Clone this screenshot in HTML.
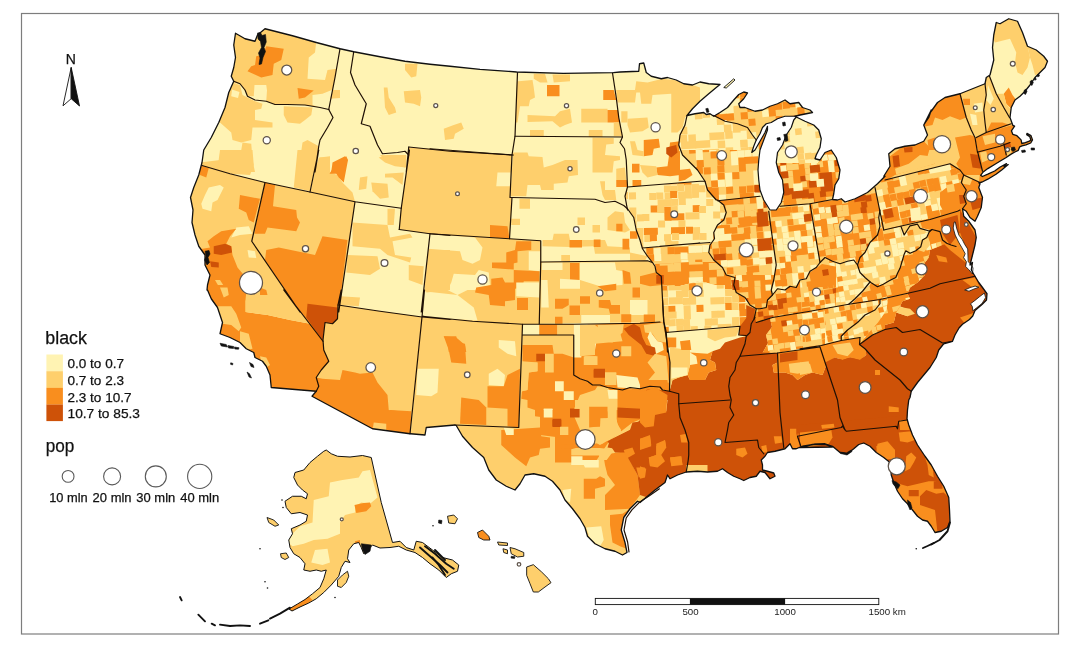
<!DOCTYPE html>
<html><head><meta charset="utf-8"><title>map</title>
<style>html,body{margin:0;padding:0;background:#fff;}svg{display:block;font-family:"Liberation Sans",Arial,sans-serif;filter:blur(0.6px);}</style></head>
<body>
<svg width="1080" height="648" viewBox="0 0 1080 648">
<rect x="0" y="0" width="1080" height="648" fill="#fff"/>
<rect x="21.5" y="13.5" width="1037" height="620.5" fill="#fff" stroke="#7d7d7d" stroke-width="1.2"/>
<defs><clipPath id="land"><polygon points="235.5,33.25 245,38.75 255,41.25 257.5,35 265,28.75 292.5,35.75 316.25,42.5 340,48.75 353.75,51.75 380,56.75 405,61.25 430,64.25 450,66.25 480,69.33 516.67,72 563.33,73.33 613.33,72.67 620,72 638.75,71.25 639.5,63.75 643.75,63 646.25,72.5 651.25,76.25 661.25,78.75 667.5,77.5 676.25,80 683.75,83.75 692.5,85 700,82 708.75,83.75 720,84.5 716.25,87.5 708.75,93.75 700,101.25 692.5,108.75 687,115.5 695,113.75 703.75,112.5 706.25,114.5 710,113.75 713.75,116.25 720,112.5 727.5,107.5 733.75,100 738.75,94.5 743.75,92 747.5,93 743.75,98.75 738.75,103.75 740,107.5 745,107.5 755,111.25 762.5,110 770,106.25 777.5,103.75 785,100 790,103.75 798.75,102.5 802.5,107.5 810,110 812.5,112.5 806.25,113.75 800,115 795,116.25 796.25,117 805,121.25 813.75,125 818.75,130 821.25,138.75 820,147.5 816.25,155 815,158.75 820,160 825,152.5 831.25,150 836.25,157.5 840,170 838.75,178.75 835,185 833.75,193.75 832.5,199.5 837.5,200 841.25,198.75 845,202 855,198.75 867.5,192.5 877.5,183.75 885,176.25 883.75,176.25 890,166.25 888.75,153.75 895,148.75 905,146.25 915,145 923.75,141.25 927.5,135 923.75,125 928.75,117.5 931.25,110 923.75,125 927.5,117.5 931.25,111.25 937.5,102.5 945,97.5 960,93.75 985,83.75 986.25,77.5 990,75 993.75,60 992.5,47.5 993.75,35 996.25,22.5 1000,23.75 1008.75,18.75 1017.5,21.25 1022.5,32.5 1027.5,46.25 1036.25,50 1043.75,56.25 1047.5,61.25 1045,67.5 1040,72.5 1035,77.5 1030,85 1025,91.25 1020,96.25 1015,100 1011.25,107.5 1010,117.5 1012.8,125.3 1014.6,126.2 1011.4,130.8 1012.8,134.3 1016.9,135.7 1021.1,139.9 1021.8,143.5 1025.3,142.6 1029.4,141.2 1030.8,139.9 1029.8,136.8 1026.7,134.6 1027,133.4 1031,135.6 1032.5,139.9 1030.7,143 1026,144.8 1022,145.8 1019.7,146.8 1018.3,150.3 1014.9,152 1010.7,154.4 1005.8,157.8 1000.3,161 995,164.3 987.8,168.6 982.9,172.3 980.6,175.3 982.4,176.5 987.8,174.2 994.7,171 999.8,167.2 1006.5,163.6 1004,166.6 1008.2,164.6 1001.7,170 996,174.3 987.8,179.2 982.2,182 978.75,182.8 980,183.75 978.75,187.5 982.5,197.5 981.25,207.5 977.5,216.25 975,221.25 970,217.5 966.25,211.25 962.5,208.75 963.75,216.25 968.75,221.25 975,230 976.25,237.5 975,245 972.5,255 970,265 972.5,262.5 971.25,270 975,276.25 978.75,282.5 982.5,287.5 987,293.75 986.5,300 982,304.5 975,310.5 972.75,316 969.5,319.5 962.5,324.25 959,328 955,335 952.5,341.25 943.75,343.75 938.75,350 936.25,357.5 930,367.5 923.75,375 917.5,382.5 911.25,391.25 910,397.5 908.75,400 907.5,410 907,418.75 908.75,425 912.5,435 917.5,445 925,456.25 931.25,465 937.5,476.25 943.75,486.25 948.75,497.5 949.5,510 950,521.25 947.5,527.5 941.25,531.25 935,532.5 931.25,526.25 927.5,521.25 922.5,520 917.5,516.25 912.5,510 907.5,503.75 902.5,498.75 897.5,491.25 893.75,482.5 891.25,475 890,462.5 883.75,457.5 876.25,452.5 870,446.25 863.75,443 858.75,444.5 853.75,448.75 847.5,453.75 840,452.5 832.5,446.25 825,443.75 812.5,444.5 800,447.5 832.5,447 825,444.5 815,444.25 802.5,446.25 796.25,448.75 792.5,448.75 790,443.75 785,448.75 775,451.25 767.5,452.5 765,456.25 761.25,460 762.5,465 762.5,470 767.5,471.25 773.75,473 775,476.25 770,478.75 765,472.5 760,471.25 756.25,476.25 750,477.5 743.75,480.5 740,478.75 733.75,476.25 727.5,472.5 722.5,468.75 717.5,471.25 707.5,472 697.5,471.25 686.25,472 677.5,475 670,478.75 667.5,475 665,482.5 655,490 647.5,496.25 640,502.5 637.5,501.25 630,508.75 623.75,517.5 621.25,530 625,542.5 627,552.5 622.5,555 615,551.25 605,548.75 595,543.75 587.5,536.25 585,527.5 580,518.75 572.5,508.75 565,500 560,490 552.5,481.25 545,476.25 533.75,473.75 525,475 520,483.75 515,490 506.25,486.25 496.25,480 488.75,470 483.75,457.5 472.5,447.5 462.5,436.25 456.25,425.5 455,425 426.25,427.5 425,435 410.5,433.75 410,433.75 372.5,428.75 312,396.25 316.25,391.25 271.25,387.5 270,375 266.25,366.25 262.5,361.25 255,357.5 253.75,352.5 246.25,348.75 240,342.5 230,337.5 220,333.75 222.5,322.5 220,315 217.5,307.5 211.25,298.75 207.5,290 207,290 207.5,285 210,275 205,265 205,255 198.75,246.25 195,235 192,222.5 193,210 190.5,197.5 193.75,187.5 198.75,175 202,162.5 203.75,150 202,162.5 203.75,150 211.25,137.5 218.75,122.5 225,107.5 228.75,92.5 233.75,81.25 231.25,76.25 233.75,67.5 235.5,57.5 233.75,45"/>
</clipPath></defs>
<polygon points="235.5,33.25 245,38.75 255,41.25 257.5,35 265,28.75 292.5,35.75 316.25,42.5 340,48.75 353.75,51.75 380,56.75 405,61.25 430,64.25 450,66.25 480,69.33 516.67,72 563.33,73.33 613.33,72.67 620,72 638.75,71.25 639.5,63.75 643.75,63 646.25,72.5 651.25,76.25 661.25,78.75 667.5,77.5 676.25,80 683.75,83.75 692.5,85 700,82 708.75,83.75 720,84.5 716.25,87.5 708.75,93.75 700,101.25 692.5,108.75 687,115.5 695,113.75 703.75,112.5 706.25,114.5 710,113.75 713.75,116.25 720,112.5 727.5,107.5 733.75,100 738.75,94.5 743.75,92 747.5,93 743.75,98.75 738.75,103.75 740,107.5 745,107.5 755,111.25 762.5,110 770,106.25 777.5,103.75 785,100 790,103.75 798.75,102.5 802.5,107.5 810,110 812.5,112.5 806.25,113.75 800,115 795,116.25 796.25,117 805,121.25 813.75,125 818.75,130 821.25,138.75 820,147.5 816.25,155 815,158.75 820,160 825,152.5 831.25,150 836.25,157.5 840,170 838.75,178.75 835,185 833.75,193.75 832.5,199.5 837.5,200 841.25,198.75 845,202 855,198.75 867.5,192.5 877.5,183.75 885,176.25 883.75,176.25 890,166.25 888.75,153.75 895,148.75 905,146.25 915,145 923.75,141.25 927.5,135 923.75,125 928.75,117.5 931.25,110 923.75,125 927.5,117.5 931.25,111.25 937.5,102.5 945,97.5 960,93.75 985,83.75 986.25,77.5 990,75 993.75,60 992.5,47.5 993.75,35 996.25,22.5 1000,23.75 1008.75,18.75 1017.5,21.25 1022.5,32.5 1027.5,46.25 1036.25,50 1043.75,56.25 1047.5,61.25 1045,67.5 1040,72.5 1035,77.5 1030,85 1025,91.25 1020,96.25 1015,100 1011.25,107.5 1010,117.5 1012.8,125.3 1014.6,126.2 1011.4,130.8 1012.8,134.3 1016.9,135.7 1021.1,139.9 1021.8,143.5 1025.3,142.6 1029.4,141.2 1030.8,139.9 1029.8,136.8 1026.7,134.6 1027,133.4 1031,135.6 1032.5,139.9 1030.7,143 1026,144.8 1022,145.8 1019.7,146.8 1018.3,150.3 1014.9,152 1010.7,154.4 1005.8,157.8 1000.3,161 995,164.3 987.8,168.6 982.9,172.3 980.6,175.3 982.4,176.5 987.8,174.2 994.7,171 999.8,167.2 1006.5,163.6 1004,166.6 1008.2,164.6 1001.7,170 996,174.3 987.8,179.2 982.2,182 978.75,182.8 980,183.75 978.75,187.5 982.5,197.5 981.25,207.5 977.5,216.25 975,221.25 970,217.5 966.25,211.25 962.5,208.75 963.75,216.25 968.75,221.25 975,230 976.25,237.5 975,245 972.5,255 970,265 972.5,262.5 971.25,270 975,276.25 978.75,282.5 982.5,287.5 987,293.75 986.5,300 982,304.5 975,310.5 972.75,316 969.5,319.5 962.5,324.25 959,328 955,335 952.5,341.25 943.75,343.75 938.75,350 936.25,357.5 930,367.5 923.75,375 917.5,382.5 911.25,391.25 910,397.5 908.75,400 907.5,410 907,418.75 908.75,425 912.5,435 917.5,445 925,456.25 931.25,465 937.5,476.25 943.75,486.25 948.75,497.5 949.5,510 950,521.25 947.5,527.5 941.25,531.25 935,532.5 931.25,526.25 927.5,521.25 922.5,520 917.5,516.25 912.5,510 907.5,503.75 902.5,498.75 897.5,491.25 893.75,482.5 891.25,475 890,462.5 883.75,457.5 876.25,452.5 870,446.25 863.75,443 858.75,444.5 853.75,448.75 847.5,453.75 840,452.5 832.5,446.25 825,443.75 812.5,444.5 800,447.5 832.5,447 825,444.5 815,444.25 802.5,446.25 796.25,448.75 792.5,448.75 790,443.75 785,448.75 775,451.25 767.5,452.5 765,456.25 761.25,460 762.5,465 762.5,470 767.5,471.25 773.75,473 775,476.25 770,478.75 765,472.5 760,471.25 756.25,476.25 750,477.5 743.75,480.5 740,478.75 733.75,476.25 727.5,472.5 722.5,468.75 717.5,471.25 707.5,472 697.5,471.25 686.25,472 677.5,475 670,478.75 667.5,475 665,482.5 655,490 647.5,496.25 640,502.5 637.5,501.25 630,508.75 623.75,517.5 621.25,530 625,542.5 627,552.5 622.5,555 615,551.25 605,548.75 595,543.75 587.5,536.25 585,527.5 580,518.75 572.5,508.75 565,500 560,490 552.5,481.25 545,476.25 533.75,473.75 525,475 520,483.75 515,490 506.25,486.25 496.25,480 488.75,470 483.75,457.5 472.5,447.5 462.5,436.25 456.25,425.5 455,425 426.25,427.5 425,435 410.5,433.75 410,433.75 372.5,428.75 312,396.25 316.25,391.25 271.25,387.5 270,375 266.25,366.25 262.5,361.25 255,357.5 253.75,352.5 246.25,348.75 240,342.5 230,337.5 220,333.75 222.5,322.5 220,315 217.5,307.5 211.25,298.75 207.5,290 207,290 207.5,285 210,275 205,265 205,255 198.75,246.25 195,235 192,222.5 193,210 190.5,197.5 193.75,187.5 198.75,175 202,162.5 203.75,150 202,162.5 203.75,150 211.25,137.5 218.75,122.5 225,107.5 228.75,92.5 233.75,81.25 231.25,76.25 233.75,67.5 235.5,57.5 233.75,45" fill="#FFF3B3"/>
<g clip-path="url(#land)">
<polygon points="225,25 265,25 340,47.5 335,77.5 329,109.5 320,107.5 305,105 287.5,104.5 275,104.5 266.25,101.25 255,100 247.5,96.25 245,90 240,83.75 225,82.5" fill="#FECF6C"/>
<polygon points="316.25,41.25 341.25,47.5 337,68.75 327.5,70 325,80 307.5,78.75 308.75,57.5 315,52.5" fill="#FFF3B3"/>
<polygon points="254.5,85 266.25,85 267,90.5 266.25,101.25 255,100 247.5,96.25 253.75,96.25" fill="#FFF3B3"/>
<polygon points="312.5,95 322.5,93.75 333,89.5 329,109.5 320,107.5 312.5,105" fill="#FFF3B3"/>
<polygon points="266.25,46.25 283.75,48.75 281.25,60 273.75,63.75 272.5,75 261.25,77.5 247.5,71.25 251.25,66.25 255,65 256.25,56.25 262.5,55" fill="#F98E1E"/>
<polygon points="297.5,88 313.75,90.5 305,97.5 298.75,98.75" fill="#F98E1E"/>
<polygon points="333,90 340,90 340,98 330,98.75" fill="#FECF6C"/>
<polygon points="240,85 242.5,95 255,101.25 262.5,103.75 261.25,108.75 255,110 255,120 272.5,122.5 272.5,127.5 252.5,127.5 251.25,140 241.25,142.5 232.5,140 231.25,132.5 220,122.5 210,120 222.5,85 231.25,82.5" fill="#FECF6C"/>
<polygon points="232,89.5 239.5,92 238,98 231.25,96.25" fill="#FFF3B3"/>
<polygon points="283.75,106.25 312.5,107.5 311.25,115 305,120 300,123.75 287.5,122.5 283.75,115" fill="#FECF6C"/>
<polygon points="220,160 230,155 241.25,150 242.5,142.5 251.25,143.75 252.5,160 255,172 195,172 200,162.5" fill="#FECF6C"/>
<polygon points="302.5,142.5 307.5,140 318.75,146.25 315,172 297.5,172 300,160" fill="#FECF6C"/>
<polygon points="220,150 252.5,150 253.75,165 250,175 230,173.75 217.5,168.75" fill="#FECF6C"/>
<polygon points="297.5,150 318.75,150 310,191.25 293.75,187.5 295,175" fill="#FECF6C"/>
<polygon points="318.75,157.5 330,157.5 330,172 316.25,172" fill="#FECF6C"/>
<polygon points="332.5,162.5 345,156.25 347.5,160 343.75,172 331.25,172" fill="#F98E1E"/>
<polygon points="378.75,157.5 387.5,155 406.25,155 406.25,167.5 395,166.25 385,162.5" fill="#FECF6C"/>
<polygon points="320,157.5 330,156.25 330,172.5 337.5,175 342.5,182.5 352.5,192.5 355,201.75 310.5,192 316.25,165" fill="#FECF6C"/>
<polygon points="336.25,162.5 346.25,156.25 348,160 343.75,182.5 338.75,177.5 336.25,173.75 329.5,173.75" fill="#F98E1E"/>
<polygon points="380,155 406.25,156.25 405,167.5 395,165 385,160" fill="#FECF6C"/>
<polygon points="385,173.75 403.75,172.5 402.5,185 392.5,177.5 385,177.5" fill="#FECF6C"/>
<polygon points="371.25,182.5 387.5,183.75 388.75,197.5 380,198.75 372.5,191.25" fill="#FECF6C"/>
<polygon points="360,177.5 367.5,176.25 366.25,188.75 358.75,190" fill="#FECF6C"/>
<polygon points="405,63.75 417.5,63.75 416.25,76.25 411.25,77.5 405,70" fill="#FECF6C"/>
<polygon points="383.75,87.5 387.5,87.5 388.75,97.5 395,107.5 396.25,112.5 388.75,115 385,107.5" fill="#FECF6C"/>
<polygon points="403.75,91.25 420,90 421.25,97.5 420,106.25 413.75,103.75 405,102.5" fill="#FECF6C"/>
<polygon points="443.75,128.75 453.75,125 461.25,122.5 463.75,128.75 455,133.75 453.75,138.75 445,140" fill="#FECF6C"/>
<polygon points="408.75,147.5 430,148.75 512,155 510,197.5 512,197.5 509.5,238.75 430,233.75 430,233.75 399.25,229.5 401.25,208.25 409.5,150 406.25,172 408.75,147" fill="#FECF6C"/>
<polygon points="497.5,172.5 510.5,172.5 510.5,186.25 496.25,186.25" fill="#FFF3B3"/>
<polygon points="490,225 507.5,226.25 509.5,238.75 490,237.5" fill="#F98E1E"/>
<polygon points="187.5,165.5 202,165.5 230,173.75 265,182.5 251.75,241.25 300,312 205,312 187.5,250" fill="#FECF6C"/>
<polygon points="200,165 208.75,168 206.25,177.5 200,175" fill="#F98E1E"/>
<polygon points="208.75,187.5 220,185 223.75,187.5 217.5,200 212.5,202.5 211.25,211.25 202.5,208.75 201.25,203.75 205,195" fill="#FFF3B3"/>
<polygon points="240,195 260,198.75 253.75,222.5 248.75,220 246.25,212.5 238.75,208.75" fill="#F98E1E"/>
<polygon points="236.25,227.5 248.75,226.25 252.5,233.75 240,235 231.25,237.5" fill="#FFF3B3"/>
<polygon points="221.25,231.25 236.25,228.75 230,236.25 226.25,243.75 231.25,246.25 232.5,255 237.5,267.5 243.75,275 241.25,288.75 246.25,293.75 242.5,312 230,312 205,312 195,285 195,250 210,247.5 207.5,241.25 213.75,236.25" fill="#F98E1E"/>
<polygon points="213.75,246.25 225,243.75 231.25,246.25 232,252.5 221.25,255 213.75,253.75" fill="#CE5208"/>
<polygon points="210,261.25 218.75,262.5 218.75,267.5 211.25,267" fill="#CE5208"/>
<polygon points="215,280 220,280 228.75,293.75 225,297.5" fill="#FECF6C"/>
<polygon points="247.5,250 255,251.25 256.25,258 248.75,257.5" fill="#FFF3B3"/>
<polygon points="260,287.5 266.25,290 267.5,295 260,295" fill="#F98E1E"/>
<polygon points="195,285 245.5,285 245.5,312 267.5,315 290,320 310,323.75 323,341.25 330,361.25 316.25,391.25 271.25,395 205,340" fill="#F98E1E"/>
<polygon points="245.5,300.5 255,297.5 265,296.25 280,288.75 284.5,288.75 310,323.75 290,320 267.5,315 245.5,312" fill="#FECF6C"/>
<polygon points="215,306.25 231.25,306.25 236.25,313.75 241.25,327.5 238.75,331.25 231.25,325 222.5,323.75 217.5,315" fill="#FECF6C"/>
<polygon points="240,331.25 248.75,333.75 252.5,348.75 246.25,350 240,343.75" fill="#FECF6C"/>
<polygon points="260,356.25 266.25,357.5 270,365 266.25,367.5 261.25,362.5" fill="#FECF6C"/>
<polygon points="220,287.5 227.5,287.5 228.75,295 223.75,297.5" fill="#FECF6C"/>
<polygon points="265,182.5 355,201.75 338.75,312 300,312 251.75,241.25" fill="#FECF6C"/>
<polygon points="265,182.5 275,185 273,206.25 296.25,210 297,217.5 300,222.5 296.25,231.25 267.5,227.5 265,233.75 254.5,233.75 256.25,222.5" fill="#F98E1E"/>
<polygon points="266.25,250 278.75,247.5 315,255 322.5,236.25 347.5,240 338.75,312 300,312 265,260" fill="#F98E1E"/>
<polygon points="283.75,290 341.25,290 338,305 337.5,318.75 332.5,323.75 325,322.5 323,341.25" fill="#F98E1E"/>
<polygon points="307.5,303.75 337.5,307.5 337.5,318.75 332.5,323.75 325,322.5 323,341.25 306.25,317.5" fill="#CE5208"/>
<polygon points="352.5,222.5 387.5,225 390,237.5 410,233.75 412.5,237.5 392.5,241.25 395,255 411.25,257.5 410,262.5 387.5,255 380,248.75 352.5,246.25" fill="#FECF6C"/>
<polygon points="347.5,255 377.5,256.25 380,268.75 370,275 346.25,272.5" fill="#FECF6C"/>
<polygon points="408.75,265 423.75,266.25 422.5,285 408.75,280" fill="#FECF6C"/>
<polygon points="387.5,208.75 395,208.75 393.75,225 387.5,225" fill="#FECF6C"/>
<polygon points="340,296.25 360,297.5 358.75,306.25 340,305" fill="#FECF6C"/>
<polygon points="338,305 380,311.25 422,317 410,433.75 372.5,428.75 312,396.25 316.25,391.25 318.75,386.25 316.25,377.5 321.25,370 328.75,361.25 323.75,350 323,340 325,322.5 332.5,323.75 337.5,318.75" fill="#FECF6C"/>
<polygon points="310,391.25 318.75,386.25 316.25,377.5 322.5,378.75 340,380 342.5,370 355,372.5 360,373.75 372.5,372.5 377.5,382.5 387.5,395 388.75,410 410,412.5 410,437.5 372.5,432.5 305,396.25" fill="#F98E1E"/>
<polygon points="373.75,422.5 386.25,423.75 386.25,432.5 372.5,430.5" fill="#FECF6C"/>
<polygon points="422,317 422.5,316.25 472.5,321.25 522.5,324.25 518.75,427.5 455,425 426.25,427.5 425,436.25 410.5,436.25" fill="#FECF6C"/>
<polygon points="443.75,336.25 456.25,337.5 465,345 466.25,363.75 451.25,362.5 448.75,350" fill="#F98E1E"/>
<polygon points="498.75,340 515,341.25 516.25,356.25 507.5,353.75 498.75,347.5" fill="#FFF3B3"/>
<polygon points="417.5,368.75 438.75,368.75 437.5,392.5 431.25,396.25 416.25,395" fill="#FFF3B3"/>
<polygon points="488.75,373.75 497.5,368.75 505,375 503.75,386.25 488.75,385" fill="#FFF3B3"/>
<polygon points="487.5,386.25 503.75,386.25 507.5,375 520,368.75 518.75,427.5 507.5,426.25 507.5,408.75 487.5,407.5" fill="#F98E1E"/>
<polygon points="461.25,397.5 478.75,400 486.25,407.5 486.25,425 460,423.75" fill="#F98E1E"/>
<polygon points="390,410 411.25,411.25 410.5,433.75 390,431.25" fill="#F98E1E"/>
<polygon points="443.75,336.25 456.25,336.25 457.5,342.5 465,343.75 466.25,352 448.75,352 447.5,342.5" fill="#F98E1E"/>
<polygon points="430,233.75 509.5,238.75 540.75,240.75 540.75,262 539.25,324.25 522.5,325 430,317.5 421.75,317" fill="#FECF6C"/>
<polygon points="430,234 475,237.5 482.5,247.5 480,260 472.5,263.75 462.5,260 460,251.25 428.25,248.75" fill="#FFF3B3"/>
<polygon points="453.75,273.75 475,275 478.75,270 488.75,272.5 490,285 475,290 467.5,290 457.5,295 447.5,290 451.25,282.5" fill="#FFF3B3"/>
<polygon points="423.5,291.25 457.5,295 473.75,307.5 477.5,320.5 430,317.75 421.75,317" fill="#FFF3B3"/>
<polygon points="516.25,241.25 531.25,241.25 531.25,250 517.5,251.25 517.5,262.5 506.25,265 506.25,252.5 515,250" fill="#F98E1E"/>
<polygon points="492,262.5 513.75,262.5 513.75,269.5 492,268" fill="#F98E1E"/>
<polygon points="528.75,251.25 540.5,251.25 540,271.25 528.75,270" fill="#FFF3B3"/>
<polygon points="513.75,270 539.5,271.25 539.25,281.25 523.75,281.25 522.5,287.5 515,288.75 515,300 505,301.25 505,306.25 490,305 488.75,295 475,292.5 476.25,287.5 491.25,285 491.25,278.75 502.5,277.5 505,282.5 513.75,282.5" fill="#F98E1E"/>
<polygon points="516.25,282.5 539.25,282.5 539.25,297.5 516.25,296.25" fill="#FFF3B3"/>
<polygon points="517,298 528,298 528,310 517,310" fill="#F98E1E"/>
<polygon points="430,250 450,250 450,290 426.25,292.5" fill="#FECF6C"/>
<polygon points="518.75,81.25 532.5,80 533.75,87.5 535,97.5 530,100 528.75,106.25 520,106.25 517.5,122.5 515.5,122.5 517,81.25" fill="#FECF6C"/>
<polygon points="533.75,73.75 545,73.75 547.5,82.5 540,82.5 533.75,78.75" fill="#FECF6C"/>
<polygon points="552.5,74.5 570,74.5 570,81.25 553.75,82.5" fill="#FECF6C"/>
<polygon points="547,85 559.5,85 559.5,96.25 547,96.25" fill="#F98E1E"/>
<polygon points="603.25,90 613.75,90 616.25,100 603.25,100" fill="#F98E1E"/>
<polygon points="527.5,115 555,116.25 560,111.25 570,108.75 572,122.5 565,125 560,127.5 552.5,121.25 527.5,122" fill="#FECF6C"/>
<polygon points="581.25,108.75 607.5,108.75 607.5,122.5 581.25,122.5" fill="#FECF6C"/>
<polygon points="607.5,110 618,110 619.5,122.5 607.5,122.5" fill="#F98E1E"/>
<polygon points="530,130 543.75,130 543.75,136.25 530,136.25" fill="#FECF6C"/>
<polygon points="588.75,130 602.5,130 602.5,137 588.75,137" fill="#FECF6C"/>
<polygon points="613.75,122.5 620,122.5 622.5,136.25 613.75,136.25" fill="#FECF6C"/>
<polygon points="513,152.5 527.5,152.5 528.75,156.25 542.5,157 543.75,167.5 552.5,165 565,160 577.5,160 578,175 568.75,176.25 567.5,182.5 553.75,183.75 553.75,190 541.25,190 540,185 527.5,185 526.25,196.25 510.5,196.25" fill="#FECF6C"/>
<polygon points="592.5,137.5 613.75,138 613.75,143.75 606.25,144.5 605,155 620,156.25 620,160 613.75,161.25 612.5,172.5 592.5,172.5" fill="#FECF6C"/>
<polygon points="616.25,168.75 625,167.5 626.25,180 616.25,180" fill="#FECF6C"/>
<polygon points="616.25,180 626.75,180 627.5,187 616.25,187" fill="#F98E1E"/>
<polygon points="600,181.25 605,181.25 605,190 615,190 616.25,200 605,200 602.5,195" fill="#FECF6C"/>
<polygon points="519.5,198.75 530,198.75 530,208.75 519.5,208.75" fill="#FECF6C"/>
<polygon points="511.25,218.75 520,218.75 520,225 511.25,225" fill="#FECF6C"/>
<polygon points="577.5,217.5 585,217.5 585,225 577.5,225" fill="#FECF6C"/>
<polygon points="592.5,225 600,225 600,232.5 592.5,232.5" fill="#FECF6C"/>
<polygon points="607.5,217.5 615,211.25 623.75,212.5 625,222.5 630,230 625,232.5 616.25,231.25 607.5,230" fill="#FECF6C"/>
<polygon points="616.25,223.75 622.5,223.75 622.5,231.25 616.25,231.25" fill="#F98E1E"/>
<polygon points="542.5,240 552.5,240 553.75,233.75 568.75,233.75 570,240 605,240 607.5,246.25 630,247.5 630,253.75 595,253.75 593.75,246.25 570,247 542.5,246.25" fill="#FECF6C"/>
<polygon points="569.5,240 582,240 582,247.5 569.5,247.5" fill="#F98E1E"/>
<polygon points="593.75,239.5 600.5,239.5 600.5,247 593.75,247" fill="#F98E1E"/>
<polygon points="622.5,238.75 629.25,238.75 629.25,249.5 622.5,249.5" fill="#F98E1E"/>
<polygon points="630,231.25 637.5,231.25 637.5,238.75 630,238.75" fill="#F98E1E"/>
<polygon points="561.25,255 570,255 570,261.25 561.25,261.25" fill="#FECF6C"/>
<polygon points="630,252.5 647.5,256.25 645,260.75 630,260.75" fill="#FECF6C"/>
<polygon points="540.75,262 647.5,260.75 652.5,262.5 655,266.25 656.25,272.5 661.25,276.25 663.75,321.75 539.25,323.75" fill="#FECF6C"/>
<polygon points="541.75,262.5 562.5,262.5 562.5,270 541.75,270" fill="#FFF3B3"/>
<polygon points="580,262.5 615,262.5 616.25,270 622.5,271.25 622.5,285 600,286.25 580,280" fill="#FFF3B3"/>
<polygon points="570,263 579.25,263 579.25,280 570,280" fill="#F98E1E"/>
<polygon points="541.25,280 547.5,280 548.75,307.5 541.25,307.5" fill="#FFF3B3"/>
<polygon points="560,278.75 580,280 580,288.75 560,288.75" fill="#FFF3B3"/>
<polygon points="555,298.75 568.75,298.75 568.75,305 562.5,308.75 555,308.75" fill="#F98E1E"/>
<polygon points="569.5,305.5 580,305.5 580,315 569.5,315" fill="#F98E1E"/>
<polygon points="580,296.25 590,296.25 590,303.75 580,303.75" fill="#F98E1E"/>
<polygon points="598.75,300 610,300 611.25,305 620,305 620,313.75 610,313.75 608.75,308.75 598.75,307.5" fill="#F98E1E"/>
<polygon points="622.5,270 630,272.5 631.25,283.75 623.75,283.75" fill="#F98E1E"/>
<polygon points="597.5,286.25 616.25,283.75 616.25,290 605,291.25" fill="#F98E1E"/>
<polygon points="632.5,287.5 640,287.5 640,297.5 632.5,297.5" fill="#F98E1E"/>
<polygon points="630,300 647.5,300 647.5,315 630,315" fill="#FFF3B3"/>
<polygon points="621.25,314.25 631.25,314.25 631.25,322.5 621.25,322.5" fill="#F98E1E"/>
<polygon points="555,316.75 562.5,316.75 562.5,323.75 555,323.75" fill="#F98E1E"/>
<polygon points="640,276.25 655,272.5 661.25,276.25 662,285 650,286.25 640,283.75" fill="#F98E1E"/>
<polygon points="643.75,314.5 655,314.5 655,322 643.75,322" fill="#F98E1E"/>
<polygon points="581.25,315 610,315 610,323.75 581.25,323.75" fill="#FFF3B3"/>
<polygon points="616.25,90 635,90 636.25,81.25 647.5,82.5 662.5,78.75 673.75,80 685,82.5 700,87.5 700,107.5 685,117.5 682.5,127.5 677.5,132.5 671.25,132.5 671.25,93.75 652.5,95 651.25,103.75 641.25,103.75 640,92.5 636.25,92.5 635,102.5 617.5,102.5" fill="#FECF6C"/>
<polygon points="627.5,118.75 647.5,117.5 648.75,127.5 642.5,131.25 630,132.5 627.5,125" fill="#FECF6C"/>
<polygon points="621.25,111.25 627.5,111.25 627.5,122.5 621.25,122.5" fill="#FECF6C"/>
<polygon points="643.75,140 658.75,138.75 660,147.5 653.75,148.75 652.5,155 643.75,156.25" fill="#F98E1E"/>
<polygon points="630,141.25 635,141.25 637.5,150 643.75,151.25 643.75,156.25 632.5,155" fill="#FECF6C"/>
<polygon points="670,142.5 680,141.25 680,175 670,176.25 657.5,175 656.25,167.5 667.5,166.25 668.75,157.5" fill="#F98E1E"/>
<polygon points="666.25,147.5 676.25,145 677.5,152.5 671.25,157.5 666.25,153.75" fill="#CE5208"/>
<polygon points="632,163.75 639.5,163.75 639.5,172.5 632,172.5" fill="#F98E1E"/>
<polygon points="632.5,180 641.25,180 641.25,186.25 632.5,186.25" fill="#F98E1E"/>
<polygon points="640,165 656.25,166.25 657.5,175 647.5,177.5 642.5,172.5" fill="#FECF6C"/>
<polygon points="678.75,170 690,168.75 692.5,175 685,180 678.75,181.25" fill="#F98E1E"/>
<polygon points="627.5,187 705,181.25 707.5,190 716.25,200 723.75,205 726.25,212.5 723.75,220 717.5,225 713.75,232.5 714.5,238.75 710,243 642.5,248 640,240 636.25,230 633.75,217.5 627.5,208.75 625,196.25" fill="#FFF3B3"/>
<polygon points="662.9,184.5 676.9,184.3 676.8,183.3 662.9,184.4" fill="#F98E1E"/>
<polygon points="677.5,185.4 691.5,185.2 691.5,182.3 677.5,183.3" fill="#F98E1E"/>
<polygon points="663.9,185.5 664,192.5 671,192.4 670.9,185.4" fill="#FECF6C"/>
<polygon points="670.4,185.7 670.5,192.7 677.5,192.6 677.4,185.6" fill="#FECF6C"/>
<polygon points="677.2,184.1 677.3,191.1 684.3,191 684.2,184" fill="#FECF6C"/>
<polygon points="684.7,184.6 685,198.6 692,198.5 691.7,184.5" fill="#FECF6C"/>
<polygon points="691.9,183.9 692.1,197.9 699.1,197.8 698.9,183.8" fill="#FECF6C"/>
<polygon points="698.3,185.3 698.4,192.3 705.4,192.2 705.2,185.2" fill="#FECF6C"/>
<polygon points="706.4,190.8 708.2,190.8 707.5,190 706.3,185.9" fill="#FECF6C"/>
<polygon points="628.1,199 628,192 626.2,192 625,196.2 625.6,199" fill="#FECF6C"/>
<polygon points="628.9,192.4 629.1,199.4 636.1,199.3 635.9,192.3" fill="#FECF6C"/>
<polygon points="649.2,193 649.3,200 656.3,199.9 656.2,192.9" fill="#FECF6C"/>
<polygon points="656.2,192.6 656.4,199.6 663.4,199.5 663.2,192.5" fill="#FECF6C"/>
<polygon points="664.6,192.7 664.7,199.7 671.7,199.6 671.6,192.6" fill="#FECF6C"/>
<polygon points="670.1,191.1 670.2,198.1 677.2,198 677.1,191" fill="#F98E1E"/>
<polygon points="678.1,191.4 678.2,198.4 685.2,198.3 685.1,191.3" fill="#FECF6C"/>
<polygon points="706.1,190.6 706.3,197.6 713.3,197.4 713.2,196.6 708,190.5" fill="#FECF6C"/>
<polygon points="657.6,199.5 657.7,206.5 671.7,206.3 671.6,199.3" fill="#FECF6C"/>
<polygon points="671.1,198.9 671.2,205.9 678.2,205.8 678.1,198.8" fill="#FECF6C"/>
<polygon points="678.7,198 678.9,205 685.9,204.9 685.7,197.9" fill="#FECF6C"/>
<polygon points="706.2,199 706.3,206 713.3,205.9 713.2,198.9" fill="#FECF6C"/>
<polygon points="720.5,205.7 724,205.6 723.8,205 720.5,202.8" fill="#FECF6C"/>
<polygon points="636.4,214.4 636.3,207.4 629.3,207.5 629.3,211.3 631.6,214.5" fill="#FECF6C"/>
<polygon points="650.6,205.6 650.7,212.6 657.7,212.4 657.6,205.4" fill="#F98E1E"/>
<polygon points="657.2,206.1 657.3,213.1 664.3,213 664.2,206" fill="#FECF6C"/>
<polygon points="664.2,206.8 664.5,220.8 671.5,220.7 671.2,206.7" fill="#F98E1E"/>
<polygon points="670.7,206.2 670.8,213.2 677.8,213.1 677.7,206.1" fill="#FECF6C"/>
<polygon points="692.7,205.2 692.8,212.2 699.8,212.1 699.7,205.1" fill="#F98E1E"/>
<polygon points="698.9,206 699,213 706,212.9 705.9,205.9" fill="#FECF6C"/>
<polygon points="720,205.7 720.1,212.7 726.2,212.6 726.2,212.5 723.9,205.6" fill="#FECF6C"/>
<polygon points="636.1,220.8 636,213.8 631.1,213.8 633.8,217.5 634.4,220.8" fill="#FECF6C"/>
<polygon points="636.7,214.4 636.9,221.4 643.9,221.2 643.7,214.2" fill="#FECF6C"/>
<polygon points="642.3,214.1 642.4,221.1 649.4,221 649.3,214" fill="#FECF6C"/>
<polygon points="670.3,213.5 670.4,220.5 684.4,220.3 684.3,213.3" fill="#F98E1E"/>
<polygon points="685.4,212.6 685.5,219.6 699.5,219.3 699.4,212.3" fill="#FECF6C"/>
<polygon points="713.1,211.6 713.2,218.6 720.2,218.5 720.1,211.5" fill="#FECF6C"/>
<polygon points="636.7,227.6 636.6,220.6 634.4,220.6 635.8,227.6" fill="#FECF6C"/>
<polygon points="658,220.5 658.1,227.5 665.1,227.4 665,220.4" fill="#FECF6C"/>
<polygon points="678.4,220.5 678.5,227.5 685.5,227.3 685.4,220.3" fill="#FECF6C"/>
<polygon points="720.7,218.7 720.8,222.4 723.8,220 724.2,218.7" fill="#F98E1E"/>
<polygon points="643.3,241.9 643.1,227.9 636.1,228 636.1,229.4 636.2,230 640,240 640.6,242" fill="#FECF6C"/>
<polygon points="643.8,228 643.9,235 657.9,234.8 657.8,227.8" fill="#F98E1E"/>
<polygon points="671,227.3 671.1,234.3 685.1,234.1 685,227.1" fill="#F98E1E"/>
<polygon points="686,226.8 686.1,233.8 693.1,233.7 693,226.7" fill="#F98E1E"/>
<polygon points="693,227.2 693.1,234.2 700.1,234.1 700,227.1" fill="#FECF6C"/>
<polygon points="644.3,235.1 644.4,242.1 651.4,242 651.3,235" fill="#FECF6C"/>
<polygon points="649.8,234.2 650,241.2 657,241.1 656.8,234.1" fill="#F98E1E"/>
<polygon points="664,234.3 664.1,241.3 671.1,241.1 671,234.1" fill="#FECF6C"/>
<polygon points="672,233.1 672.1,240.1 679.1,240 679,233" fill="#FECF6C"/>
<polygon points="692.7,232.9 692.8,239.9 699.8,239.7 699.7,232.7" fill="#FECF6C"/>
<polygon points="699.5,233 699.6,240 706.6,239.9 706.5,232.9" fill="#FECF6C"/>
<polygon points="713.3,233 713.4,239.8 714.5,238.8 713.8,233" fill="#F98E1E"/>
<polygon points="643.3,242.2 640.7,242.2 642.5,248 643.4,247.9" fill="#FECF6C"/>
<polygon points="672.2,240.8 665.2,240.9 665.3,246.3 672.3,245.8" fill="#FECF6C"/>
<polygon points="678.5,241.1 671.5,241.3 671.5,245.8 678.5,245.3" fill="#FECF6C"/>
<polygon points="642.5,248 710,243 708.75,252.5 713.75,260 716,262 690,262 655,264 652.5,262.5 647.5,256.25" fill="#FECF6C"/>
<polygon points="681.8,245.6 681.8,245.1 668.5,246.1" fill="#FFF3B3"/>
<polygon points="681.5,246.1 688.5,245.9 688.4,244.6 681.4,245.1" fill="#FFF3B3"/>
<polygon points="645.6,248.2 642.7,248.3 645.8,253.4" fill="#FFF3B3"/>
<polygon points="646.6,254.6 653.6,254.3 653.3,247.3 649.8,247.5 646.3,247.7" fill="#F98E1E"/>
<polygon points="653.6,248.2 653.8,255.2 660.8,254.9 660.6,247.9" fill="#FFF3B3"/>
<polygon points="667.5,247.2 667.7,254.2 674.7,253.9 674.5,246.9" fill="#F98E1E"/>
<polygon points="674.2,247.2 674.4,254.2 688.4,253.7 688.2,246.7" fill="#F98E1E"/>
<polygon points="688.7,246 688.9,253 695.9,252.8 695.7,245.8" fill="#FFF3B3"/>
<polygon points="695,245.7 695.2,252.7 702.2,252.5 702,245.5" fill="#FFF3B3"/>
<polygon points="709.2,244.9 702.2,245.1 702.4,252.1 708.8,251.9 709.3,248.2" fill="#FFF3B3"/>
<polygon points="708.7,245.2 708.9,251.1 709.7,245.1" fill="#FFF3B3"/>
<polygon points="654.5,261.3 654.2,254.3 647.2,254.6 647.3,255.9 647.5,256.2 651.6,261.4" fill="#F98E1E"/>
<polygon points="654.1,254.1 654.4,261.1 661.4,260.9 661.1,253.9" fill="#FFF3B3"/>
<polygon points="680.5,252.6 680.7,259.6 687.7,259.4 687.5,252.4" fill="#FFF3B3"/>
<polygon points="688.2,259.7 681.2,260 681.3,262.5 688.3,262.1" fill="#FFF3B3"/>
<polygon points="702.2,259.6 695.2,259.8 695.2,262 702.3,262" fill="#F98E1E"/>
<polygon points="655,264 690,262 716,262 722.5,267.5 726.25,275 735,277.5 733.75,285 715,285 700,281 680,286 661.7,286 661.25,276 656.25,272.5" fill="#F98E1E"/>
<polygon points="659.8,265.7 673.8,265.2 673.7,262.9 659.7,263.7" fill="#FECF6C"/>
<polygon points="674.1,271.6 681.1,271.4 680.8,262.5 673.8,262.9" fill="#FECF6C"/>
<polygon points="688.9,264.8 702.9,264.3 702.8,262 690,262 688.8,262.1" fill="#FECF6C"/>
<polygon points="667.5,264.9 667.8,271.9 674.8,271.6 674.5,264.6" fill="#FECF6C"/>
<polygon points="708.7,263 709,270 723,269.5 722.9,268.3 722.5,267.5 716.9,262.7" fill="#FECF6C"/>
<polygon points="689.3,271.4 689.5,278.4 696.5,278.2 696.3,271.2" fill="#FECF6C"/>
<polygon points="695.7,271.2 695.9,278.1 702.9,277.9 702.7,270.9" fill="#FECF6C"/>
<polygon points="716.7,269.6 717,276.6 724,276.3 723.8,270 723.4,269.4" fill="#FECF6C"/>
<polygon points="702.8,277 688.8,277.5 689.1,283.7 700,281 703,281.8" fill="#FFF3B3"/>
<polygon points="716.6,284.3 716.4,277.3 709.4,277.5 709.6,283.6 712.8,284.4" fill="#FECF6C"/>
<polygon points="730.7,277.5 731,284.5 733.8,284.4 735,277.5 734.6,277.4" fill="#FECF6C"/>
<polygon points="667.6,285.5 661.7,285.7 661.7,286 667.6,286" fill="#FFF3B3"/>
<polygon points="674.8,285 667.8,285.3 667.8,286 674.8,286" fill="#FECF6C"/>
<polygon points="731,283.1 731,285 733.8,285 734.1,283" fill="#FECF6C"/>
<polygon points="661.7,286 680,286 700,281 715,285 733.75,285 736.25,292.5 745,297.5 750,305 756.25,308.75 755,315 752,322 740,326.25 665.5,332.5 663.75,321.75" fill="#FFF3B3"/>
<polygon points="703.4,283.2 707.7,283 703.4,281.9" fill="#FECF6C"/>
<polygon points="716.8,288.8 723.8,288.5 723.7,285 716.7,285" fill="#FECF6C"/>
<polygon points="725,289.1 732,288.9 731.8,285 724.8,285" fill="#F98E1E"/>
<polygon points="667.5,291.8 667.3,286 661.7,286 662,292" fill="#F98E1E"/>
<polygon points="668.5,290.5 682.5,290 682.4,285.4 680,286 668.4,286" fill="#FECF6C"/>
<polygon points="682.1,291 689.1,290.8 688.9,283.8 688.8,283.8 681.9,285.5" fill="#FECF6C"/>
<polygon points="689.1,290.4 696.1,290.1 695.8,283.1 690.8,283.3 688.9,283.8" fill="#F98E1E"/>
<polygon points="695.8,282.8 696.1,289.8 703.1,289.5 702.8,282.5" fill="#FECF6C"/>
<polygon points="668.2,297.4 667.9,290.4 662,290.6 662.4,297.6" fill="#FECF6C"/>
<polygon points="675.9,290.7 676.1,297.7 683.1,297.4 682.9,290.4" fill="#FECF6C"/>
<polygon points="681.5,290.2 681.7,297.2 688.7,297 688.5,290" fill="#FECF6C"/>
<polygon points="688.7,290.7 689.2,304.7 696.2,304.4 695.7,290.4" fill="#FECF6C"/>
<polygon points="696.6,290 696.8,297 703.8,296.7 703.6,289.7" fill="#FECF6C"/>
<polygon points="724.9,289.3 725.2,296.3 732.2,296 731.9,289.1" fill="#FECF6C"/>
<polygon points="731.8,289.2 732.1,296.2 739.1,295.9 739,294.1 736.2,292.5 735.1,289.1" fill="#FECF6C"/>
<polygon points="738.3,302.3 745.3,302.1 745.1,297.7 745,297.5 738,293.5" fill="#F98E1E"/>
<polygon points="668.4,305.1 668.1,298.1 662.4,298.3 662.8,305.3" fill="#FECF6C"/>
<polygon points="668.8,297.6 669,304.6 683,304.1 682.7,297.1" fill="#FECF6C"/>
<polygon points="682.6,298 682.9,305 689.9,304.7 689.6,297.7" fill="#FECF6C"/>
<polygon points="710.3,297.5 710.6,304.5 724.6,304 724.3,297" fill="#FECF6C"/>
<polygon points="724.7,297 724.9,304 731.9,303.7 731.7,296.7" fill="#FECF6C"/>
<polygon points="732,295.8 732.2,302.8 739.2,302.6 739,295.6" fill="#FECF6C"/>
<polygon points="668.8,312.7 668.6,305.7 662.8,305.9 663.2,312.9" fill="#FECF6C"/>
<polygon points="668.3,306 668.5,313 675.5,312.8 675.3,305.8" fill="#F98E1E"/>
<polygon points="683.5,305.4 684,319.4 691,319.2 690.5,305.2" fill="#FECF6C"/>
<polygon points="696.4,305 696.6,312 703.6,311.7 703.4,304.7" fill="#F98E1E"/>
<polygon points="725.2,303.1 725.4,310.1 732.4,309.9 732.2,302.9" fill="#F98E1E"/>
<polygon points="731.5,303.1 731.7,310.1 738.7,309.9 738.5,302.9" fill="#FECF6C"/>
<polygon points="738.9,303.6 739.2,310.6 746.2,310.3 745.9,303.3" fill="#F98E1E"/>
<polygon points="744.8,303.2 745,310.2 752,309.9 751.9,306.1 750,305 748.7,303" fill="#FECF6C"/>
<polygon points="752.8,308.6 755.8,308.5 752.8,306.7" fill="#FECF6C"/>
<polygon points="676.7,318.5 676.5,311.5 663.2,311.9 663.6,318.9" fill="#FECF6C"/>
<polygon points="711.3,310.9 711.5,317.9 718.5,317.7 718.3,310.7" fill="#FECF6C"/>
<polygon points="717.6,310.8 717.9,317.8 724.9,317.6 724.6,310.6" fill="#FECF6C"/>
<polygon points="739.4,309.4 739.6,316.4 746.6,316.1 746.4,309.1" fill="#F98E1E"/>
<polygon points="753.4,308.8 746.4,309.1 746.9,323.1 749.2,323 752,322 753.7,317.9" fill="#FECF6C"/>
<polygon points="752.2,309.3 752.5,316.3 754.5,316.2 755,315 756.2,309.2" fill="#F98E1E"/>
<polygon points="669.9,325.3 669.6,318.3 663.6,318.5 663.8,321.8 664.4,325.5" fill="#FECF6C"/>
<polygon points="668.5,319.4 668.7,326.4 675.7,326.1 675.5,319.1" fill="#FECF6C"/>
<polygon points="675.9,318.9 676.2,325.9 683.2,325.7 682.9,318.7" fill="#FECF6C"/>
<polygon points="682.9,319.3 683.1,326.3 690.1,326.1 689.9,319.1" fill="#FECF6C"/>
<polygon points="704.7,318.8 704.9,325.8 711.9,325.6 711.7,318.6" fill="#FECF6C"/>
<polygon points="710.8,318.4 711,325.4 718,325.2 717.8,318.2" fill="#FECF6C"/>
<polygon points="738.9,316.9 731.9,317.2 732.2,326.9 739.2,326.3" fill="#FECF6C"/>
<polygon points="746.6,316.9 739.6,317.2 739.9,326.3 740,326.2 746.8,323.8" fill="#F98E1E"/>
<polygon points="668.7,326.8 664.6,327 665.5,332.5 668.9,332.2" fill="#F98E1E"/>
<polygon points="683.4,325.2 676.4,325.5 676.7,331.6 683.6,331" fill="#FECF6C"/>
<polygon points="690.3,325.4 683.3,325.6 683.5,331 690.5,330.4" fill="#FECF6C"/>
<polygon points="697.7,326 690.7,326.3 690.8,330.4 697.8,329.8" fill="#FECF6C"/>
<polygon points="711.3,325.5 704.3,325.8 704.4,329.2 711.4,328.7" fill="#FECF6C"/>
<polygon points="731.5,323.8 717.6,324.3 717.7,328.1 731.7,326.9" fill="#FECF6C"/>
<polygon points="717.5,200 760,196 764,200 768.75,211 770.5,225 721,225 723.75,220 726.25,212.5 723.75,205" fill="#F98E1E"/>
<polygon points="743.2,197.7 743.6,204.2 750.1,203.7 749.7,197.2" fill="#FECF6C"/>
<polygon points="757,209.1 763.5,208.6 762.8,198.8 760,196 756.1,196.4" fill="#FFF3B3"/>
<polygon points="763.6,202 764.8,201.9 764,200 763.4,199.4" fill="#FECF6C"/>
<polygon points="738.7,210.8 738.3,204.3 725.3,205.2 725.7,210.9 726,211.6" fill="#FECF6C"/>
<polygon points="737.6,204.6 738,211.1 744.5,210.7 744.1,204.2" fill="#FECF6C"/>
<polygon points="744,204.1 744.5,210.6 757.4,209.7 757,203.2" fill="#FECF6C"/>
<polygon points="763.5,201.7 763.9,208.2 767.4,207.9 764.7,201.6" fill="#CE5208"/>
<polygon points="726.2,218.3 725.9,213.7 724.3,218.5" fill="#FECF6C"/>
<polygon points="725.5,217.7 732,217.2 731.5,210.7 725.8,211.1 726.2,212.5 725.3,215.3" fill="#FECF6C"/>
<polygon points="737.3,211.2 737.8,217.7 744.2,217.2 743.8,210.7" fill="#FECF6C"/>
<polygon points="744.5,210 744.9,216.5 751.4,216 751,209.6" fill="#FECF6C"/>
<polygon points="750.3,210.2 750.8,216.7 757.2,216.2 756.8,209.7" fill="#FECF6C"/>
<polygon points="757.9,209.3 758.4,215.7 764.9,215.3 764.4,208.8" fill="#CE5208"/>
<polygon points="763.2,207.9 763.7,214.4 769.1,214 768.8,211 767.3,207.6" fill="#FECF6C"/>
<polygon points="726.5,224.8 726,218.3 724.3,218.5 723.8,220 721,225 723.9,225" fill="#FECF6C"/>
<polygon points="738.3,217 731.8,217.5 732.3,225 738.8,225" fill="#FECF6C"/>
<polygon points="757.6,215.8 758.1,222.3 764.6,221.8 764.1,215.4" fill="#FECF6C"/>
<polygon points="763.6,214.7 764.1,221.2 770,220.8 769.2,214.3" fill="#FECF6C"/>
<polygon points="739.3,223.5 726.3,224.4 726.4,225 739.4,225" fill="#FECF6C"/>
<polygon points="758.7,222.6 752.2,223.1 752.3,225 758.8,225" fill="#FECF6C"/>
<polygon points="721,225 770.5,225 771.25,230 776.25,265 775,275 726.25,275 722.5,267.5 713.75,260 708.75,252.5 710,245 714.5,238.75 713.75,232.5 717.5,226" fill="#FECF6C"/>
<polygon points="717.2,229 730.2,228.1 730,225 721,225 717.5,226 717,226.8" fill="#F98E1E"/>
<polygon points="737.9,227.7 744.4,227.3 744.2,225 737.7,225" fill="#F98E1E"/>
<polygon points="743.6,227 750.1,226.6 750,225 743.5,225" fill="#F98E1E"/>
<polygon points="749.8,226 756.3,225.5 756.3,225 749.8,225" fill="#F98E1E"/>
<polygon points="756.6,226.1 763,225.7 763,225 756.5,225" fill="#F98E1E"/>
<polygon points="762.5,226.3 768.9,225.8 768.9,225 762.4,225" fill="#F98E1E"/>
<polygon points="712.9,241.9 719.3,241.5 718.4,228.5 715.9,228.7 713.8,232.5 714.5,238.8 712.8,241.1" fill="#FFF3B3"/>
<polygon points="717.9,228.6 718.4,235.1 724.9,234.6 724.4,228.1" fill="#FFF3B3"/>
<polygon points="724.1,228 724.5,234.4 737.5,233.5 737,227.1" fill="#F98E1E"/>
<polygon points="743.8,227.5 744.2,234 750.7,233.6 750.2,227.1" fill="#F98E1E"/>
<polygon points="756,225.3 756.4,231.8 762.9,231.3 762.5,225 759.9,225" fill="#F98E1E"/>
<polygon points="718.8,234.4 719.3,240.9 732.3,240 731.8,233.5" fill="#FFF3B3"/>
<polygon points="731.1,234.6 731.6,241.1 744.6,240.1 744.1,233.7" fill="#F98E1E"/>
<polygon points="743.4,232.8 743.8,239.3 750.3,238.9 749.8,232.4" fill="#F98E1E"/>
<polygon points="756.6,232.3 757.1,238.8 763.6,238.3 763.1,231.8" fill="#F98E1E"/>
<polygon points="764.1,231.5 764.6,237.9 772.3,237.4 771.4,231" fill="#FFF3B3"/>
<polygon points="712.1,248.8 711.7,242.6 710,245 709.3,249" fill="#F98E1E"/>
<polygon points="718.3,241.3 718.8,247.8 731.7,246.8 731.3,240.4" fill="#F98E1E"/>
<polygon points="744.7,239.7 745.1,246.2 751.6,245.7 751.1,239.3" fill="#FFF3B3"/>
<polygon points="751,238.6 751.5,245.1 758,244.7 757.5,238.2" fill="#FFF3B3"/>
<polygon points="764,238.9 764.5,245.4 771,244.9 770.5,238.5" fill="#F98E1E"/>
<polygon points="770.2,237.4 770.7,243.9 773.2,243.7 772.3,237.3" fill="#F98E1E"/>
<polygon points="712.5,248.7 712.9,255.2 719.4,254.8 719,248.3" fill="#F98E1E"/>
<polygon points="719.3,247.5 720.2,260.4 726.7,260 725.8,247" fill="#F98E1E"/>
<polygon points="751.8,246.3 752.2,252.8 758.7,252.3 758.2,245.8" fill="#FFF3B3"/>
<polygon points="758.1,245.1 758.6,251.6 765.1,251.1 764.6,244.6" fill="#F98E1E"/>
<polygon points="770.3,245.2 770.7,251.7 774.3,251.4 773.4,245" fill="#F98E1E"/>
<polygon points="726.9,259.9 726.4,253.4 713.5,254.4 713.9,260.1 714.7,260.8" fill="#CE5208"/>
<polygon points="725.6,254 726,260.5 732.5,260.1 732,253.6" fill="#F98E1E"/>
<polygon points="738.2,252.7 738.7,259.2 751.6,258.3 751.2,251.8" fill="#F98E1E"/>
<polygon points="758.8,251.2 759.3,257.7 765.8,257.2 765.3,250.7" fill="#FFF3B3"/>
<polygon points="764.3,251.2 764.8,257.7 771.3,257.3 770.8,250.8" fill="#FFF3B3"/>
<polygon points="770.6,250.5 771.5,263.4 776,263.1 774.1,250.2" fill="#FFF3B3"/>
<polygon points="720.8,260.7 715.1,261.1 721.2,266.4" fill="#F98E1E"/>
<polygon points="727.7,266.5 727.2,260 720.7,260.4 721.1,266.3 721.8,266.9" fill="#FFF3B3"/>
<polygon points="727.1,260.5 727.5,266.9 740.5,266 740,259.5" fill="#FFF3B3"/>
<polygon points="740.2,259.1 740.6,265.6 747.1,265.1 746.7,258.6" fill="#F98E1E"/>
<polygon points="746.1,259.4 746.6,265.9 753,265.4 752.6,258.9" fill="#F98E1E"/>
<polygon points="752.9,258 753.4,264.5 759.9,264 759.4,257.5" fill="#FFF3B3"/>
<polygon points="759,259.1 759.5,265.6 766,265.1 765.5,258.6" fill="#FFF3B3"/>
<polygon points="765.5,257.5 766,264 772.5,263.6 772,257.1" fill="#CE5208"/>
<polygon points="726.7,267.8 727.1,274.3 733.6,273.9 733.2,267.4" fill="#F98E1E"/>
<polygon points="746.7,266.4 747.2,272.9 753.6,272.5 753.2,266" fill="#F98E1E"/>
<polygon points="752.3,265.9 752.8,272.4 759.3,272 758.8,265.5" fill="#F98E1E"/>
<polygon points="771.5,263.5 772.3,275 775,275 776.2,265 776,263.1" fill="#FFF3B3"/>
<polygon points="752.8,271.6 746.3,272.1 746.5,275 753,275" fill="#F98E1E"/>
<polygon points="726.25,275 775,275 773.75,280 771.25,290 772.5,295 767.5,300 766.25,307.5 760,308.75 756.25,308.75 750,305 745,297.5 736.25,292.5 733.75,285 735,277.5" fill="#F98E1E"/>
<polygon points="729.5,275 726.2,275 729.6,276" fill="#FECF6C"/>
<polygon points="734.5,275.4 734.4,275 728.4,275 728.5,275.6 729,275.8" fill="#FECF6C"/>
<polygon points="735.4,280.9 734.9,275 733.2,275 729,275.3 729,275.8 735,277.5 734.4,280.9" fill="#FECF6C"/>
<polygon points="735.9,275.3 736.3,281.3 742.3,280.9 741.8,275 740.2,275" fill="#FFF3B3"/>
<polygon points="765.2,279.9 771.2,279.5 770.9,275 764.9,275" fill="#FFF3B3"/>
<polygon points="736.6,287.6 736.2,281.6 734.3,281.7 733.8,285 734.7,287.7" fill="#FECF6C"/>
<polygon points="736,281.3 736.4,287.3 742.4,286.8 741.9,280.9" fill="#FECF6C"/>
<polygon points="741.8,281.4 742.2,287.4 748.2,287 747.8,281" fill="#FECF6C"/>
<polygon points="754.3,280.8 754.7,286.8 760.7,286.4 760.3,280.4" fill="#FECF6C"/>
<polygon points="754.4,286.7 755.2,298.7 761.2,298.3 760.4,286.3" fill="#FECF6C"/>
<polygon points="771.2,284.4 765.3,284.8 765.7,290.8 771.4,290.4 771.2,290 771.6,288.8" fill="#FFF3B3"/>
<polygon points="748.6,298 748.2,292 736.7,292.8 745,297.5 745.4,298.2" fill="#FECF6C"/>
<polygon points="748.1,298.3 745.7,298.5 748.4,302.5" fill="#CE5208"/>
<polygon points="755,304.3 749.8,304.7 750,305 755.3,308.2" fill="#FECF6C"/>
<polygon points="761.6,303.5 761.9,308.4 766.2,307.5 767,303.1" fill="#FECF6C"/>
<polygon points="768.75,211 776,210 780,206.25 810,203.75 820,262.5 816.25,267.5 810,271.25 806.25,278.75 800,280 796.25,287.5 790,286.25 785,290 777.5,288.75 772.5,295 771.25,290 773.75,280 776.25,265 771.25,230" fill="#FECF6C"/>
<polygon points="780,208.7 779.7,206.5 777,209" fill="#FFF3B3"/>
<polygon points="797.9,207 803.9,206.3 803.6,204.3 797.7,204.8" fill="#FFF3B3"/>
<polygon points="803.2,205.1 809.1,204.5 809.1,203.8 803.1,204.3" fill="#FFF3B3"/>
<polygon points="785.5,207.1 786.2,213.1 792.1,212.4 791.5,206.5" fill="#F98E1E"/>
<polygon points="791.6,206.8 792.3,212.8 798.2,212.2 797.6,206.2" fill="#F98E1E"/>
<polygon points="803,205.4 803.6,211.3 809.6,210.7 808.9,204.7" fill="#FFF3B3"/>
<polygon points="809.1,205.8 810.4,217.8 812.4,217.6 810.3,205.7" fill="#F98E1E"/>
<polygon points="792.1,213.4 792.7,219.3 804.7,218.1 804,212.1" fill="#FFF3B3"/>
<polygon points="775.6,226.9 775,221 770.1,221.5 770.9,227.4" fill="#F98E1E"/>
<polygon points="775.4,221.2 776,227.2 782,226.6 781.4,220.6" fill="#FFF3B3"/>
<polygon points="787.1,219.6 787.7,225.5 793.6,224.9 793,218.9" fill="#F98E1E"/>
<polygon points="798.4,218.9 799,224.8 805,224.2 804.3,218.2" fill="#FFF3B3"/>
<polygon points="811.3,217.7 811.9,223.7 813.4,223.5 812.4,217.6" fill="#FFF3B3"/>
<polygon points="776.8,232.4 776.2,226.4 770.9,227 771.2,230 771.7,232.9" fill="#F98E1E"/>
<polygon points="781.3,226.4 781.9,232.4 787.9,231.7 787.2,225.8" fill="#FFF3B3"/>
<polygon points="788.2,225.9 788.8,231.8 800.8,230.6 800.1,224.6" fill="#F98E1E"/>
<polygon points="799.5,224.7 800.1,230.7 806.1,230 805.5,224.1" fill="#F98E1E"/>
<polygon points="806.1,224.1 806.7,230.1 812.7,229.4 812.1,223.5" fill="#FFF3B3"/>
<polygon points="810.9,222.6 811.5,228.6 814.2,228.3 813.2,222.4" fill="#FFF3B3"/>
<polygon points="777.4,239.1 776.7,233.2 771.8,233.7 772.6,239.6" fill="#FFF3B3"/>
<polygon points="782.6,232.7 783.2,238.7 789.1,238.1 788.5,232.1" fill="#FFF3B3"/>
<polygon points="793.9,231 795.2,243 801.1,242.3 799.9,230.4" fill="#FFF3B3"/>
<polygon points="800.7,230.7 801.4,236.6 807.3,236 806.7,230" fill="#F98E1E"/>
<polygon points="812.3,229.7 812.9,235.7 815.4,235.4 814.4,229.5" fill="#FFF3B3"/>
<polygon points="777.1,244.4 776.5,238.4 772.5,238.9 773.4,244.8" fill="#F98E1E"/>
<polygon points="776.3,239.2 777.6,251.1 783.5,250.5 782.3,238.5" fill="#FFF3B3"/>
<polygon points="782.8,238.8 783.4,244.8 789.4,244.1 788.7,238.2" fill="#FFF3B3"/>
<polygon points="788.2,237.6 788.9,243.6 794.8,242.9 794.2,237" fill="#FFF3B3"/>
<polygon points="800.9,236.7 801.5,242.7 813.5,241.4 812.8,235.4" fill="#FFF3B3"/>
<polygon points="812.4,235.8 813,241.8 816.4,241.4 815.4,235.5" fill="#F98E1E"/>
<polygon points="783,244.9 783.6,250.9 789.6,250.3 789,244.3" fill="#FFF3B3"/>
<polygon points="789.3,244 789.9,250 795.9,249.3 795.3,243.4" fill="#FFF3B3"/>
<polygon points="795.4,242.5 796,248.5 802,247.8 801.4,241.9" fill="#FFF3B3"/>
<polygon points="800.9,242.7 802.2,254.6 808.2,254 806.9,242.1" fill="#F98E1E"/>
<polygon points="807,241.2 807.6,247.2 813.5,246.5 812.9,240.6" fill="#FFF3B3"/>
<polygon points="813.9,241.2 814.6,247.2 817.3,246.9 816.3,241" fill="#FFF3B3"/>
<polygon points="784.7,249.7 785.3,255.6 791.3,255 790.7,249" fill="#FFF3B3"/>
<polygon points="790.7,250 791.3,255.9 797.3,255.3 796.6,249.3" fill="#F98E1E"/>
<polygon points="795.6,249.5 796.2,255.5 808.2,254.2 807.5,248.3" fill="#F98E1E"/>
<polygon points="807.5,248.1 808.1,254.1 818.4,253 817.4,247.1" fill="#FFF3B3"/>
<polygon points="779.3,257.1 779.9,263.1 785.9,262.5 785.3,256.5" fill="#F98E1E"/>
<polygon points="785.3,255.6 785.9,261.6 791.9,260.9 791.3,255" fill="#FFF3B3"/>
<polygon points="790.5,255.5 791.1,261.5 797.1,260.8 796.4,254.9" fill="#F98E1E"/>
<polygon points="808.1,253.3 808.7,259.2 814.7,258.6 814.1,252.6" fill="#F98E1E"/>
<polygon points="814.4,253.6 815,259.6 819.4,259.1 818.4,253.2" fill="#FFF3B3"/>
<polygon points="780.1,268.9 779.5,262.9 776,263.3 776.2,265 775.5,269.4" fill="#FFF3B3"/>
<polygon points="779.8,263.3 780.4,269.3 786.4,268.6 785.8,262.7" fill="#FFF3B3"/>
<polygon points="784.8,262.3 785.4,268.3 791.4,267.7 790.7,261.7" fill="#F98E1E"/>
<polygon points="780.2,275 779.6,269 775.5,269.5 774.5,275.6" fill="#F98E1E"/>
<polygon points="780.4,268.5 781,274.4 787,273.8 786.4,267.8" fill="#F98E1E"/>
<polygon points="785.7,267.8 786.3,273.8 792.3,273.1 791.7,267.2" fill="#F98E1E"/>
<polygon points="797.4,266.5 798,272.5 804,271.9 803.3,265.9" fill="#FFF3B3"/>
<polygon points="816.2,264.6 810.2,265.2 810.8,270.8 816.2,267.5 816.4,267.3" fill="#FFF3B3"/>
<polygon points="816.4,265.3 816.5,267.1 818,265.1" fill="#FFF3B3"/>
<polygon points="779.9,274.5 781.2,286.5 787.2,285.8 785.9,273.9" fill="#F98E1E"/>
<polygon points="797.9,273 791.9,273.6 793.2,285.5 797.5,285.1 798.9,282.2" fill="#FFF3B3"/>
<polygon points="798.1,273.4 798.7,279.3 804.7,278.7 804,272.8" fill="#F98E1E"/>
<polygon points="809.9,271.4 803.9,272 804.5,277.9 806.8,277.7 809.9,271.5" fill="#FFF3B3"/>
<polygon points="775.2,281.4 773.4,281.6 771.2,290 772.2,293.8 773.6,293.6 776.2,290.4" fill="#FFF3B3"/>
<polygon points="774.8,280.6 775.5,286.5 787.4,285.3 786.8,279.3" fill="#F98E1E"/>
<polygon points="805.6,278.7 799.7,279.4 799.8,280.4 800,280 805.7,278.9" fill="#FFF3B3"/>
<polygon points="804.5,277.9 804.6,279.1 806.2,278.8 806.8,277.6" fill="#FFF3B3"/>
<polygon points="782.1,286.2 776.1,286.9 776.5,290.1 777.5,288.8 782.4,289.6" fill="#FFF3B3"/>
<polygon points="788.5,286.3 782.5,286.9 782.8,289.6 785,290 788.6,287.3" fill="#FFF3B3"/>
<polygon points="810,203.75 832.5,199.5 837.5,200 841.25,198.75 845,202 855,198.75 867.5,192.5 875,186.5 880,210 878.75,217.5 880,226.25 877.5,235 870,242.5 865,252.5 860,257.5 857.5,265 853.75,260 847.5,261.25 840,263.75 832.5,261.25 825,257.5 820,262.5" fill="#F98E1E"/>
<polygon points="875.3,188.1 875,186.5 872.5,188.5" fill="#FECF6C"/>
<polygon points="823.2,201.5 835.1,199.8 835,199.8 832.5,199.5 823.1,201.3" fill="#FFF3B3"/>
<polygon points="864.6,195.3 864.5,194 860.8,195.9" fill="#FECF6C"/>
<polygon points="865.1,194.9 871.1,194.1 870.5,190.1 867.5,192.5 865,193.8" fill="#FECF6C"/>
<polygon points="871.1,193.8 876.4,193.1 875.1,187.2 873.9,187.4 870.6,190" fill="#FECF6C"/>
<polygon points="812.9,208.9 818.8,208 818,202.2 812.1,203.3" fill="#FECF6C"/>
<polygon points="842.3,203.9 848.2,203 847.9,201 845,202 841.6,199.1" fill="#FECF6C"/>
<polygon points="854.5,202.2 866.4,200.6 865.6,194.6 862.3,195.1 855,198.8 854.1,199" fill="#CE5208"/>
<polygon points="865,195.8 865.8,201.8 871.8,201 871,195" fill="#CE5208"/>
<polygon points="814.3,221.2 812.7,209.3 811,209.6 813,221.4" fill="#FECF6C"/>
<polygon points="818.4,207.6 819.2,213.6 825.2,212.7 824.3,206.8" fill="#FFF3B3"/>
<polygon points="825.1,207.6 826,213.6 831.9,212.7 831.1,206.8" fill="#FFF3B3"/>
<polygon points="830.2,205.5 831.9,217.4 837.9,216.6 836.2,204.7" fill="#CE5208"/>
<polygon points="836.2,205.5 837.1,211.5 843,210.6 842.2,204.7" fill="#FECF6C"/>
<polygon points="842.1,205.3 843,211.2 848.9,210.4 848.1,204.4" fill="#FECF6C"/>
<polygon points="860.8,202.1 861.6,208 867.5,207.2 866.7,201.2" fill="#CE5208"/>
<polygon points="877.7,199.7 878.5,205.6 879.1,205.5 877.8,199.7" fill="#FECF6C"/>
<polygon points="813.9,214.8 814.8,220.8 820.7,219.9 819.9,214" fill="#FFF3B3"/>
<polygon points="820,213.3 820.8,219.2 826.8,218.4 825.9,212.5" fill="#FECF6C"/>
<polygon points="825.6,213.4 826.4,219.3 832.3,218.5 831.5,212.5" fill="#FECF6C"/>
<polygon points="836.7,211.4 837.5,217.3 849.4,215.7 848.6,209.7" fill="#FECF6C"/>
<polygon points="860.3,207.6 861.1,213.6 867,212.7 866.2,206.8" fill="#CE5208"/>
<polygon points="815.4,232.8 813.7,220.9 812.9,221 815,232.9" fill="#FFF3B3"/>
<polygon points="826.5,218.7 827.4,224.6 833.3,223.8 832.5,217.9" fill="#FFF3B3"/>
<polygon points="831.3,217.6 832.2,223.5 838.1,222.7 837.3,216.7" fill="#FFF3B3"/>
<polygon points="838.4,217.9 839.2,223.9 845.1,223 844.3,217.1" fill="#FECF6C"/>
<polygon points="850.5,214.8 851.3,220.7 863.2,219 862.4,213.1" fill="#FECF6C"/>
<polygon points="867.2,213.6 868,219.6 873.9,218.7 873.1,212.8" fill="#FECF6C"/>
<polygon points="874.4,211.8 875.2,217.7 878.8,217.2 879.8,211" fill="#FECF6C"/>
<polygon points="814.8,226.8 815.6,232.7 821.6,231.9 820.8,225.9" fill="#FFF3B3"/>
<polygon points="827.1,224.5 828.8,236.4 834.7,235.6 833.1,223.7" fill="#FECF6C"/>
<polygon points="833.8,224.3 834.6,230.3 846.5,228.6 845.7,222.7" fill="#FECF6C"/>
<polygon points="844.3,222.2 846,234.1 852,233.3 850.3,221.4" fill="#FECF6C"/>
<polygon points="851.4,221 852.2,227 858.2,226.1 857.3,220.2" fill="#FECF6C"/>
<polygon points="869.4,218.9 870.2,224.9 876.1,224 875.3,218.1" fill="#CE5208"/>
<polygon points="874.6,218.3 875.5,224.3 879.6,223.7 878.8,217.8" fill="#FECF6C"/>
<polygon points="815.6,233.2 816.5,239.1 822.4,238.3 821.6,232.4" fill="#FFF3B3"/>
<polygon points="834,229.9 834.8,235.9 840.8,235 839.9,229.1" fill="#FECF6C"/>
<polygon points="852.2,227.6 853.1,233.6 859,232.7 858.2,226.8" fill="#FECF6C"/>
<polygon points="863.5,225.2 864.4,231.1 870.3,230.3 869.5,224.3" fill="#FFF3B3"/>
<polygon points="875.7,223.9 876.5,229.8 879.1,229.5 880,226.2 879.6,223.3" fill="#FECF6C"/>
<polygon points="816.8,237.7 817.6,243.6 823.6,242.8 822.7,236.8" fill="#FECF6C"/>
<polygon points="822.7,237.5 823.6,243.4 829.5,242.6 828.7,236.6" fill="#FECF6C"/>
<polygon points="828.3,236.5 829.2,242.5 835.1,241.6 834.3,235.7" fill="#FECF6C"/>
<polygon points="835.5,236.4 836.3,242.4 842.2,241.5 841.4,235.6" fill="#FFF3B3"/>
<polygon points="858.8,232.7 859.7,238.7 871.6,237 870.7,231.1" fill="#FECF6C"/>
<polygon points="876.2,229.8 877,235.5 877.5,235 879.1,229.4" fill="#FECF6C"/>
<polygon points="818.9,250.3 818.1,244.4 816.9,244.6 818,250.5" fill="#FECF6C"/>
<polygon points="817.4,245 818.3,250.9 824.2,250.1 823.4,244.1" fill="#FECF6C"/>
<polygon points="823.4,243.3 824.2,249.2 830.2,248.4 829.3,242.4" fill="#FECF6C"/>
<polygon points="836.1,241.9 836.9,247.9 842.9,247.1 842.1,241.1" fill="#FFF3B3"/>
<polygon points="847.4,240.2 848.2,246.1 854.1,245.3 853.3,239.4" fill="#FECF6C"/>
<polygon points="859.8,239.1 860.7,245 866.6,244.2 865.8,238.3" fill="#CE5208"/>
<polygon points="871.7,237 865.7,237.8 866.5,243.8 869.6,243.4 870,242.5 872.1,240.4" fill="#FECF6C"/>
<polygon points="825.2,249.5 826,255.5 831.9,254.6 831.1,248.7" fill="#FECF6C"/>
<polygon points="831,249.2 831.8,255.2 843.7,253.5 842.8,247.6" fill="#FECF6C"/>
<polygon points="848,246.3 848.8,252.2 860.7,250.5 859.9,244.6" fill="#FECF6C"/>
<polygon points="866.3,243.6 860.3,244.5 861.2,250.4 866.4,249.7 867,248.6" fill="#FECF6C"/>
<polygon points="866.5,244 867.1,248.2 869.5,243.5" fill="#CE5208"/>
<polygon points="825.8,256 819.8,256.8 820.6,261.9 825,257.5 826.1,258" fill="#FECF6C"/>
<polygon points="836.6,254.3 837.5,260.2 843.4,259.4 842.6,253.4" fill="#FECF6C"/>
<polygon points="849.4,251.5 850.2,257.4 856.2,256.6 855.3,250.6" fill="#FECF6C"/>
<polygon points="861.4,250.9 862,255.5 865,252.5 866.2,250.2" fill="#FECF6C"/>
<polygon points="838.1,260 831.7,260.9 832.5,261.2 838.5,263.3" fill="#FECF6C"/>
<polygon points="843.4,258.8 837.5,259.6 838,263.1 840,263.8 843.9,262.4" fill="#FECF6C"/>
<polygon points="849.4,258.1 843.5,258.9 844,262.4 847.5,261.2 849.8,260.8" fill="#FECF6C"/>
<polygon points="855.2,257.2 849.2,258 849.6,260.8 853.8,260 856,263" fill="#FFF3B3"/>
<polygon points="856.6,262.5 856.8,264.1 857.5,265 858.4,262.2" fill="#FFF3B3"/>
<polygon points="756.25,308.75 760,308.75 766.25,307.5 767.5,300 772.5,295 777.5,288.75 785,290 790,286.25 796.25,287.5 800,280 802,312.5 772.5,317.5 756.25,322.5 753.75,320 755,315" fill="#F98E1E"/>
<polygon points="781.2,289.4 781.2,289.4 777.5,288.8 776.5,290" fill="#FECF6C"/>
<polygon points="790.1,288 789.9,286.3 787.2,288.3" fill="#CE5208"/>
<polygon points="771.4,300.4 776.3,299.8 775.3,291.5 772.5,295 770.9,296.6" fill="#FECF6C"/>
<polygon points="776,294.1 781,293.5 780.4,289.2 778.1,288.8 777.4,288.9 775.6,291.1" fill="#FECF6C"/>
<polygon points="780.9,293.6 785.8,293 785.4,289.7 785,290 780.3,289.2" fill="#FFF3B3"/>
<polygon points="771.7,300.6 771.2,296.3 767.5,300 767.3,301.2" fill="#FECF6C"/>
<polygon points="786.3,293 786.9,297.9 791.8,297.3 791.2,292.4" fill="#FECF6C"/>
<polygon points="772.4,300.6 773,305.6 777.9,305 777.3,300" fill="#FECF6C"/>
<polygon points="777.2,299.2 778.4,309.2 783.4,308.5 782.2,298.6" fill="#CE5208"/>
<polygon points="781.4,298.4 782,303.4 787,302.8 786.4,297.8" fill="#CE5208"/>
<polygon points="796.3,297.5 797,302.5 801.3,301.9 801,296.9" fill="#FECF6C"/>
<polygon points="758.1,311.8 757.7,308.8 756.2,308.8 755.6,312.1" fill="#FECF6C"/>
<polygon points="767.8,305.2 768.5,310.1 773.4,309.5 772.8,304.5" fill="#CE5208"/>
<polygon points="772.1,305.4 772.7,310.3 777.7,309.7 777.1,304.7" fill="#CE5208"/>
<polygon points="757.9,311.9 758.5,316.9 763.5,316.3 762.9,311.3" fill="#CE5208"/>
<polygon points="773.6,310.1 768.7,310.7 769.6,318.4 772.5,317.5 774.5,317.2" fill="#FECF6C"/>
<polygon points="787.7,307.8 788.3,312.7 793.3,312.1 792.7,307.2" fill="#FECF6C"/>
<polygon points="792.4,307.1 793,312.1 797.9,311.5 797.3,306.5" fill="#FECF6C"/>
<polygon points="773.4,315 763.4,316.2 763.9,320.1 772.5,317.5 773.7,317.3" fill="#CE5208"/>
<polygon points="783.4,314.3 778.4,315 778.6,316.5 783.6,315.6" fill="#FECF6C"/>
<polygon points="793.3,312.5 788.4,313.2 788.6,314.8 793.5,313.9" fill="#FECF6C"/>
<polygon points="798.3,312.4 793.3,313 793.5,313.9 798.4,313.1" fill="#CE5208"/>
<polygon points="800,280 806.25,278.75 810,271.25 816.25,267.5 820,262.5 825,257.5 832.5,261.25 836,263 836,306.5 810,311.25 802,312.5" fill="#FECF6C"/>
<polygon points="824.6,259.4 824.4,258.1 822.8,259.7" fill="#F98E1E"/>
<polygon points="827.1,258.6 825,257.5 823.4,259.1" fill="#FFF3B3"/>
<polygon points="829.5,263.3 834.5,262.6 834.4,262.2 832.5,261.2 829,259.5" fill="#F98E1E"/>
<polygon points="811.3,275.7 816.3,275 815.3,268.1 810.6,270.9" fill="#FFF3B3"/>
<polygon points="829.3,263 830,268 835,267.3 834.3,262.3" fill="#FFF3B3"/>
<polygon points="815.2,271 815.9,276 820.9,275.3 820.2,270.3" fill="#F98E1E"/>
<polygon points="835.6,267.1 830.7,267.8 831.4,272.8 836,272.1 836,269.9" fill="#FFF3B3"/>
<polygon points="811.8,276.1 812.5,281.1 817.4,280.4 816.7,275.4" fill="#F98E1E"/>
<polygon points="815.9,275.9 816.6,280.9 821.5,280.2 820.8,275.2" fill="#F98E1E"/>
<polygon points="826.2,274.5 826.9,279.4 831.9,278.7 831.2,273.8" fill="#FFF3B3"/>
<polygon points="835.7,273 830.8,273.7 831.5,278.7 836,278.1 836,274.9" fill="#FFF3B3"/>
<polygon points="802.4,287.4 801.7,282.4 800.2,282.6 800.5,287.6" fill="#FFF3B3"/>
<polygon points="806.4,281.8 807,286.8 817,285.4 816.3,280.4" fill="#F98E1E"/>
<polygon points="821.7,279.4 823.1,289.3 828.1,288.6 826.7,278.7" fill="#F98E1E"/>
<polygon points="827,279 827.7,284 836,282.8 836,277.8" fill="#F98E1E"/>
<polygon points="807.9,286.3 808.6,291.3 818.5,289.9 817.8,284.9" fill="#F98E1E"/>
<polygon points="827.7,283.7 828.4,288.7 833.3,288 832.6,283" fill="#F98E1E"/>
<polygon points="832.9,282.9 833.6,287.9 836,287.6 836,282.5" fill="#F98E1E"/>
<polygon points="803.8,292.9 804.5,297.9 809.4,297.2 808.7,292.2" fill="#FFF3B3"/>
<polygon points="812.8,291.5 813.5,296.4 818.5,295.7 817.8,290.8" fill="#FFF3B3"/>
<polygon points="818.1,291 818.8,295.9 823.8,295.2 823.1,290.3" fill="#F98E1E"/>
<polygon points="823.6,289.9 824.3,294.8 834.2,293.4 833.5,288.5" fill="#F98E1E"/>
<polygon points="832.5,288.5 833.2,293.4 836,293 836,288" fill="#CE5208"/>
<polygon points="803.9,297.4 804.6,302.3 809.6,301.6 808.9,296.7" fill="#F98E1E"/>
<polygon points="814.3,296.4 815,301.4 824.9,300 824.2,295" fill="#FFF3B3"/>
<polygon points="824.2,294.7 824.9,299.7 829.9,299 829.2,294" fill="#CE5208"/>
<polygon points="834.3,293 835,297.9 836,297.8 836,292.7" fill="#F98E1E"/>
<polygon points="810.2,306.1 809.5,301.2 801.4,302.3 801.7,307.3" fill="#F98E1E"/>
<polygon points="809.6,302.2 810.3,307.1 815.2,306.4 814.5,301.5" fill="#F98E1E"/>
<polygon points="814.3,301.5 815,306.5 819.9,305.8 819.2,300.8" fill="#FFF3B3"/>
<polygon points="819.5,300.4 820.2,305.4 825.1,304.7 824.4,299.7" fill="#F98E1E"/>
<polygon points="825.1,299.2 825.8,304.2 830.8,303.5 830.1,298.5" fill="#F98E1E"/>
<polygon points="834.6,297.8 835.8,306.5 836,306.5 836,297.6" fill="#F98E1E"/>
<polygon points="810.1,307.2 801.7,308.4 802,312.5 810,311.2 810.7,311.1" fill="#F98E1E"/>
<polygon points="820.3,304.6 815.3,305.3 816,310.2 820.9,309.3" fill="#F98E1E"/>
<polygon points="834.7,302.9 824.7,304.3 825.3,308.4 835.2,306.7" fill="#FFF3B3"/>
<polygon points="809,273 822,264 838,267 842,282 826,287 812,287" fill="#F98E1E"/>
<polygon points="822,270 828,269 829,275 823,276" fill="#CE5208"/>
<polygon points="836,263 840,263.75 847.5,261.25 853.75,260 857.5,265 860,272.5 870,281.25 862.5,291.25 855,298.75 848.75,304.25 836,306.5" fill="#FECF6C"/>
<polygon points="836.1,272.8 841,272 839.7,263.7 836,263 836,272.4" fill="#FFF3B3"/>
<polygon points="845.4,265.8 850.4,265 849.7,260.8 847.5,261.2 844.9,262.1" fill="#FFF3B3"/>
<polygon points="850.3,265 855.3,264.2 854.8,261.4 853.8,260 849.7,260.8" fill="#FFF3B3"/>
<polygon points="836.4,272 837.2,276.9 842.2,276.1 841.4,271.2" fill="#FFF3B3"/>
<polygon points="841.4,271.9 842.2,276.9 847.1,276.1 846.3,271.2" fill="#FFF3B3"/>
<polygon points="850.2,270.5 851,275.4 856,274.6 855.2,269.7" fill="#FFF3B3"/>
<polygon points="855.4,269 856.9,278.9 861.9,278.1 861.1,273.5 860,272.5 858.7,268.5" fill="#FFF3B3"/>
<polygon points="838.1,287.5 836.6,277.6 836,277.7 836,287.8" fill="#FFF3B3"/>
<polygon points="837.1,277.1 837.8,282.1 842.8,281.3 842,276.3" fill="#F98E1E"/>
<polygon points="862.5,278.6 866.2,278 861.8,274.1" fill="#FFF3B3"/>
<polygon points="838,281.9 838.7,286.8 843.7,286 842.9,281.1" fill="#FFF3B3"/>
<polygon points="842.7,280.9 843.5,285.8 853.4,284.3 852.6,279.3" fill="#FFF3B3"/>
<polygon points="852.1,279.4 852.9,284.4 857.9,283.6 857.1,278.6" fill="#FFF3B3"/>
<polygon points="838.9,292.3 838.1,287.4 836,287.7 836,292.8" fill="#F98E1E"/>
<polygon points="837.8,286.8 838.6,291.7 843.6,290.9 842.8,286" fill="#F98E1E"/>
<polygon points="843.3,285.8 844.1,290.8 849,290 848.2,285" fill="#FFF3B3"/>
<polygon points="863.1,282.5 863.9,287.4 865.6,287.2 869.9,281.4" fill="#FFF3B3"/>
<polygon points="838.9,292.2 839.6,297.1 844.6,296.4 843.8,291.4" fill="#FFF3B3"/>
<polygon points="849.3,290.4 850.1,295.3 855,294.5 854.2,289.6" fill="#FFF3B3"/>
<polygon points="864.1,288 854.2,289.6 855,294.5 860,293.7 862.5,291.2 864.2,288.9" fill="#FFF3B3"/>
<polygon points="840.2,302 839.4,297 836,297.6 836,302.6" fill="#FFF3B3"/>
<polygon points="839.9,297.4 840.7,302.3 845.6,301.5 844.8,296.6" fill="#FFF3B3"/>
<polygon points="855.2,294.7 855.7,298.1 859.7,294" fill="#FFF3B3"/>
<polygon points="850.1,300 845.2,300.8 845.8,304.8 848.8,304.2 850.5,302.7" fill="#FFF3B3"/>
<polygon points="849.8,300.2 850.2,302.9 854.2,299.5" fill="#FFF3B3"/>
<polygon points="857.5,265 860,257.5 865,252.5 870,242.5 877.5,235 880,226.25 878.75,217.5 880,210 883.75,210 883.75,230 901,226.5 904.2,235 910,225.8 917.5,224.2 920,228.3 929.2,231 932,229.5 929.2,232 926.7,237.5 922.5,240 920.8,246.7 915.8,250.8 910,253.3 905.8,250.8 904.2,254.2 902.5,260 900,268.3 897.5,273.3 895.8,277.5 889.2,280.8 883.3,284.2 877.5,286.7 870.8,282.5 865,277.5 860,272.5" fill="#FECF6C"/>
<polygon points="880.7,221.7 883.8,221.1 883.8,210 880,210 879.3,214.1" fill="#FFF3B3"/>
<polygon points="881.3,222.4 880.3,216.4 878.9,216.7 878.8,217.5 879.5,222.7" fill="#FFF3B3"/>
<polygon points="881.8,228.2 880.7,222.3 879.5,222.5 880,226.2 879.3,228.6" fill="#FFF3B3"/>
<polygon points="880.9,222 882,227.9 883.8,227.6 883.8,221.5" fill="#F98E1E"/>
<polygon points="878.4,241.2 884.4,240.1 882.3,228.3 879.3,228.8 877.5,235 877.4,235.1" fill="#F98E1E"/>
<polygon points="894.3,232.7 900.2,231.7 899.3,226.8 893.5,228" fill="#FFF3B3"/>
<polygon points="912.7,229 912.1,225.4 910,225.8 907.4,229.9" fill="#FFF3B3"/>
<polygon points="900.9,231 902.6,230.7 901,226.5 900.1,226.7" fill="#FFF3B3"/>
<polygon points="912.4,229.2 918.3,228.2 917.6,224.4 917.5,224.2 911.7,225.4" fill="#F98E1E"/>
<polygon points="872.1,242.5 871.8,240.7 870,242.5 869.8,242.9" fill="#FFF3B3"/>
<polygon points="871.8,242.1 877.7,241 876.7,235.8 871.6,240.9" fill="#F98E1E"/>
<polygon points="883.5,234.2 884.5,240.1 896.3,238 895.3,232.1" fill="#F98E1E"/>
<polygon points="894.6,232.4 895.6,238.3 901.5,237.2 900.5,231.3" fill="#FFF3B3"/>
<polygon points="901.2,231.1 902.2,237 908.2,235.9 907.2,230.3 904.2,235 902.6,230.8" fill="#FFF3B3"/>
<polygon points="907.8,235.8 913.7,234.7 912.7,228.8 907.5,229.7 906.9,230.7" fill="#F98E1E"/>
<polygon points="931.5,229.8 929.2,231 925.4,229.9 925.9,232.5 929.3,231.9 931.5,229.9" fill="#FFF3B3"/>
<polygon points="867.5,248.8 879.3,246.7 878.3,240.8 870.3,242.2 870,242.5 867.3,247.8" fill="#FFF3B3"/>
<polygon points="883.5,239.9 884.6,245.8 890.5,244.8 889.4,238.9" fill="#F98E1E"/>
<polygon points="889.6,239.1 890.7,245 896.6,243.9 895.5,238" fill="#FFF3B3"/>
<polygon points="914,235.5 915,241.4 920.9,240.3 919.9,234.4" fill="#FFF3B3"/>
<polygon points="926.1,233.4 920.2,234.4 921.3,240.3 922.5,240.1 922.5,240 926.7,237.5 926.8,237.2" fill="#FFF3B3"/>
<polygon points="924.8,233.3 925.7,238.1 926.7,237.5 928.9,232.6" fill="#FFF3B3"/>
<polygon points="862.9,256.3 862.6,254.9 860.8,256.7" fill="#FFF3B3"/>
<polygon points="863,261.4 868.9,260.3 866.9,248.8 865,252.5 862,255.5" fill="#FFF3B3"/>
<polygon points="867.9,248.2 869,254.1 874.9,253.1 873.8,247.2" fill="#FFF3B3"/>
<polygon points="891.1,244.9 893.2,256.7 899.1,255.7 897,243.9" fill="#FFF3B3"/>
<polygon points="897.3,243.2 898.3,249.1 904.2,248 903.2,242.1" fill="#FFF3B3"/>
<polygon points="864,261.9 862.9,256 861.2,256.3 860,257.5 858.2,262.9" fill="#F98E1E"/>
<polygon points="880.4,253.4 881.5,259.3 887.4,258.2 886.3,252.3" fill="#FFF3B3"/>
<polygon points="903.8,248.5 897.9,249.6 898.9,255.5 904.1,254.6 904.2,254.2 904.6,253.3" fill="#FFF3B3"/>
<polygon points="915.2,246.5 909.3,247.6 910.3,253.2 915.8,250.8 916,250.7" fill="#FFF3B3"/>
<polygon points="915.2,246.8 915.9,250.8 920.8,246.7 921,245.8" fill="#F98E1E"/>
<polygon points="857.9,263.9 857.5,265 858.7,268.5" fill="#FFF3B3"/>
<polygon points="864,268.6 863,262.7 858,263.6 857.5,265 859,269.5" fill="#F98E1E"/>
<polygon points="875.2,259.9 876.3,265.8 882.2,264.7 881.1,258.8" fill="#FFF3B3"/>
<polygon points="881.5,258.6 882.5,264.5 888.4,263.5 887.4,257.6" fill="#FFF3B3"/>
<polygon points="887.8,258.4 888.9,264.3 894.8,263.2 893.7,257.3" fill="#FFF3B3"/>
<polygon points="899.4,256 900.4,262 902,261.7 902.5,260 903.9,255.3" fill="#FFF3B3"/>
<polygon points="865.3,273.3 864.2,267.4 858.6,268.4 860,272.5 861.5,274" fill="#FFF3B3"/>
<polygon points="863.9,268 865,273.9 876.8,271.8 875.8,265.9" fill="#FFF3B3"/>
<polygon points="887.7,264 888.7,269.9 894.6,268.8 893.6,262.9" fill="#FFF3B3"/>
<polygon points="900.5,261.1 901.1,264.6 902.2,260.8" fill="#F98E1E"/>
<polygon points="871.7,272.4 872.8,278.4 878.7,277.3 877.6,271.4" fill="#FFF3B3"/>
<polygon points="879.2,277.6 880.2,283.5 886.2,282.5 885.1,276.6" fill="#FFF3B3"/>
<polygon points="895.7,274.7 889.8,275.8 890.6,280.1 895.8,277.5 896.1,276.8" fill="#F98E1E"/>
<polygon points="879.5,283.5 874,284.5 877.5,286.7 879.9,285.7" fill="#F98E1E"/>
<polygon points="884.8,282.8 878.9,283.9 879.2,286 883.3,284.2 884.9,283.3" fill="#FFF3B3"/>
<polygon points="755,317.5 756.25,322.5 770,318 772,327 766,335 768,343 762,354 740,356.25 742.5,350 745,343.75 746.25,336.25 750,332.5 751.25,323.75" fill="#CE5208"/>
<polygon points="770,318 810,311.25 825,308.5 825,344.5 800,348.75 777.5,353 762,354 768,343 766,335 772,327" fill="#F98E1E"/>
<polygon points="775.7,321.4 775.1,317.1 770,318 770.9,322.1" fill="#FECF6C"/>
<polygon points="796.9,314 797.6,319.5 803.1,318.7 802.3,313.3" fill="#FECF6C"/>
<polygon points="807.9,312 809.4,322.9 814.9,322.1 813.3,311.2" fill="#FECF6C"/>
<polygon points="823.6,309.7 824.3,315.1 825,315 825,309.5" fill="#FECF6C"/>
<polygon points="781,320.7 781.8,326.2 787.2,325.4 786.4,320" fill="#CE5208"/>
<polygon points="786.5,320.9 787.3,326.4 792.7,325.6 791.9,320.2" fill="#FFF3B3"/>
<polygon points="814.1,317 814.9,322.5 820.3,321.7 819.6,316.3" fill="#CE5208"/>
<polygon points="819.6,315.4 820.4,320.9 825,320.2 825,314.7" fill="#CE5208"/>
<polygon points="824.1,315 824.9,320.5 825,320.4 825,314.9" fill="#CE5208"/>
<polygon points="771.3,334.1 770.6,328.9 766.2,334.8" fill="#FECF6C"/>
<polygon points="782.6,326.9 783.3,332.3 788.8,331.6 788,326.1" fill="#FECF6C"/>
<polygon points="787.3,325.2 788.1,330.7 799,329.1 798.2,323.7" fill="#FECF6C"/>
<polygon points="803.9,323.4 804.7,328.8 810.2,328.1 809.4,322.6" fill="#FECF6C"/>
<polygon points="809.9,323.1 810.7,328.5 816.1,327.8 815.4,322.3" fill="#CE5208"/>
<polygon points="814.1,321.5 814.9,327 820.4,326.2 819.6,320.8" fill="#FFF3B3"/>
<polygon points="820.5,320.8 822.1,331.6 825,331.2 825,320.1" fill="#FFF3B3"/>
<polygon points="772.3,339.7 771.5,334.2 766,335 767.3,340.4" fill="#FECF6C"/>
<polygon points="787.5,330.9 788.3,336.3 793.7,335.6 792.9,330.1" fill="#FECF6C"/>
<polygon points="799.4,330 800.1,335.4 811,333.9 810.2,328.5" fill="#FFF3B3"/>
<polygon points="810.6,328.2 811.3,333.6 822.2,332.1 821.5,326.6" fill="#FECF6C"/>
<polygon points="767.9,345.8 767.6,343.7 766.4,346" fill="#FECF6C"/>
<polygon points="772.1,339.1 772.8,344.5 778.3,343.8 777.5,338.3" fill="#FECF6C"/>
<polygon points="794.7,336.1 795.5,341.6 800.9,340.8 800.1,335.4" fill="#FECF6C"/>
<polygon points="800.3,335.6 801.1,341.1 812,339.5 811.2,334.1" fill="#FECF6C"/>
<polygon points="816.2,332.8 816.9,338.2 822.4,337.5 821.6,332" fill="#FECF6C"/>
<polygon points="822,331.5 822.8,337 825,336.7 825,331.1" fill="#FECF6C"/>
<polygon points="767.4,345.4 768.2,350.9 773.6,350.1 772.8,344.7" fill="#FFF3B3"/>
<polygon points="779,344 773.6,344.8 774.7,353.2 777.5,353 780.2,352.5" fill="#FECF6C"/>
<polygon points="778.3,343.6 779.1,349.1 784.6,348.3 783.8,342.8" fill="#FECF6C"/>
<polygon points="784.2,342.7 785,348.2 790.4,347.4 789.6,342" fill="#FECF6C"/>
<polygon points="795.2,341.7 789.7,342.5 790.8,350.5 796.2,349.5" fill="#FFF3B3"/>
<polygon points="795.4,341.4 796.1,346.8 801.6,346.1 800.8,340.6" fill="#FECF6C"/>
<polygon points="800.3,340.9 801.1,346.3 806.5,345.5 805.8,340.1" fill="#FECF6C"/>
<polygon points="774.7,349.4 769.3,350.2 769.7,353.5 775.2,353.1" fill="#FECF6C"/>
<polygon points="802,312.5 810,311.25 825,308.5 825,344.5 803,348.2" fill="#FECF6C"/>
<polygon points="812.5,313.5 812.2,310.9 810,311.2 802,312.5 802.1,314.9" fill="#F98E1E"/>
<polygon points="812.3,313.1 817.8,312.3 817.4,309.9 812,310.9" fill="#FFF3B3"/>
<polygon points="818.4,312.1 823.8,311.4 823.4,308.8 818,309.8" fill="#F98E1E"/>
<polygon points="823.9,310.7 825,310.5 825,308.5 823.6,308.8" fill="#F98E1E"/>
<polygon points="802.8,319.3 813.7,317.8 812.9,312.3 802,313.8 802,313.9" fill="#FFF3B3"/>
<polygon points="811.8,313.1 812.6,318.6 818.1,317.8 817.3,312.4" fill="#F98E1E"/>
<polygon points="817.3,312.4 818,317.9 823.5,317.1 822.7,311.7" fill="#FFF3B3"/>
<polygon points="802.3,320.2 803.1,325.6 808.5,324.9 807.7,319.4" fill="#F98E1E"/>
<polygon points="808.2,319.4 809,324.9 814.5,324.1 813.7,318.7" fill="#F98E1E"/>
<polygon points="812.6,318.7 813.3,324.1 824.2,322.6 823.5,317.2" fill="#F98E1E"/>
<polygon points="809.4,329.4 808.6,323.9 802.3,324.8 802.5,330.3" fill="#F98E1E"/>
<polygon points="814.1,323.4 814.9,328.8 820.3,328 819.6,322.6" fill="#F98E1E"/>
<polygon points="803.9,331.2 804.7,336.6 810.1,335.9 809.4,330.4" fill="#F98E1E"/>
<polygon points="814.7,328.9 815.4,334.3 820.9,333.5 820.1,328.1" fill="#FFF3B3"/>
<polygon points="820.3,329 821.1,334.4 825,333.9 825,328.3" fill="#FFF3B3"/>
<polygon points="805.3,341.8 804.5,336.3 802.7,336.6 802.8,342.1" fill="#F98E1E"/>
<polygon points="805.2,336.4 806,341.9 811.4,341.1 810.6,335.7" fill="#F98E1E"/>
<polygon points="810.4,335 811.2,340.4 816.6,339.6 815.9,334.2" fill="#FFF3B3"/>
<polygon points="814.9,334.4 815.6,339.8 821.1,339 820.3,333.6" fill="#FFF3B3"/>
<polygon points="821.5,333.4 822.2,338.9 825,338.5 825,332.9" fill="#F98E1E"/>
<polygon points="822,339.6 822.7,344.9 825,344.5 825,339.1" fill="#F98E1E"/>
<polygon points="816.9,345.5 806,347 806.1,347.7 816.9,345.9" fill="#F98E1E"/>
<polygon points="825,308.5 848.75,304.25 880,299.5 880,303.75 875,310 865,315 857.5,322.5 847.5,330 841.25,336.25 841.25,340.5 825,344.5" fill="#FECF6C"/>
<polygon points="828.8,313.3 828,308 825,308.5 825,313.9" fill="#F98E1E"/>
<polygon points="828.6,308.3 834,307.5 833.9,306.9 828.5,307.9" fill="#F98E1E"/>
<polygon points="844.1,306.1 855,304.3 854.8,303.3 848.8,304.2 844,305.1" fill="#FFF3B3"/>
<polygon points="855.5,303.5 860.9,302.6 860.9,302.4 855.5,303.2" fill="#F98E1E"/>
<polygon points="860.3,302.9 871.1,301.2 871.1,300.9 860.2,302.5" fill="#FFF3B3"/>
<polygon points="877.9,305.7 878.5,305.6 880,303.8 880,299.5 877,300" fill="#F98E1E"/>
<polygon points="833.3,307.3 834.2,312.7 839.6,311.8 838.8,306.4" fill="#FFF3B3"/>
<polygon points="839.4,311.1 844.8,310.3 844,305.1 838.6,306.1" fill="#F98E1E"/>
<polygon points="849.6,305.2 850.4,310.6 855.9,309.7 855,304.3" fill="#F98E1E"/>
<polygon points="855.5,303.7 856.4,309.2 861.8,308.3 861,302.9" fill="#F98E1E"/>
<polygon points="860.6,302.8 861.4,308.2 866.9,307.4 866,301.9" fill="#FFF3B3"/>
<polygon points="873.1,305.8 878.6,305 877.8,299.8 872.3,300.7" fill="#FFF3B3"/>
<polygon points="840.4,311.7 841.3,317.1 846.7,316.2 845.8,310.8" fill="#F98E1E"/>
<polygon points="845.8,310.4 847.6,321.2 853,320.4 851.3,309.5" fill="#F98E1E"/>
<polygon points="872.3,306.2 866.9,307 867.8,312.5 871.1,311.9 873.1,311" fill="#F98E1E"/>
<polygon points="825.7,324.7 825,320 825,324.8" fill="#F98E1E"/>
<polygon points="829.7,319.2 830.6,324.7 836,323.8 835.2,318.4" fill="#FFF3B3"/>
<polygon points="835.8,317.5 836.7,323 842.1,322.1 841.3,316.7" fill="#FFF3B3"/>
<polygon points="840.1,316.9 841,322.3 846.4,321.4 845.5,316" fill="#FFF3B3"/>
<polygon points="862,313.7 856.5,314.5 857.4,320 860.5,319.5 862.5,317.5" fill="#FFF3B3"/>
<polygon points="867.7,312.5 862.2,313.4 862.8,317.2 865,315 867.8,313.6" fill="#FFF3B3"/>
<polygon points="826.7,336.5 825,325.8 825,336.8" fill="#FFF3B3"/>
<polygon points="831.5,324.8 832.3,330.2 837.8,329.3 836.9,323.9" fill="#FFF3B3"/>
<polygon points="836.8,323.9 837.7,329.4 843.1,328.5 842.3,323.1" fill="#F98E1E"/>
<polygon points="858.5,319.2 853.1,320.1 853.9,325.2 857.5,322.5 858.8,321.2" fill="#F98E1E"/>
<polygon points="857.5,319.8 857.9,322.1 860.7,319.3" fill="#FFF3B3"/>
<polygon points="825.9,331 826.7,336.4 832.2,335.5 831.3,330.1" fill="#F98E1E"/>
<polygon points="831.7,330.3 832.6,335.8 843.4,334 842.6,328.6" fill="#FFF3B3"/>
<polygon points="827.4,335.4 825,335.8 825,344.5 828.7,343.6" fill="#FFF3B3"/>
<polygon points="827,336.6 827.9,342 833.3,341.1 832.4,335.7" fill="#F98E1E"/>
<polygon points="832,335.7 832.8,341.1 838.3,340.2 837.4,334.8" fill="#FFF3B3"/>
<polygon points="843.4,333 838,333.9 838.9,339.3 841.2,338.9 841.2,336.2 843.6,333.9" fill="#F98E1E"/>
<polygon points="842.8,333.1 843,334.5 844.8,332.7" fill="#FFF3B3"/>
<polygon points="839.4,338.9 834,339.7 834.4,342.2 839.7,340.9" fill="#FFF3B3"/>
<polygon points="687,115.5 695,113.75 703.75,112.5 706.25,114.5 710,113.75 713.75,116.25 725,121.25 737.5,123.75 747.5,127.5 752.5,135 756.25,140 753.75,146.25 752,150 679,150 678.75,145 680,135 685,125" fill="#FFF3B3"/>
<polygon points="695,119.5 702.5,119.1 702.1,112.7 695,113.8 694.7,113.8" fill="#FECF6C"/>
<polygon points="702.6,118 710.1,117.6 709.9,113.8 706.2,114.5 703.8,112.5 702.3,112.7" fill="#FECF6C"/>
<polygon points="716.6,117.6 717,125.1 724.5,124.7 724.3,120.9 716.7,117.6" fill="#FECF6C"/>
<polygon points="733.1,132.8 740.6,132.4 740.2,124.8 737.5,123.8 732.6,122.8" fill="#FECF6C"/>
<polygon points="687.5,134.2 687.1,126.7 684.1,126.8 680.2,134.5" fill="#FECF6C"/>
<polygon points="723.7,124.8 724.1,132.3 731.6,131.9 731.2,124.4" fill="#FECF6C"/>
<polygon points="739.2,131 746.7,130.6 746.5,127.1 738.8,124.2" fill="#FECF6C"/>
<polygon points="747,139.1 754.5,138.7 754.5,137.6 752.5,135 747.5,127.5 746.4,127.1" fill="#FECF6C"/>
<polygon points="679.8,143.1 679.6,138.6 679,143.2" fill="#FECF6C"/>
<polygon points="679.8,142.5 687.3,142.1 686.9,134.6 680,134.9 680,135 679.6,138.1" fill="#FECF6C"/>
<polygon points="688.2,134.7 688.6,142.2 696.1,141.8 695.7,134.3" fill="#FECF6C"/>
<polygon points="709.2,132.8 709.6,140.3 724.6,139.5 724.2,132" fill="#FECF6C"/>
<polygon points="725,131.5 725.4,139 732.9,138.6 732.5,131.1" fill="#FECF6C"/>
<polygon points="680.9,141.7 681.3,149.2 696.3,148.4 695.9,140.9" fill="#FECF6C"/>
<polygon points="695,140.9 695.4,148.4 710.4,147.6 710,140.1" fill="#FECF6C"/>
<polygon points="717.5,140.8 717.9,148.3 725.4,147.9 725,140.4" fill="#FECF6C"/>
<polygon points="740,140 740.4,147.5 747.9,147.1 747.5,139.6" fill="#FECF6C"/>
<polygon points="702.5,149.5 695,149.9 695,150 702.5,150" fill="#FECF6C"/>
<polygon points="719.1,148.7 704.2,149.4 704.2,150 719.2,150" fill="#FECF6C"/>
<polygon points="733.1,147.3 725.6,147.6 725.7,150 733.2,150" fill="#FECF6C"/>
<polygon points="748.1,147 740.7,147.4 740.8,150 748.3,150" fill="#FECF6C"/>
<polygon points="748.2,147.1 748.3,150 752,150 753.5,146.8" fill="#FECF6C"/>
<polygon points="679,150 752,150 755,150 760,141.25 765,132.5 767.5,126.25 767.5,130 763.75,140 760,150 758.75,160 758,170 758.75,180 760,190 760,196 717.5,200.75 716.25,200 707.5,190 705,181.25 697.5,170 690,162.5 682.5,155" fill="#FECF6C"/>
<polygon points="764.6,133.2 760,141.2 759.6,141.9 763.1,141.7 763.8,140 764.8,137.1" fill="#F98E1E"/>
<polygon points="681.5,150 679,150 681.8,153.9" fill="#FFF3B3"/>
<polygon points="689.3,153.7 696.3,153.3 696.1,150 689.1,150" fill="#F98E1E"/>
<polygon points="696.1,160.2 703.1,159.8 702.6,150 695.6,150" fill="#FFF3B3"/>
<polygon points="702.8,152.2 709.8,151.9 709.7,150 702.7,150" fill="#F98E1E"/>
<polygon points="709.4,152.5 716.4,152.1 716.2,150 709.2,150" fill="#FFF3B3"/>
<polygon points="729.9,151.5 736.8,151.1 736.8,150 729.8,150" fill="#F98E1E"/>
<polygon points="758.8,143.7 758.6,143.7 755,150 752.1,150 752.6,158 759,157.7 759.4,154.8" fill="#FFF3B3"/>
<polygon points="758.8,149.2 760.3,149.1 763,142 759.5,142.1 758.5,143.8" fill="#F98E1E"/>
<polygon points="710.4,151.6 710.8,158.6 717.8,158.2 717.4,151.2" fill="#F98E1E"/>
<polygon points="730.7,151.5 731.4,165.5 738.4,165.1 737.6,151.1" fill="#FFF3B3"/>
<polygon points="737.3,150.6 737.7,157.6 744.7,157.2 744.3,150.3" fill="#FFF3B3"/>
<polygon points="744.4,150.2 744.8,157.2 751.7,156.8 751.4,150 747.7,150" fill="#FFF3B3"/>
<polygon points="689.5,160.6 688.2,160.7 689.6,162.1" fill="#F98E1E"/>
<polygon points="696.6,160.3 697,167.3 704,167 703.6,160" fill="#F98E1E"/>
<polygon points="717.2,158.3 717.6,165.3 724.5,165 724.2,158" fill="#F98E1E"/>
<polygon points="738.4,157.8 739.1,171.8 746.1,171.4 745.3,157.4" fill="#F98E1E"/>
<polygon points="758.2,156.3 744.2,157 744.6,164 758.5,163.3 758.5,162.9" fill="#F98E1E"/>
<polygon points="696.1,166.6 694.2,166.7 696.2,168.7" fill="#FFF3B3"/>
<polygon points="703.1,173.7 702.7,166.7 695.7,167 695.8,168.3 697.5,170 700,173.8" fill="#F98E1E"/>
<polygon points="703.7,167.6 704,174.6 711,174.2 710.6,167.2" fill="#F98E1E"/>
<polygon points="717.2,165.4 717.6,172.4 724.6,172.1 724.2,165.1" fill="#F98E1E"/>
<polygon points="710.7,173.7 711.1,180.7 718.1,180.3 717.7,173.4" fill="#FFF3B3"/>
<polygon points="717.4,172.7 717.8,179.7 724.8,179.3 724.4,172.4" fill="#F98E1E"/>
<polygon points="724.9,172.9 725.6,186.9 732.6,186.5 731.9,172.6" fill="#FFF3B3"/>
<polygon points="732.2,172.3 732.6,179.2 739.5,178.9 739.2,171.9" fill="#F98E1E"/>
<polygon points="753.2,170.5 753.9,184.5 759.3,184.2 758.8,180 758,170.2" fill="#FFF3B3"/>
<polygon points="711,180.7 711.4,187.6 718.4,187.3 718,180.3" fill="#F98E1E"/>
<polygon points="717.7,180.1 718.1,187.1 725.1,186.7 724.7,179.7" fill="#FFF3B3"/>
<polygon points="712.3,193.9 711.9,186.9 706.7,187.2 707.5,190 711,194" fill="#F98E1E"/>
<polygon points="718.6,187.5 711.6,187.9 711.9,195.1 716.2,200 717.5,200.8 719.2,200.6" fill="#F98E1E"/>
<polygon points="726,186.9 726.3,193.9 733.3,193.5 733,186.5" fill="#F98E1E"/>
<polygon points="739,186.5 739.4,193.5 746.4,193.2 746,186.2" fill="#F98E1E"/>
<polygon points="746.6,185.7 747,192.7 753.9,192.3 753.6,185.3" fill="#F98E1E"/>
<polygon points="753.8,185.7 754.1,192.6 760,192.3 760,190 759.4,185.4" fill="#F98E1E"/>
<polygon points="725.8,194.4 718.8,194.8 719.1,200.6 726,199.8" fill="#FFF3B3"/>
<polygon points="753.7,192.4 739.7,193.2 740,198.2 753.9,196.7" fill="#F98E1E"/>
<polygon points="754.1,191.9 754.4,196.6 760,196 760,191.6" fill="#FFF3B3"/>
<polygon points="713.75,116.25 720,112.5 727.5,107.5 733.75,100 738.75,94.5 743.75,92 747.5,93 743.75,98.75 738.75,103.75 740,107.5 745,107.5 755,111.25 762.5,110 770,106.25 777.5,103.75 785,100 790,103.75 798.75,102.5 802.5,107.5 810,110 812.5,112.5 806.25,113.75 800,115 795,116.25 785,116.25 777.5,118.75 771.25,122.5 766.25,123.75 762.5,127.5 760,133.75 756.25,140 752.5,135 747.5,127.5 737.5,123.75 725,121.25" fill="#FECF6C"/>
<polygon points="739,97.8 738.7,94.5 735.5,98.1" fill="#F98E1E"/>
<polygon points="746.9,92.8 743.8,92 740,93.9 740.3,97.8 744.6,97.4 747,93.8" fill="#F98E1E"/>
<polygon points="733.8,106.4 733.3,100.5 728,106.9" fill="#FFF3B3"/>
<polygon points="739.4,98.4 734.9,98.8 733.8,100 732.6,101.3 733,105.9 739.3,105.4 738.8,103.8 739.8,102.7" fill="#FFF3B3"/>
<polygon points="740.1,98.1 740.5,102 743.8,98.8 744.4,97.7" fill="#F98E1E"/>
<polygon points="747.5,111.9 754.5,111.3 754.5,111.1 747.2,108.3" fill="#F98E1E"/>
<polygon points="720.1,113.9 727.1,113.3 726.6,108.1 720,112.5" fill="#FFF3B3"/>
<polygon points="726.9,113.7 733.9,113.1 733.3,106.1 728.3,106.5 727.5,107.5 726.4,108.2" fill="#FFF3B3"/>
<polygon points="768.3,110.6 782.3,109.4 781.7,102.4 779.9,102.5 777.5,103.8 770,106.2 768,107.2" fill="#F98E1E"/>
<polygon points="782.4,102 783,108.9 790,108.3 789.6,103.4 787.1,101.5" fill="#F98E1E"/>
<polygon points="788.6,107.5 795.6,106.9 795.3,103 790,103.8 788.2,102.4" fill="#F98E1E"/>
<polygon points="795.8,108.2 802.7,107.6 802.5,107.5 798.8,102.5 795.3,103" fill="#FFF3B3"/>
<polygon points="719.5,113.5 718.1,113.6 713.8,116.2 720,119" fill="#F98E1E"/>
<polygon points="734.3,120.3 733.7,113.3 719.7,114.5 720.1,119.1 724.7,121.1" fill="#F98E1E"/>
<polygon points="740.5,112.6 741.1,119.6 748.1,119 747.5,112" fill="#F98E1E"/>
<polygon points="761.9,110.2 762.5,117.2 769.5,116.5 768.8,109.6" fill="#FFF3B3"/>
<polygon points="768.5,109.7 769.1,116.7 776.1,116 775.4,109.1" fill="#F98E1E"/>
<polygon points="804.3,108.1 802.5,107.5 802.2,107 797.2,107.5 797.9,115.5 800,115 804.8,114" fill="#F98E1E"/>
<polygon points="726.7,119.9 722.8,120.3 725,121.2 726.8,121.6" fill="#FFF3B3"/>
<polygon points="748.3,119 748.9,126 755.8,125.4 755.2,118.4" fill="#F98E1E"/>
<polygon points="782.5,115.7 775.5,116.3 775.8,119.8 777.5,118.8 782.6,117" fill="#F98E1E"/>
<polygon points="796.7,115.4 789.7,116 789.8,116.2 795,116.2 796.8,115.8" fill="#CE5208"/>
<polygon points="804.1,113.4 804.1,114.2 806.2,113.8 810.7,112.9" fill="#CE5208"/>
<polygon points="756.7,138.9 756.1,131.9 750.7,132.4 752.5,135 755.5,139" fill="#FFF3B3"/>
<polygon points="755.4,138.8 756.2,140 757.1,138.7" fill="#FFF3B3"/>
<polygon points="796.25,117 805,121.25 813.75,125 818.75,130 821.25,138.75 820,147.5 816.25,155 815,158.75 818,163 776.25,163 777.5,152.5 782.5,145 786.25,135 791.25,127.5 793.75,120" fill="#FFF3B3"/>
<polygon points="794.3,122.3 794,119.7 793.8,120 792.9,122.4" fill="#FECF6C"/>
<polygon points="807.3,126.5 814.5,125.7 813.8,125 806.9,122.1" fill="#FECF6C"/>
<polygon points="790,135.3 789.4,130.2 786.2,135 786,135.8" fill="#FECF6C"/>
<polygon points="794.8,128.7 795.5,135.2 802,134.5 801.3,128.1" fill="#FECF6C"/>
<polygon points="783.8,142.8 790.3,142.1 789.6,135.7 785.9,136.1 783.7,141.8" fill="#FECF6C"/>
<polygon points="815.1,131.8 815.8,138.2 820.9,137.7 819.1,131.3" fill="#FECF6C"/>
<polygon points="784.8,149.2 784.1,142.8 783.3,142.8 782.5,145 779.3,149.8" fill="#FECF6C"/>
<polygon points="778.7,155.7 778.3,151.4 777.5,152.5 777.1,155.9" fill="#FECF6C"/>
<polygon points="796.9,147.3 797.6,153.8 804.1,153.1 803.4,146.6" fill="#FECF6C"/>
<polygon points="797.2,153.5 797.9,160 804.3,159.3 803.6,152.9" fill="#FECF6C"/>
<polygon points="804.7,153.2 805.3,159.7 811.8,159 811.1,152.6" fill="#FECF6C"/>
<polygon points="816.9,152.5 810.4,153.2 811.1,159.6 815.3,159.2 815,158.8 816.2,155 817,153.5" fill="#FECF6C"/>
<polygon points="804.8,159.3 798.3,159.9 798.6,163 805.2,163" fill="#FECF6C"/>
<polygon points="776.25,163 818,163 820,160 825,152.5 831.25,150 836.25,157.5 840,170 838.75,178.75 835,185 833.75,193.75 832.5,199.5 810,203.75 780,206.25 776.25,210 781.25,202.5 783.75,192.5 782.5,180 778.75,172.5" fill="#F98E1E"/>
<polygon points="780,165.4 779.7,163 776.2,163 777,165.7" fill="#FECF6C"/>
<polygon points="780.7,165.3 786.7,164.7 786.5,163 780.5,163" fill="#CE5208"/>
<polygon points="786.6,165 792.6,164.4 792.4,163 786.4,163" fill="#FECF6C"/>
<polygon points="799,164.4 805,163.8 804.9,163 798.9,163" fill="#FECF6C"/>
<polygon points="822,160.9 828,160.3 827.4,154.3 823.5,154.7 821.7,157.5" fill="#FFF3B3"/>
<polygon points="827.9,154.8 828.5,160.8 837,159.9 836.2,157.5 834,154.2" fill="#FFF3B3"/>
<polygon points="781.1,172 780.5,166 777.1,166.3 778.7,172.2" fill="#CE5208"/>
<polygon points="780.2,166 780.8,171.9 786.8,171.3 786.1,165.3" fill="#FFF3B3"/>
<polygon points="786.4,164.7 787,170.6 799,169.4 798.3,163.4" fill="#FECF6C"/>
<polygon points="804.7,168.4 810.7,167.8 810.2,163 804.2,163" fill="#FECF6C"/>
<polygon points="811.4,168.1 817.3,167.5 816.9,163 810.8,163" fill="#FFF3B3"/>
<polygon points="817.4,167.6 823.3,167 822.7,161.1 819,161.4 818,163 816.9,163" fill="#FECF6C"/>
<polygon points="827.6,160.6 828.9,172.5 834.8,171.9 833.6,160" fill="#FFF3B3"/>
<polygon points="834.5,160.4 835.2,166.3 838.8,166 837,160.1" fill="#CE5208"/>
<polygon points="786.6,171 787.2,177 793.2,176.4 792.6,170.4" fill="#FECF6C"/>
<polygon points="804.9,168.4 805.5,174.4 817.4,173.1 816.8,167.2" fill="#FECF6C"/>
<polygon points="788.2,183.1 787.6,177.1 781.6,177.8 781.6,178.3 782.5,180 782.9,183.7" fill="#FECF6C"/>
<polygon points="787.1,176.9 788.4,188.8 794.3,188.2 793.1,176.3" fill="#FECF6C"/>
<polygon points="800.1,176.2 800.7,182.1 806.7,181.5 806.1,175.5" fill="#CE5208"/>
<polygon points="805.1,174.5 805.8,180.5 811.7,179.9 811.1,173.9" fill="#FECF6C"/>
<polygon points="811,175.2 811.6,181.1 817.5,180.5 816.9,174.6" fill="#FFF3B3"/>
<polygon points="835.4,172.3 836,178.3 838.9,178 839.7,171.9" fill="#FECF6C"/>
<polygon points="783.7,195.8 789.7,195.1 788.4,183.2 782.9,183.8 783.8,192.5 783.5,193.6" fill="#CE5208"/>
<polygon points="800.7,181.7 801.3,187.6 807.3,187 806.7,181" fill="#FECF6C"/>
<polygon points="812.3,180.3 812.9,186.3 818.9,185.6 818.3,179.7" fill="#FECF6C"/>
<polygon points="817.5,179.2 818.2,185.2 824.1,184.6 823.5,178.6" fill="#FECF6C"/>
<polygon points="823.5,179.3 824.1,185.3 830.1,184.7 829.5,178.7" fill="#CE5208"/>
<polygon points="783.9,196 783.6,193.2 782.8,196.1" fill="#FECF6C"/>
<polygon points="788.4,188.6 789.1,194.5 795,193.9 794.4,188" fill="#CE5208"/>
<polygon points="794.9,188.8 796.2,200.8 802.1,200.1 800.9,188.2" fill="#FECF6C"/>
<polygon points="783.5,201.1 783,195.7 781.5,201.3" fill="#FFF3B3"/>
<polygon points="813.7,192.8 807.8,193.4 808.9,203.8 810,203.8 814.8,202.8" fill="#CE5208"/>
<polygon points="819.6,191.3 820.3,197.2 826.2,196.6 825.6,190.6" fill="#CE5208"/>
<polygon points="783.5,201.9 781.4,202.1 781.2,202.5 778.1,207.3 778.1,208.1 780,206.2 783.9,205.9" fill="#FECF6C"/>
<polygon points="802.3,199.4 796.3,200.1 796.8,204.9 802.8,204.4" fill="#FECF6C"/>
<polygon points="813.7,198.2 801.7,199.5 802.3,204.4 810,203.8 814.2,203" fill="#FECF6C"/>
<polygon points="825.9,197 826.3,200.7 832.5,199.5 833.2,196.2" fill="#FECF6C"/>
<polygon points="874.5,185 883.75,176.5 885,180 950,163.75 960,170 963.75,175 961.25,182.5 966.25,190 963.75,196.25 966.25,203.75 962.5,208.75 957.5,211.25 930,219.5 883.75,230" fill="#FECF6C"/>
<polygon points="880.6,182.5 893.4,179.8 893,178 885,180 883.8,176.5 880.1,179.9" fill="#F98E1E"/>
<polygon points="900.8,186.2 907.2,184.9 905.1,175 898.7,176.6" fill="#FFF3B3"/>
<polygon points="918.2,174.9 924.5,173.5 923.9,170.3 917.5,171.9" fill="#F98E1E"/>
<polygon points="924.4,173.9 930.8,172.5 930,168.8 923.7,170.3" fill="#F98E1E"/>
<polygon points="937.2,171.6 943.6,170.2 942.6,165.6 936.3,167.2" fill="#F98E1E"/>
<polygon points="944.4,170.1 950.8,168.8 949.7,163.8 943.4,165.4" fill="#F98E1E"/>
<polygon points="950.8,168.5 955.9,167.4 950,163.8 949.8,163.8" fill="#F98E1E"/>
<polygon points="957.2,173.2 961.7,172.2 960,170 956,167.5" fill="#F98E1E"/>
<polygon points="886.9,181.8 888.3,188.2 894.6,186.8 893.3,180.4" fill="#F98E1E"/>
<polygon points="892.7,181.2 894.1,187.5 900.4,186.2 899.1,179.8" fill="#F98E1E"/>
<polygon points="949.8,169.2 951.2,175.5 957.5,174.2 956.2,167.8" fill="#F98E1E"/>
<polygon points="875.7,190.4 877.1,196.7 883.4,195.4 882.1,189" fill="#FFF3B3"/>
<polygon points="887.3,187.7 888.7,194 895,192.7 893.7,186.3" fill="#F98E1E"/>
<polygon points="912.7,182.7 914,189 920.4,187.7 919,181.3" fill="#F98E1E"/>
<polygon points="919,180.9 920.4,187.3 926.7,185.9 925.4,179.6" fill="#F98E1E"/>
<polygon points="926.3,179.5 927.6,185.9 934,184.5 932.6,178.2" fill="#F98E1E"/>
<polygon points="932,178.7 934.7,191.4 941.1,190.1 938.4,177.4" fill="#F98E1E"/>
<polygon points="939.5,177 940.8,183.4 947.2,182 945.8,175.7" fill="#FFF3B3"/>
<polygon points="957.5,173.8 958.8,180.2 962.3,179.5 963.8,175 962.1,172.9" fill="#F98E1E"/>
<polygon points="882.8,195.3 885.5,208 891.9,206.7 889.2,193.9" fill="#F98E1E"/>
<polygon points="889.4,194.8 890.7,201.2 897.1,199.9 895.7,193.5" fill="#F98E1E"/>
<polygon points="896.3,193.4 897.6,199.8 904,198.4 902.6,192.1" fill="#F98E1E"/>
<polygon points="902.4,192.4 903.8,198.7 910.2,197.4 908.8,191" fill="#F98E1E"/>
<polygon points="908.9,190.1 910.3,196.5 916.6,195.1 915.3,188.8" fill="#F98E1E"/>
<polygon points="920.7,187.6 922,193.9 928.4,192.6 927.1,186.2" fill="#F98E1E"/>
<polygon points="927.8,185.6 929.2,192 935.6,190.6 934.2,184.2" fill="#F98E1E"/>
<polygon points="940.4,184.4 943.1,197.1 949.5,195.7 946.8,183" fill="#FFF3B3"/>
<polygon points="945.9,182.5 947.2,188.8 953.6,187.5 952.2,181.1" fill="#F98E1E"/>
<polygon points="952,180.3 953.4,186.7 959.7,185.4 958.4,179" fill="#FFF3B3"/>
<polygon points="878.4,203 879.7,209.4 886.1,208 884.8,201.7" fill="#FFF3B3"/>
<polygon points="896.5,199.7 897.9,206.1 904.2,204.8 902.9,198.4" fill="#F98E1E"/>
<polygon points="904.2,198.3 905.6,204.6 918.3,201.9 917,195.6" fill="#CE5208"/>
<polygon points="922.9,194.1 924.2,200.5 930.6,199.1 929.2,192.8" fill="#FFF3B3"/>
<polygon points="948.8,188.8 951.5,201.5 957.8,200.2 955.1,187.5" fill="#F98E1E"/>
<polygon points="960.3,186 961.6,192.4 965.6,191.6 966.2,190 963.2,185.4" fill="#F98E1E"/>
<polygon points="893.2,213 891.9,206.7 879.5,209.3 880.8,215.7" fill="#FFF3B3"/>
<polygon points="892.1,207.2 894.8,219.9 901.1,218.5 898.4,205.8" fill="#FFF3B3"/>
<polygon points="910.7,203.9 912,210.2 918.4,208.9 917,202.5" fill="#F98E1E"/>
<polygon points="923.9,201.2 925.3,207.5 931.6,206.2 930.3,199.8" fill="#FFF3B3"/>
<polygon points="936.6,198.3 939.3,211 945.6,209.6 942.9,196.9" fill="#FFF3B3"/>
<polygon points="962.5,192.2 963.8,198.5 964.5,198.4 963.8,196.2 965.7,191.5" fill="#CE5208"/>
<polygon points="888.2,220.9 886.8,214.5 880.8,215.8 882.1,222.2" fill="#F98E1E"/>
<polygon points="899.4,212.2 900.8,218.5 907.1,217.2 905.8,210.8" fill="#F98E1E"/>
<polygon points="905.6,210.5 906.9,216.9 913.3,215.5 911.9,209.2" fill="#F98E1E"/>
<polygon points="925.6,206.3 928.3,219 934.7,217.7 932,205" fill="#F98E1E"/>
<polygon points="930.8,204.9 932.2,211.3 938.5,210 937.2,203.6" fill="#FFF3B3"/>
<polygon points="944.3,202.5 945.6,208.9 952,207.5 950.6,201.2" fill="#CE5208"/>
<polygon points="950,201.7 951.4,208.1 957.7,206.7 956.4,200.4" fill="#FFF3B3"/>
<polygon points="901.3,219 902.7,225.4 909.1,224 907.7,217.7" fill="#F98E1E"/>
<polygon points="914.6,216.5 908.3,217.8 909.6,224.1 915.9,222.7" fill="#CE5208"/>
<polygon points="914,215.3 915.3,221.6 921.7,220.3 920.3,213.9" fill="#F98E1E"/>
<polygon points="926.8,213.7 920.4,215 921.8,221.4 922.3,221.2 928.1,219.9" fill="#FFF3B3"/>
<polygon points="932.8,211.3 934.1,217.7 940.5,216.3 939.1,210" fill="#F98E1E"/>
<polygon points="946.2,208.7 939.9,210.1 941.2,216.2 947.4,214.3" fill="#F98E1E"/>
<polygon points="958.5,206.7 952.1,208 953.1,212.6 957.5,211.2 959.2,210.4" fill="#F98E1E"/>
<polygon points="896.8,226.6 890.5,228 890.6,228.4 896.9,227" fill="#F98E1E"/>
<polygon points="908.3,224.2 902,225.6 902.1,225.8 908.4,224.4" fill="#F98E1E"/>
<polygon points="914.6,221.7 908.2,223 908.5,224.4 914.9,222.9" fill="#F98E1E"/>
<polygon points="920.8,220.7 914.5,222.1 914.7,223 921,221.5" fill="#F98E1E"/>
<polygon points="927.8,219.6 921.5,220.9 921.6,221.4 927.9,220" fill="#F98E1E"/>
<polygon points="940,192.5 950,185 960,182.5 966.25,190 963.75,196.25 966.25,203.75 962.5,208.75 957.5,211.25 945,214.5 940,205" fill="#F98E1E"/>
<polygon points="959,195 964,195 965.5,203 960,204" fill="#CE5208"/>
<polygon points="946.25,185 953.75,183.75 955,191.25 947.5,192.5" fill="#FECF6C"/>
<polygon points="882.5,210 897.5,206.25 900,220 885,223.75" fill="#F98E1E"/>
<polygon points="927.5,166.25 950,163.75 951.25,170 930,173.75" fill="#FFF3B3"/>
<polygon points="910,208.75 920,207 921.25,220 911.25,221.25" fill="#FFF3B3"/>
<polygon points="522.5,335 573.75,335 573.75,375 660,387 660,475 540,475 455,425 518.75,427.5" fill="#FECF6C"/>
<polygon points="456.25,425.5 518.75,427.5 615,420 690,420 690,560 455,560" fill="#FECF6C"/>
<polygon points="555,378.75 580,378.75 587.5,382.5 595,383.75 602.5,385 612.5,388.75 620,387.5 630,389.5 640,387.5 647.5,386.25 655,387 662.5,390 669.5,391.25 655,413.75 632.5,422.5 610,440 595,462.5 555,462.5" fill="#F98E1E"/>
<polygon points="522.5,345 552.5,345 553.75,353.75 562.5,353.75 573.75,357.5 573.75,375 590,385 591.25,400 575,400 575,410 565,410 565,420 560,427.5 545,427.5 545,417.5 535,416.25 535,410 527.5,407.5 527.5,400 521.25,398.75 522,391.25 527.5,390 528.75,372.5 537.5,371.25 537.5,362.5 522.5,361.25" fill="#F98E1E"/>
<polygon points="536.25,353.75 545,353.75 545,361.25 536.25,361.25" fill="#CE5208"/>
<polygon points="570,408.75 580,408.75 580,417.5 570,417.5" fill="#CE5208"/>
<polygon points="552.5,418.75 561.25,418.75 561.25,426.25 552.5,426.25" fill="#CE5208"/>
<polygon points="555,381.25 563.75,381.25 563.75,391.25 555,391.25" fill="#FFF3B3"/>
<polygon points="563.75,391.25 573.75,391.25 573.75,400 563.75,400" fill="#FFF3B3"/>
<polygon points="543.75,408.75 552.5,408.75 552.5,417.5 543.75,417.5" fill="#FFF3B3"/>
<polygon points="522.5,324.25 539.25,324.25 539.25,335 522.5,335" fill="#FFF3B3"/>
<polygon points="539.25,324.25 557.5,324.25 557.5,335 539.25,335" fill="#F98E1E"/>
<polygon points="557.5,324.25 573.75,324.25 573.75,335 557.5,335" fill="#FECF6C"/>
<polygon points="501.25,430 540,427.5 541.25,436.25 550,437.5 550,447.5 540,448.75 538.75,455 530,457.5 526.25,466.25 515,457.5 501.25,445" fill="#F98E1E"/>
<polygon points="503.75,427.5 513.75,428.75 513.75,435 506.25,435" fill="#FFF3B3"/>
<polygon points="540,410 577.5,410 575,431.25 580,445 560,447.5 560,437.5 550,436.25 540,435" fill="#F98E1E"/>
<polygon points="552.5,420 561.25,420 561.25,427 552.5,427" fill="#CE5208"/>
<polygon points="603.75,457.5 610,453.75 625,451.25 637.5,475 640,495 630,508.75 605,510 605,495 615,485 607.5,475 605,465" fill="#F98E1E"/>
<polygon points="560,445 580,443.75 590,447.5 600,445 602.5,451.25 592.5,451.25 580,448.75 560,448" fill="#F98E1E"/>
<polygon points="592.5,430 605,422.5 616.25,420 620,430 610,437.5 602.5,443.75 595,437.5" fill="#FECF6C"/>
<polygon points="571.25,456.25 582.5,456.25 582.5,460 598.75,460 598.75,467.5 585,467.5 583.75,465 571.25,465" fill="#FFF3B3"/>
<polygon points="583.75,478.75 596.25,478.75 600,476.25 605,478.75 605,486.25 595,488.75 595,498.75 583.75,498.75" fill="#F98E1E"/>
<polygon points="610,515 622.5,513.75 630,508.75 630,550 620,546.25 612.5,542.5 610,525" fill="#F98E1E"/>
<polygon points="586.25,527.5 601.25,526.25 603.75,540 600,546.25 590,538.75" fill="#FFF3B3"/>
<polygon points="562.5,490 571.25,488.75 570,502.5 565,500" fill="#FFF3B3"/>
<polygon points="550,325 580,325 662.5,321.75 665.5,332.5 670,362.5 669.5,391.25 662.5,390 655,387 647.5,386.25 640,387.5 630,389.5 620,387.5 612.5,388.75 602.5,385 595,383.75 587.5,382.5 580,378.75 640,388.75 630,387.5 622.5,390 615,388.75 607.5,387.5 600,385 592.5,385 587.5,381.25 580,378.75 573.75,375 573.75,324.25" fill="#F98E1E"/>
<polygon points="573.75,324.25 587.5,324.25 590,332.5 583.75,341.25 596.25,342.5 595,350 582.5,350 581.25,357.5 573.75,357.5" fill="#FFF3B3"/>
<polygon points="585,356.25 596.25,356.25 596.25,365 585,365" fill="#FECF6C"/>
<polygon points="605,372.5 616.25,372.5 616.25,385 605,385" fill="#FECF6C"/>
<polygon points="593.75,370 605,370 605,377.5 593.75,377.5" fill="#CE5208"/>
<polygon points="597.5,325 623.75,324.25 622.5,332.5 612.5,342.5 602.5,341.25 598.75,335" fill="#FECF6C"/>
<polygon points="580,325 595,325 605,332.5 620,332.5 622.5,341.25 595,343.75 595,355 580,356.25" fill="#FECF6C"/>
<polygon points="583.75,356.25 597.5,356.25 597.5,365 583.75,365" fill="#FECF6C"/>
<polygon points="621.25,346.25 631.25,346.25 631.25,356.25 621.25,356.25" fill="#FECF6C"/>
<polygon points="643.75,325 662.5,322.5 665,332.5 666.25,342.5 657.5,341.25 652.5,333.75 645,332.5" fill="#FECF6C"/>
<polygon points="650,331.25 657.5,341.25 662.5,342.5 663.75,350 656.25,353.75 651.25,346.25 647.5,337.5" fill="#FFF3B3"/>
<polygon points="623.75,328.75 633.75,323.75 640,327.5 642.5,337.5 646.25,345 655,347.5 656.25,356.25 646.25,353.75 641.25,345 635,340 628.75,335" fill="#CE5208"/>
<polygon points="593.75,368.75 605,368.75 605,377.5 593.75,377.5" fill="#CE5208"/>
<polygon points="605,372.5 616.25,372.5 616.25,385 605,383.75" fill="#FECF6C"/>
<polygon points="647.5,362.5 655,353.75 666.25,356.25 668.75,382.5 655,386.25 646.25,382.5 655,372.5" fill="#FECF6C"/>
<polygon points="616.25,375 637.5,377.5 641.25,388.75 617.5,387.5" fill="#FFF3B3"/>
<polygon points="645,382.5 657.5,382.5 657.5,387 645,387.5" fill="#CE5208"/>
<polygon points="580,395 595,390 597.5,386.25 607.5,387.5 617.5,398.75 617.5,410 607.5,411.25 605,420 616.25,422.5 621.25,430 610,440 595,443.75 593.75,432.5 580,430 572.5,412.5" fill="#FECF6C"/>
<polygon points="607.5,390 617.5,390 617.5,398.75 608.75,398.75" fill="#FFF3B3"/>
<polygon points="646.25,388.75 669.5,391.25 672.5,380 678.75,377.5 687.5,375 690,380 705,380 708.75,372.5 716.25,370 715,362.5 710,360 712.5,351.25 720,348.75 725,342.5 740,337.5 746.25,336.25 742.5,355.5 760,352.5 777.5,353 777.5,362.5 772.5,365 773.75,372.5 780,372.5 785,372.5 792.5,375 797.5,380 805,375 812.5,372.5 822.5,375 826.25,365 832.5,360 850,357.5 880,357.5 880,550 690,550 690,460 607.5,447.5 610,440 630,430 632.5,422.5 652.5,420 655,413.75 666.25,411.25 667.5,400 652.5,398.75 646.25,395" fill="#CE5208"/>
<polygon points="617.5,407.5 641.25,408.75 642.5,418.75 617.5,417.5" fill="#CE5208"/>
<polygon points="640,438.75 648.75,435 651.25,443.75 642.5,448.75" fill="#F98E1E"/>
<polygon points="656.25,442.5 663.75,440 666.25,447.5 660,452.5 655,450" fill="#F98E1E"/>
<polygon points="607.5,441.25 620,435 630,430 640,420 680,410 715,410 715,502.5 657.5,502.5 647.5,497.5 640,495 637.5,475 625,452.5 615,452.5" fill="#CE5208"/>
<polygon points="640,438.75 650,435 651.25,445 642.5,448.75" fill="#F98E1E"/>
<polygon points="656.25,443.75 665,440 666.25,447.5 660,452.5 662.5,460 655,461.25 650,466.25 648.75,457.5 656.25,455" fill="#F98E1E"/>
<polygon points="670,457.5 681.25,456.25 682.5,465 671.25,465" fill="#F98E1E"/>
<polygon points="623.75,450 632.5,447.5 635,453.75 626.25,458.75" fill="#F98E1E"/>
<polygon points="636.25,467.5 645,467.5 645,476.25 638.75,477.5" fill="#F98E1E"/>
<polygon points="640,392.5 655,387.5 667.5,395 666.25,412.5 655,415 653.75,426.25 645,427.5 640,422.5" fill="#F98E1E"/>
<polygon points="640,438.75 650,436.25 651.25,446.25 640,450" fill="#F98E1E"/>
<polygon points="656.25,446.25 665,440 666.25,447.5 661.25,455 665,461.25 657.5,467.5 650,466.25 648.75,457.5 656.25,455" fill="#F98E1E"/>
<polygon points="670,457.5 681.25,456.25 682.5,465 671.25,466.25" fill="#F98E1E"/>
<polygon points="640,466.25 646.25,468.75 645,477.5 640,478.75" fill="#F98E1E"/>
<polygon points="640,380 667.5,380 668.75,390 657.5,387.5 640,391.25" fill="#F98E1E"/>
<polygon points="686.25,465 707.5,465 707.5,473 686.25,473" fill="#FECF6C"/>
<polygon points="736.25,448.75 745,447.5 747.5,453.75 742.5,457.5 736.25,455" fill="#F98E1E"/>
<polygon points="680,435 686.25,433.75 687.5,442.5 681.25,442.5" fill="#F98E1E"/>
<polygon points="773.75,436.25 781.25,436.25 782.5,442.5 775,443.75" fill="#F98E1E"/>
<polygon points="761.25,446.25 766.25,445 767.5,452.5 762.5,452.5" fill="#F98E1E"/>
<polygon points="790,428.75 796.25,428.75 796.25,433.75 800,446.25 792.5,450 790,442.5" fill="#F98E1E"/>
<polygon points="797.5,433.75 821.25,428.75 833.75,430 832.5,436.25 826.25,445.5 815,445.5 802.5,447.5 800,447.5" fill="#F98E1E"/>
<polygon points="821.25,425 833.75,423.75 834.5,427.5 822,428.75" fill="#F98E1E"/>
<polygon points="887.5,407.5 898.75,406.25 900,412.5 892.5,416.25" fill="#F98E1E"/>
<polygon points="876.25,423.75 886.25,422.5 887.5,427 877,427.5" fill="#F98E1E"/>
<polygon points="666.25,333 740,327 736.25,336.25 725,337.5 715,341.25 711.25,351.25 690,347.5 676.25,346.25 676.25,337.5 666.25,337.5" fill="#FFF3B3"/>
<polygon points="707.5,330 740,327 736.25,336.25 725,337.5 715,341.25 707.5,337.5" fill="#FECF6C"/>
<polygon points="690,352.5 707.5,353.75 712.5,351.25 710,360 715,362.5 716.25,370 708.75,372.5 705,380 690,380 687.5,375 690,365 697.5,363.75 696.25,356.25" fill="#F98E1E"/>
<polygon points="666.25,337.5 676.25,337.5 676.25,347.5 667.5,347.5" fill="#F98E1E"/>
<polygon points="670,347.5 690,350 690,365 687.5,375 678.75,377.5 672.5,380 669.5,391.25 670,368.75" fill="#FECF6C"/>
<polygon points="671.25,367.5 687.5,367.5 687.5,375 671.25,378.75" fill="#FFF3B3"/>
<polygon points="680,341.25 690,340 691.25,350 681.25,350" fill="#F98E1E"/>
<polygon points="777.5,353 820,347 826.25,365 822.5,375 812.5,372.5 805,375 797.5,380 792.5,375 785,372.5 780,372.5 773.75,372.5 772.5,365 777.5,362.5" fill="#F98E1E"/>
<polygon points="788.75,363.75 808.75,361.25 810,371.25 797.5,373.75 790,372.5" fill="#FECF6C"/>
<polygon points="780,353.75 797.5,351.25 797.5,360 780,362.5" fill="#CE5208"/>
<polygon points="819.5,345.5 841.25,340.5 860,337.5 859.5,344.5 865.5,348.75 866.25,355 860,360 850,357.5 842.5,360 835,357.5 827.5,363.75 824.5,363.75 821.5,355" fill="#F98E1E"/>
<polygon points="832.5,345 850,342.5 853.75,350 847.5,356.25 837.5,353.75" fill="#FECF6C"/>
<polygon points="800,362.5 810,363.75 812.5,372.5 800,375" fill="#FECF6C"/>
<polygon points="740,326.25 752.5,310 755,317.5 751.25,323.75 750,332.5 746.25,336.25 738.75,335" fill="#CE5208"/>
<polygon points="930,250 952.5,240 1000,240 1000,440 840,440 837.5,397.5 831.25,380 825,362.5 835,357.5 842.5,360 850,357.5 860,360 866.25,355 865.5,348.75 859.5,344.5 872.5,335 885,329.5 885,325 893.75,322.5 896.25,312.5 907.5,316.25 911.25,311.25 900,306.25 902.5,301.25 910,298.75 907.5,293.75 910,287.5 917.5,282.5 925,275 925,262.5 928.75,257.5" fill="#CE5208"/>
<polygon points="896.25,306.25 910,308.75 915,313.75 907.5,316.25 896.25,312.5" fill="#FECF6C"/>
<polygon points="936.25,255 946.25,257.5 947.5,262.5 938.75,261.25" fill="#F98E1E"/>
<polygon points="962.5,280 975,277.5 980,287.5 972.5,287.5" fill="#F98E1E"/>
<polygon points="960,317.5 975,312.5 975,321.25 965,323.75" fill="#F98E1E"/>
<polygon points="875,370 880,370 880,375 875,375" fill="#F98E1E"/>
<polygon points="888.75,406.25 898.75,407.5 898.75,412 888.75,412" fill="#F98E1E"/>
<polygon points="870.8,282.5 877.5,286.7 883.3,284.2 889.2,280.8 895.8,277.5 897.5,273.3 900,268.3 902.5,260 904.2,254.2 905.8,250.8 910,253.3 915.8,250.8 920.8,246.7 922.5,240 926.7,237.5 929.2,232 932,229.5 940,231.7 942.5,240 945,244 930,250 928.75,257.5 925,262.5 925,275 917.5,282.5 910,287.5 907.5,293.75 880,299.5 850,305.5 855,300 862.5,292.5 870,285" fill="#F98E1E"/>
<polygon points="933.2,232.7 938,231.5 937.9,231.1 932.4,229.6" fill="#FECF6C"/>
<polygon points="924.1,240.9 926.5,250.6 931.4,249.4 928.9,239.7" fill="#FFF3B3"/>
<polygon points="908,254.7 907.3,251.7 905.8,250.8 904.2,254.2 903.8,255.7" fill="#FFF3B3"/>
<polygon points="908.2,255.5 913.1,254.3 912.6,252.2 910,253.3 907.3,251.7" fill="#FECF6C"/>
<polygon points="936,243.1 931.1,244.3 932.3,249.1 937,247.2" fill="#FFF3B3"/>
<polygon points="940.8,241.5 936,242.7 937.1,247.2 941.8,245.3" fill="#FECF6C"/>
<polygon points="905,265.4 903.8,260.6 902.2,261 900.5,266.5" fill="#FECF6C"/>
<polygon points="928.1,255.6 923.2,256.8 924.5,261.7 925.9,261.3 928.6,257.7" fill="#FECF6C"/>
<polygon points="928.2,255.1 928.8,257.5 929.2,254.8" fill="#FECF6C"/>
<polygon points="924.1,261.1 919.2,262.3 920.4,267.2 925,266 925,264.9" fill="#FECF6C"/>
<polygon points="925,260.4 925.4,262 927,259.9" fill="#FECF6C"/>
<polygon points="898.2,278.4 897.1,274.2 895.8,277.5 890,280.4" fill="#FECF6C"/>
<polygon points="911,269.3 912.2,274.1 917,272.9 915.8,268.1" fill="#FECF6C"/>
<polygon points="916,268.3 918.4,278 923.2,276.7 920.8,267" fill="#FECF6C"/>
<polygon points="861.9,296.7 861.2,293.8 857.1,297.9" fill="#FECF6C"/>
<polygon points="870.7,290.5 869.4,285.7 869.3,285.7 862.5,292.5 862.4,292.6" fill="#FECF6C"/>
<polygon points="884,286.6 893.7,284.2 892.5,279.4 891.7,279.6 889.2,280.8 883.3,284.2" fill="#FECF6C"/>
<polygon points="903.3,277 904.5,281.8 909.4,280.6 908.1,275.7" fill="#FECF6C"/>
<polygon points="884.6,286.7 885.8,291.6 890.7,290.4 889.5,285.5" fill="#FECF6C"/>
<polygon points="903.9,281.1 905.1,285.9 910,284.7 908.7,279.9" fill="#FECF6C"/>
<polygon points="918.7,278.5 919.3,280.7 922.4,277.6" fill="#FFF3B3"/>
<polygon points="862.1,297.6 863.3,302.4 868.1,301.2 866.9,296.4" fill="#FFF3B3"/>
<polygon points="876.2,294 877.4,298.9 882.2,297.6 881,292.8" fill="#FECF6C"/>
<polygon points="885.8,290.8 887,295.7 891.8,294.4 890.6,289.6" fill="#FECF6C"/>
<polygon points="910.2,285.2 905.3,286.5 906.5,291.3 908.7,290.8 910,287.5 910.6,287.1" fill="#FECF6C"/>
<polygon points="914.5,283.8 909.6,285 910.2,287.4 914.6,284.4" fill="#FECF6C"/>
<polygon points="852.3,304.3 850.8,304.7 850,305.5 852.5,305" fill="#FECF6C"/>
<polygon points="857.8,303.6 853,304.8 853,304.9 857.9,303.9" fill="#FECF6C"/>
<polygon points="886.9,296.5 882.1,297.8 882.4,299 887.3,298" fill="#FFF3B3"/>
<polygon points="920,241 928,236 930,245 924,252 918,250" fill="#FECF6C"/>
<polygon points="841.25,336.25 847.5,330 857.5,322.5 865,315 875,310 880,303.75 880,299.5 907.5,293.75 910,298.75 902.5,301.25 900,306.25 896.25,312.5 893.75,322.5 885,325 885,329.5 872.5,335 859.5,344.5 860,337.5 841.25,340.5" fill="#F98E1E"/>
<polygon points="863.5,319.6 862.9,317.1 859.4,320.6" fill="#FECF6C"/>
<polygon points="876.2,310.4 875.9,308.9 875,310 872.3,311.4" fill="#FFF3B3"/>
<polygon points="877.5,310.8 882.3,309.6 881.1,304.7 878.7,305.3 876.8,307.8" fill="#FFF3B3"/>
<polygon points="905.3,298.2 905.8,300.1 910,298.8 909.2,297.2" fill="#FFF3B3"/>
<polygon points="882,309.2 883.2,314.1 888.1,312.9 886.9,308" fill="#FECF6C"/>
<polygon points="892,307.2 893.2,312 897.1,311 900,306.2 900.6,305" fill="#FECF6C"/>
<polygon points="855.1,326.5 854.7,324.6 850.7,327.6" fill="#FFF3B3"/>
<polygon points="868,317.6 869.2,322.5 874,321.3 872.8,316.4" fill="#FECF6C"/>
<polygon points="864.5,323.6 865.8,328.5 870.6,327.3 869.4,322.4" fill="#FECF6C"/>
<polygon points="870.9,327.4 872.1,332.3 876.9,331.1 875.7,326.2" fill="#FECF6C"/>
<polygon points="876.1,325.6 877.3,330.4 882.1,329.2 880.9,324.4" fill="#FECF6C"/>
<polygon points="847.8,339 843,340.2 843,340.2 847.9,339.4" fill="#FECF6C"/>
<polygon points="852.2,336.9 847.3,338.1 847.6,339.5 852.6,338.7" fill="#FECF6C"/>
<polygon points="877.2,330.7 872.3,332 873,334.8 877.7,332.7" fill="#FECF6C"/>
<polygon points="841.25,336.25 847.5,330 857.5,322.5 865,315 875,310 880,303.75 880,299.5 888,298 886.5,310 878,322.5 868,333.75 859.5,344.5 860,337.5 841.25,340.5" fill="#FECF6C"/>
<polygon points="881.3,302.1 880.6,299.4 880,299.5 880,302.5" fill="#FFF3B3"/>
<polygon points="882.2,301.9 887.1,300.7 886.5,298.3 881.6,299.2" fill="#F98E1E"/>
<polygon points="878.5,307.9 878.1,306.1 876.3,308.4" fill="#FFF3B3"/>
<polygon points="877.7,307.4 882.6,306.2 881.4,301.4 880,301.7 880,303.8 877.6,306.8" fill="#FFF3B3"/>
<polygon points="887,299.9 882.1,301.1 883.3,305.9 887.1,305 887.5,302" fill="#FFF3B3"/>
<polygon points="865,316.5 869.9,315.3 869.3,312.9 865,315 864.7,315.3" fill="#FFF3B3"/>
<polygon points="878,308.1 879.2,312.9 884,311.7 882.8,306.9" fill="#F98E1E"/>
<polygon points="883.1,306.9 884.3,311.8 885.5,311.5 886.5,310 887,306" fill="#FFF3B3"/>
<polygon points="884.6,311.9 879.8,313.1 881,318 881.1,318 884.8,312.6" fill="#FFF3B3"/>
<polygon points="843.7,336.8 848.6,335.6 847.2,330.3 843.1,334.4" fill="#F98E1E"/>
<polygon points="843.9,336.7 843.3,334.2 841.2,336.2 841.2,337.4" fill="#FFF3B3"/>
<polygon points="853.1,329.8 854.3,334.7 859.2,333.5 858,328.6" fill="#FFF3B3"/>
<polygon points="857.4,328 858.6,332.9 863.5,331.7 862.3,326.8" fill="#FFF3B3"/>
<polygon points="848.9,336.1 844.1,337.3 844.7,339.9 849.7,339.2" fill="#F98E1E"/>
<polygon points="853.3,335 848.5,336.2 849.2,339.2 854.2,338.4" fill="#FFF3B3"/>
<polygon points="868.1,330.6 863.2,331.8 864.5,336.7 866,336.3 868,333.8 868.7,333" fill="#F98E1E"/>
<polygon points="859.9,338.6 859.6,343.5 860.5,343.2 860.9,342.7" fill="#F98E1E"/>
<polygon points="864.1,336.5 864.5,338.2 866.2,336" fill="#FFF3B3"/>
<polygon points="859.6,342.9 859.5,344.5 861,342.6" fill="#FFF3B3"/>
<polygon points="797.5,425 910,415 955,495 955,540 925,540 875,450 800,450" fill="#CE5208"/>
<polygon points="900,420 907,420 910,425 907.5,430 900,430" fill="#F98E1E"/>
<polygon points="898.75,432.5 911.25,431.25 915,440 907.5,442.5 900,441.25" fill="#F98E1E"/>
<polygon points="876.25,446.25 886.25,442.5 890,447.5 895,450 895,456.25 886.25,460 877.5,455" fill="#F98E1E"/>
<polygon points="906.25,456.25 911.25,452.5 916.25,457.5 913.75,462.5 910,468.75 905,471.25" fill="#F98E1E"/>
<polygon points="923.75,453.75 932.5,465 933.75,477.5 928.75,475 927.5,465" fill="#F98E1E"/>
<polygon points="890,481.25 907.5,486.25 928.75,481.25 935,481.25 945,486.25 948.75,497.5 943.75,492.5 936.25,493.75 926.25,490 920,496.25 920,505 935,510 937.5,532.5 930,535 895,495" fill="#F98E1E"/>
<polygon points="908.75,490 918.75,490 918.75,496.25 908.75,496.25" fill="#CE5208"/>
<polygon points="933.75,481.25 942.5,481.25 942.5,488.75 933.75,488.75" fill="#CE5208"/>
<polygon points="898.75,421.25 908.75,420 910,430 901.25,430" fill="#F98E1E"/>
<polygon points="877.5,443.75 887.5,441.25 895,450 895,458.75 883.75,459.5 876.25,453.75" fill="#F98E1E"/>
<polygon points="800,432.5 831.25,429.5 832.5,437.5 828.75,443.75 800,448.75" fill="#F98E1E"/>
<polygon points="821.25,425 833.75,423.75 834.5,427.5 822,428.75" fill="#F98E1E"/>
<polygon points="883.75,230 957.5,211.25 962.5,208.75 966.25,203.75 963.75,196.25 966.25,190 961.25,182.5 963.75,175 980,182.5 985,185 985,225 975,270 950,250 930,230 920,227.5 901.25,226.25" fill="#F98E1E"/>
<polygon points="940,220 957.5,215 960,232.5 950,245 942.5,233.75" fill="#CE5208"/>
<polygon points="960,210 970,226.25 976.25,237.5 972.5,260 970,265 967,250 960,232.5" fill="#CE5208"/>
<polygon points="901.25,225.5 920,221.25 922.5,228.75 910,230 903.75,235" fill="#FECF6C"/>
<polygon points="963,175.5 972.5,178.75 970,185 962.5,183.75" fill="#FECF6C"/>
<polygon points="970,200 982.5,197.5 981.25,207.5 972.5,210" fill="#CE5208"/>
<polygon points="885,160 885,180 950,163.75 960,170 963.75,175 980,182.5 985,185 985,170 982.5,171.25 977.5,151.25 975,137.5 971.25,130 966.25,117.5 960,93.75 945,95 920,120 885,140" fill="#FECF6C"/>
<polygon points="927.5,117.5 931.25,111.25 937.5,102.5 945,96.25 960,92.5 966.25,117.5 960,120 950,116.25 942.5,120 935,117.5 932.5,125 920,127.5" fill="#F98E1E"/>
<polygon points="882.5,182.5 885,160 905,145 923.75,141.25 930,147.5 927.5,156.25 935,163.75 915,168.75 895,175 885,181.25" fill="#F98E1E"/>
<polygon points="895,168.75 908.75,163.75 920,155 930,156.25 935,163.75 915,169.5 896.25,174.5" fill="#FECF6C"/>
<polygon points="903.75,147.5 912.5,147 912.5,152 904.5,152.5" fill="#CE5208"/>
<polygon points="892.5,156.25 898.75,155 900,166.25 893.75,167.5" fill="#CE5208"/>
<polygon points="927.5,140 935,137.5 935,150 928.75,150" fill="#F98E1E"/>
<polygon points="961.25,138.75 970,138.75 970,147.5 961.25,147.5" fill="#CE5208"/>
<polygon points="955,137.5 970,135 975,136.25 977.5,151.25 982.5,171.25 980,175 963.75,175 960,170 956.25,163.75 960,157.5 957.5,147.5" fill="#F98E1E"/>
<polygon points="970,153.75 978.75,155 981.25,168.75 972.5,167.5" fill="#CE5208"/>
<polygon points="980,172.5 1010,157.5 1012.5,160 985,185 978.75,185" fill="#F98E1E"/>
<polygon points="975,137.5 986.25,132.5 1007.5,125 1017.5,125 1035,140 1027.5,150 1010,155 982.5,165 978,152" fill="#F98E1E"/>
<polygon points="977.5,151.25 1010,141.25 1017.5,152.5 985,172.5 982.5,171.25" fill="#F98E1E"/>
<polygon points="982.5,136.25 995,133.75 995,142.5 985,145" fill="#FECF6C"/>
<polygon points="980,152.5 986.25,151.25 988,160 982,162.5" fill="#FECF6C"/>
<polygon points="1003.75,143.75 1010,142 1011.25,147.5 1005.5,150" fill="#CE5208"/>
<polygon points="1006.25,147.5 1011.25,147.5 1011.25,155 1007,155.5" fill="#FECF6C"/>
<polygon points="960,92.5 985,83.75 986.25,95 983.75,110 985,122.5 986.25,132.5 976.25,137.5 971.25,130 966.25,117.5" fill="#FECF6C"/>
<polygon points="970,113.75 976.25,115 977.5,125 972.5,125" fill="#FFF3B3"/>
<polygon points="973.75,103.75 982.5,102.5 983,111.25 975,112.5" fill="#FFF3B3"/>
<polygon points="963,98.75 970,98.75 970,105 963.75,105" fill="#F98E1E"/>
<polygon points="985,83.75 986.25,76.25 989.5,76.25 996.25,93.75 1003.75,107.5 1009.5,117.5 1012.5,125 986.25,132.5 985,122.5 983.75,110 986.25,95" fill="#FECF6C"/>
<polygon points="988,85 993.75,98.75 990.5,105 986.25,100" fill="#FFF3B3"/>
<polygon points="991.25,122.5 1002.5,122.5 1010,125 986.25,132.5" fill="#F98E1E"/>
<polygon points="993.75,20 1008.75,16.25 1020,20 1022.5,32.5 1027.5,46.25 1030,57.5 1027.5,67.5 1022.5,75 1017.5,72.5 1015,62.5 1016.25,52.5 1010,38.75 1000,41.25 995,42.5 991.25,35" fill="#FECF6C"/>
<polygon points="1027.5,46.25 1036.25,48.75 1050,60 1045,68.75 1040,73.75 1035,75 1032.5,65 1030,57.5" fill="#FECF6C"/>
<polygon points="1003.75,93.75 1008.75,87.5 1012.5,95 1016.25,100 1011.25,108.75 1006.25,103.75" fill="#F98E1E"/>
<polygon points="996.25,93.75 1003.75,93.75 1006.25,103.75 1011.25,110 1011.25,118.75 1003.75,107.5" fill="#FECF6C"/>
<polygon points="809.7,165.5 819.7,164.6 820.3,172 810.3,172.9" fill="#CE5208"/>
<polygon points="819.2,173.1 831.6,172 833.3,191.1 820.9,192.2" fill="#CE5208"/>
<polygon points="791.4,190.8 808.6,189.3 809.3,197.5 792.1,199" fill="#CE5208"/>
<polygon points="808.7,181.1 816.4,180.5 817,187.2 809.3,187.8" fill="#CE5208"/>
<polygon points="778,172.1 788,171.3 788.6,177.9 778.6,178.7" fill="#CE5208"/>
<polygon points="809.7,173.7 818,173 818.6,180.4 810.3,181.1" fill="#FFF3B3"/>
<polygon points="816.4,179.3 823.7,178.7 824.3,186.4 817,187" fill="#FFF3B3"/>
<polygon points="793,183.7 802.2,182.9 802.8,190.4 793.6,191.2" fill="#FFF3B3"/>
<polygon points="883.2,210 892,208.2 893.8,217 885,218.8" fill="#CE5208"/>
<polygon points="754.3,185.1 759.8,184.9 760.2,192.4 754.7,192.6" fill="#CE5208"/>
<polygon points="756.5,212.4 767.5,211.6 768.5,226.1 757.5,226.9" fill="#CE5208"/>
<polygon points="757.1,239 771.1,238 771.9,250 757.9,251" fill="#CE5208"/>
<polygon points="770.7,208.8 789.6,207.2 790.3,215.7 771.4,217.3" fill="#F98E1E"/>
<polygon points="803.6,214.4 811.1,213.6 811.9,221.1 804.4,221.9" fill="#CE5208"/>
<polygon points="731.25,280 738.75,280 739.5,290 732.5,290" fill="#CE5208"/>
<polygon points="746.25,305 755,308.75 753.75,320 746.25,318.75" fill="#CE5208"/>
<polygon points="656.25,275 663.75,275 663.75,283.75 656.25,283.75" fill="#CE5208"/>
<polygon points="570,408.75 580,408.75 580,417.5 570,417.5" fill="#CE5208"/>
<polygon points="552.5,418.75 561.25,418.75 561.25,426.25 552.5,426.25" fill="#CE5208"/>
<polygon points="543.75,408.75 552.5,408.75 552.5,417.5 543.75,417.5" fill="#FFF3B3"/>
<polygon points="545,353.75 553.75,353.75 553.75,372.5 545,372.5" fill="#FECF6C"/>
<polygon points="522.5,362.5 537.5,362.5 537.5,371.25 528.75,372.5 527.5,390 522,391.25" fill="#FECF6C"/>
<polygon points="575,400 590,400 590,410 580,410 580,408.75 575,408.75" fill="#FECF6C"/>
<polygon points="579.58,406.67 589.17,406.67 589.17,427.5 593.33,427.08 595.83,435 596.67,443.33 600,445 622.08,432.5 617.5,425.83 616.67,418.33 616.67,406.67 607.5,406.67 607.5,417.92 600.42,418.33 600,426.67 593.33,427.08 589.17,427.5 579.58,427.92" fill="#FECF6C"/>
<polygon points="589.17,406.67 607.5,406.67 607.5,417.92 600.42,418.33 600,426.67 593.33,427.08 589.17,427.5" fill="#F98E1E"/>
<polygon points="575.83,447.92 600,447.92 610,449.17 611.67,453.33 606.67,460 599.17,460 599.17,455.42 571.25,455.42 571.25,449.17" fill="#FECF6C"/>
<polygon points="560,426.67 568.33,426.67 568.33,435 560,435" fill="#FECF6C"/>
</g>
<polygon points="795,116.25 785,116.25 777.5,118.75 771.25,122.5 766.25,123.75 762.5,127.5 760,133.75 756.25,140 753.75,146.25 751.75,152.5 755,150 760,141.25 765,132.5 767.5,126.25 767.5,130 763.75,140 760,150 758.75,160 758,170 758.75,180 760,190 763.75,200 770,210 776.25,210 781.25,202.5 783.75,192.5 782.5,180 778.75,172.5 776.25,162.5 777.5,152.5 782.5,145 786.25,135 791.25,127.5 793.75,120 796.25,117" fill="#fff" stroke="#111" stroke-width="1.2" stroke-linejoin="round"/>
<polygon points="954.2,222 953.2,228 955.2,235.1 958.6,242.1 962,247.9 965.2,253.7 963.6,257.6 966.4,261.8 965.6,266.4 969,269.9 972.5,274 973,268 971.2,264.5 968.2,261.8 967.7,249 964.7,244.4 962.4,239.8 958.9,235.1 956.6,228.2 955.3,222" fill="#fff" stroke="#111" stroke-width="0.8" stroke-linejoin="round"/>
<polygon points="964.7,290 970,287.6 975.1,286.1 978.9,287.2 974,289 969,291.2" fill="#fff" stroke="#111" stroke-width="0.8" stroke-linejoin="round"/>
<polygon points="970.5,303.8 975,300.4 979.8,296.5 984.4,293 985.6,297.6 982.1,303.4 976.3,308.1 972.8,310.8 972.3,306.5" fill="#fff" stroke="#111" stroke-width="0.8" stroke-linejoin="round"/>
<g fill="none" stroke="#1f1005" stroke-width="1.2" stroke-linejoin="round" stroke-linecap="round">
<polyline points="233.75,81.25 240,83.75 245,90 247.5,96.25 255,100 266.25,101.25 275,104.5 287.5,104.5 305,105 320,107.5 328.75,109.5"/>
<polyline points="340,48.75 335,77.5 328.75,109.5"/>
<polyline points="353.75,51.75 350.5,72.5 355,85 366.25,103.75 361.25,123.75 370,126.25 377.5,145 382.5,153.75 397.5,152.5 405,151.25 408.75,155"/>
<polyline points="328.75,109.5 333,117.5 327.5,127.5 320,140 318.75,146.25 315,172 318.75,150 310,192"/>
<polyline points="408.75,147 450,151.25 513.33,155"/>
<polyline points="408.75,147 406.25,172 409.5,150 401.25,208.25 399.25,229.5"/>
<polyline points="202,165.5 230,173.75 265,182.5 310,192 355,201.75 401.25,208.25"/>
<polyline points="265,182.5 251.75,241.25 300,312 283.75,290 323,341.25"/>
<polyline points="355,201.75 338.75,312 341.25,290 338,305 337.5,318.75 332.5,323.75 325,322.5 323,340 323.75,350 328.75,361.25 321.25,370 316.25,377.5 318.75,386.25 316.25,391.25"/>
<polyline points="399.25,229.5 430,233.75 450,235.5"/>
<polyline points="430,233.75 421.25,312 424.5,290 422,317 410,433.75"/>
<polyline points="338,305 380,311.25 422,317 450,319.5 422.5,316.25 472.5,321.25 522.5,324.25 573.75,324.25 640,323.25 660,322"/>
<polyline points="517.5,72.5 515,136.25 512,155 510,197.5 512,197.5 509.5,238.75"/>
<polyline points="430,148.75 512,155"/>
<polyline points="515,136.25 622.5,137"/>
<polyline points="612.5,73 616.25,97.5 618.75,117.5 622.5,137 620,142.5 624.5,148.75 626.25,160 627.5,187 625,196.25 627.5,210 627.5,208.75 633.75,217.5 636.25,230 640,240 642.5,248.75 647.5,256.25 652.5,262.5 655,266.25 656.25,272.5 661.25,276.25 663.75,321.75 666.25,332.5 667.5,352"/>
<polyline points="512,197.5 595,199.25 605,202.5 615,201.25 623.75,205.5 627.5,208.75"/>
<polyline points="627.5,187 700,181.25 705,181.25"/>
<polyline points="430,233.75 509.5,238.75 540.75,240.75 540.75,262 539.25,323.75"/>
<polyline points="540.75,262 647.5,260.75 652.5,262.5"/>
<polyline points="642.5,248 700,243 660,246.25 710,242.5"/>
<polyline points="522.5,324.25 518.75,427.5 455,425"/>
<polyline points="522.5,335 573.75,335 573.75,375 580,378.75 587.5,381.25 592.5,385 600,385 607.5,387.5 615,388.75 622.5,390 630,387.5 640,388.75 650,386.25 660,387 662.5,390 669.5,391.25 678.75,393.75 678.75,403.75 680,417.5 685,430 688.75,442.5 688.75,455 688.25,460 686.25,472"/>
<polyline points="662.5,300 663.75,321.75 665.5,332.5 670,362.5 669.5,391.25"/>
<polyline points="665.5,332.5 740,326.25 738.75,335 746.25,335.5"/>
<polyline points="678.75,403.75 730,400"/>
<polyline points="687,115.5 685,125 680,135 678.75,145 682.5,155 690,162.5 697.5,170 705,181.25 707.5,190 716.25,200 717.5,200 723.75,205 726.25,212.5 723.75,220 717.5,225 713.75,232.5 714.5,238.75 710,245 708.75,252.5 713.75,260 722.5,267.5 726.25,275 735,277.5 733.75,285 736.25,292.5 745,297.5 750,305 756.25,308.75 755,315 753.75,320 755,317.5 751.25,323.75 750,332.5 746.25,336.25 745,343.75 742.5,350 740,356.25 736.25,362.5 735,370 730,377.5 728.75,386.25 730,395 731.25,400 730,407.5 733.75,415 728.75,422.5 727.5,430 726.25,436.25 725,442.5 757.5,440 758.75,447.5 763.75,453.75"/>
<polyline points="713.75,115.5 725,121.25 737.5,123.75 747.5,127.5 752.5,135 756.25,140"/>
<polyline points="717.5,200.75 760,196.25"/>
<polyline points="768.75,211.25 771.25,230 776.25,265 773.75,280 771.25,290 772.5,295"/>
<polyline points="756.25,308.75 760,308.75 766.25,307.5 767.5,300 772.5,295 777.5,288.75 785,290 790,286.25 796.25,287.5 800,280 806.25,278.75 810,271.25 816.25,267.5 820,262.5 825,257.5 832.5,261.25 840,263.75 847.5,261.25 853.75,260 857.5,265 860,257.5 865,252.5 870,242.5 877.5,235 880,226.25 878.75,217.5 880,210"/>
<polyline points="810,203.75 820,262.5"/>
<polyline points="780,206.25 810,203.75 832.5,199.5"/>
<polyline points="875,187.5 883.75,230"/>
<polyline points="883.75,230 930,219.5 957.5,211.25 960,210"/>
<polyline points="901,226.5 904.2,235 910,225.8 917.5,224.2 920,228.3 929.2,231 932,229.5 929.2,232 926.7,237.5 922.5,240 920.8,246.7 915.8,250.8 910,253.3 905.8,250.8 904.2,254.2 902.5,260 900,268.3 897.5,273.3 895.8,277.5 889.2,280.8 883.3,284.2 877.5,286.7 870.8,282.5 865,277.5 860,272.5 857.5,265"/>
<polyline points="870,282 862.5,291.25 855,298.75 848.75,304.25"/>
<polyline points="756.25,322.5 772.5,317.5 810,311.25 848.75,304.25 880,299.5 930,288.25 940,283.75 975,276.25"/>
<polyline points="880,299.5 880,303.75 875,310 865,315 857.5,322.5 847.5,330 841.25,336.25 841.25,336.25 841.25,340.5"/>
<polyline points="740,356.25 777.5,353 820,347 800,348.75 821.25,345.5 841.25,340.5 860,337.5"/>
<polyline points="859.5,344.5 872.5,335 885,329.5 896.25,327.5 902.5,332.5 920,329.5 942.5,343 952.5,341.25"/>
<polyline points="860,337.5 859.5,344.5 865,348.75 875,360 887.5,370 900,380 907.5,388.75 911.25,391.25"/>
<polyline points="777.5,353 780,412.5 783.75,447.5"/>
<polyline points="820,347 830,377.5 837.5,400 840,417.5 845,430 842.5,426.25 846.25,431.25 896.25,426.25 897.5,428.75 898.75,421.25 907,420"/>
<polyline points="801.25,447.5 797.5,436.25 841.25,427.5 842.5,426.25"/>
<polyline points="885,180 950,163.75 960,170 963.75,175 961.25,182.5 966.25,190 963.75,196.25 966.25,203.75 962.5,208.75"/>
<polyline points="963.75,175 980,182.5"/>
<polyline points="960,93.75 966.25,117.5 971.25,130 975,137.5 977.5,152.5 977.5,151.25 982.5,171.25"/>
<polyline points="985,83.75 986.25,95 983.75,110 985,122.5 986.25,132.5"/>
<polyline points="989.5,76.25 996.25,93.75 1003.75,107.5 1009.5,117.5"/>
<polyline points="976.25,137.5 986.25,132.5 1007.5,125 1011.25,123.75"/>
<polyline points="978,152 1000,146.25 1010,142.5"/>
<polyline points="1003.75,143.75 1006.25,155"/>
<polyline points="932,229.5 940,231.7 942.5,240 946.7,243.3 951,245 956,246.5"/>
<polyline points="629,552 627.6,542 624,530 626.2,518 631.9,509.8 639.4,502.3 649.4,495.8 659.4,488.8"/>
</g>
<polygon points="235.5,33.25 245,38.75 255,41.25 257.5,35 265,28.75 292.5,35.75 316.25,42.5 340,48.75 353.75,51.75 380,56.75 405,61.25 430,64.25 450,66.25 480,69.33 516.67,72 563.33,73.33 613.33,72.67 620,72 638.75,71.25 639.5,63.75 643.75,63 646.25,72.5 651.25,76.25 661.25,78.75 667.5,77.5 676.25,80 683.75,83.75 692.5,85 700,82 708.75,83.75 720,84.5 716.25,87.5 708.75,93.75 700,101.25 692.5,108.75 687,115.5 695,113.75 703.75,112.5 706.25,114.5 710,113.75 713.75,116.25 720,112.5 727.5,107.5 733.75,100 738.75,94.5 743.75,92 747.5,93 743.75,98.75 738.75,103.75 740,107.5 745,107.5 755,111.25 762.5,110 770,106.25 777.5,103.75 785,100 790,103.75 798.75,102.5 802.5,107.5 810,110 812.5,112.5 806.25,113.75 800,115 795,116.25 796.25,117 805,121.25 813.75,125 818.75,130 821.25,138.75 820,147.5 816.25,155 815,158.75 820,160 825,152.5 831.25,150 836.25,157.5 840,170 838.75,178.75 835,185 833.75,193.75 832.5,199.5 837.5,200 841.25,198.75 845,202 855,198.75 867.5,192.5 877.5,183.75 885,176.25 883.75,176.25 890,166.25 888.75,153.75 895,148.75 905,146.25 915,145 923.75,141.25 927.5,135 923.75,125 928.75,117.5 931.25,110 923.75,125 927.5,117.5 931.25,111.25 937.5,102.5 945,97.5 960,93.75 985,83.75 986.25,77.5 990,75 993.75,60 992.5,47.5 993.75,35 996.25,22.5 1000,23.75 1008.75,18.75 1017.5,21.25 1022.5,32.5 1027.5,46.25 1036.25,50 1043.75,56.25 1047.5,61.25 1045,67.5 1040,72.5 1035,77.5 1030,85 1025,91.25 1020,96.25 1015,100 1011.25,107.5 1010,117.5 1012.8,125.3 1014.6,126.2 1011.4,130.8 1012.8,134.3 1016.9,135.7 1021.1,139.9 1021.8,143.5 1025.3,142.6 1029.4,141.2 1030.8,139.9 1029.8,136.8 1026.7,134.6 1027,133.4 1031,135.6 1032.5,139.9 1030.7,143 1026,144.8 1022,145.8 1019.7,146.8 1018.3,150.3 1014.9,152 1010.7,154.4 1005.8,157.8 1000.3,161 995,164.3 987.8,168.6 982.9,172.3 980.6,175.3 982.4,176.5 987.8,174.2 994.7,171 999.8,167.2 1006.5,163.6 1004,166.6 1008.2,164.6 1001.7,170 996,174.3 987.8,179.2 982.2,182 978.75,182.8 980,183.75 978.75,187.5 982.5,197.5 981.25,207.5 977.5,216.25 975,221.25 970,217.5 966.25,211.25 962.5,208.75 963.75,216.25 968.75,221.25 975,230 976.25,237.5 975,245 972.5,255 970,265 972.5,262.5 971.25,270 975,276.25 978.75,282.5 982.5,287.5 987,293.75 986.5,300 982,304.5 975,310.5 972.75,316 969.5,319.5 962.5,324.25 959,328 955,335 952.5,341.25 943.75,343.75 938.75,350 936.25,357.5 930,367.5 923.75,375 917.5,382.5 911.25,391.25 910,397.5 908.75,400 907.5,410 907,418.75 908.75,425 912.5,435 917.5,445 925,456.25 931.25,465 937.5,476.25 943.75,486.25 948.75,497.5 949.5,510 950,521.25 947.5,527.5 941.25,531.25 935,532.5 931.25,526.25 927.5,521.25 922.5,520 917.5,516.25 912.5,510 907.5,503.75 902.5,498.75 897.5,491.25 893.75,482.5 891.25,475 890,462.5 883.75,457.5 876.25,452.5 870,446.25 863.75,443 858.75,444.5 853.75,448.75 847.5,453.75 840,452.5 832.5,446.25 825,443.75 812.5,444.5 800,447.5 832.5,447 825,444.5 815,444.25 802.5,446.25 796.25,448.75 792.5,448.75 790,443.75 785,448.75 775,451.25 767.5,452.5 765,456.25 761.25,460 762.5,465 762.5,470 767.5,471.25 773.75,473 775,476.25 770,478.75 765,472.5 760,471.25 756.25,476.25 750,477.5 743.75,480.5 740,478.75 733.75,476.25 727.5,472.5 722.5,468.75 717.5,471.25 707.5,472 697.5,471.25 686.25,472 677.5,475 670,478.75 667.5,475 665,482.5 655,490 647.5,496.25 640,502.5 637.5,501.25 630,508.75 623.75,517.5 621.25,530 625,542.5 627,552.5 622.5,555 615,551.25 605,548.75 595,543.75 587.5,536.25 585,527.5 580,518.75 572.5,508.75 565,500 560,490 552.5,481.25 545,476.25 533.75,473.75 525,475 520,483.75 515,490 506.25,486.25 496.25,480 488.75,470 483.75,457.5 472.5,447.5 462.5,436.25 456.25,425.5 455,425 426.25,427.5 425,435 410.5,433.75 410,433.75 372.5,428.75 312,396.25 316.25,391.25 271.25,387.5 270,375 266.25,366.25 262.5,361.25 255,357.5 253.75,352.5 246.25,348.75 240,342.5 230,337.5 220,333.75 222.5,322.5 220,315 217.5,307.5 211.25,298.75 207.5,290 207,290 207.5,285 210,275 205,265 205,255 198.75,246.25 195,235 192,222.5 193,210 190.5,197.5 193.75,187.5 198.75,175 202,162.5 203.75,150 202,162.5 203.75,150 211.25,137.5 218.75,122.5 225,107.5 228.75,92.5 233.75,81.25 231.25,76.25 233.75,67.5 235.5,57.5 233.75,45" fill="none" stroke="#111" stroke-width="1.3" stroke-linejoin="round"/>
<polygon points="267,517.5 273.75,520 278.75,525 275,526.25 268.75,522.5" fill="#FECF6C" stroke="#111" stroke-width="0.9" stroke-linejoin="round"/>
<polygon points="280.5,553.75 286.25,553 288.75,557.5 285,559.5 281.25,557.5" fill="#FECF6C" stroke="#111" stroke-width="0.9" stroke-linejoin="round"/>
<polygon points="337.5,580 342.5,575 347.5,571.25 348.75,576.25 346.25,582.5 341.25,587.5 337.5,586.25" fill="#FECF6C" stroke="#111" stroke-width="0.9" stroke-linejoin="round"/>
<polygon points="447.5,516.25 453.75,515 457.5,518.75 455,523.75 448.75,523" fill="#FECF6C" stroke="#111" stroke-width="0.9" stroke-linejoin="round"/>
<polygon points="477.5,532.5 482.5,530 488.75,536.25 490,540 483.75,540 478.75,537.5" fill="#F98E1E" stroke="#111" stroke-width="0.9" stroke-linejoin="round"/>
<polygon points="497.5,542 507.5,543 507.5,545.5 498.75,545" fill="#FECF6C" stroke="#111" stroke-width="0.9" stroke-linejoin="round"/>
<polygon points="503,548.75 507.5,550 507.5,553.75 503.75,552.5" fill="#FECF6C" stroke="#111" stroke-width="0.9" stroke-linejoin="round"/>
<polygon points="510,547.5 515,548.75 523.75,552.5 523.75,556.25 517.5,557 511.25,553.75" fill="#FECF6C" stroke="#111" stroke-width="0.9" stroke-linejoin="round"/>
<polygon points="526.67,567 533.33,564.67 541.67,572 548.33,578.67 551,582.67 545,587 538.33,592 533.33,592 530,583.67 526.67,575.33" fill="#FECF6C" stroke="#111" stroke-width="0.9" stroke-linejoin="round"/>
<polygon points="723.75,87.5 733.75,78.75 735,80 726.25,88" fill="#FFF3B3" stroke="#111" stroke-width="0.9" stroke-linejoin="round"/>
<defs><clipPath id="ak"><polygon points="326.25,450 331.25,453.75 337.5,456.25 350,457 362.5,455.5 371.25,457.5 381.25,502.5 392.5,542.5 400,541.25 406.25,547.5 413.75,550 416.25,541.25 422.5,542.5 432.5,550 442.5,557.5 452.5,560 458.75,565 457.5,571.25 451.25,573.75 446.25,577.5 438.75,570 430,563.75 422.5,557.5 415,552.5 406.25,550 398.75,546.25 390,547.5 380,548 372.5,545 367.5,550 363.75,553.75 361.25,547.5 358.75,542.5 353.75,543.75 348.75,550 347.5,558.75 350,562.5 345,561.25 341.25,567.5 338.75,576.25 331.25,585 323.75,592.5 316.25,598.75 308.75,603 300,607 292,611 289,609 297.5,604 305,599.5 312.5,593.75 320,587.5 323.75,578.75 326.25,570 321.25,571.25 316.25,570 310,571.25 303.75,570 305,563.75 300,557.5 293.75,553.75 290,547.5 288.75,540 292.5,533.75 291.25,528.75 300,525 306.25,521.25 307.5,515 300,512.5 291.25,513.75 286.25,507.5 285,501.25 292.5,496.25 301.25,496.25 306.25,498.75 307.5,493.75 302.5,490 297.5,485 293.75,477.5 295,472.5 303.75,470 310,462.5 317.5,456.25 323.75,451.25"/></clipPath></defs>
<polygon points="326.25,450 331.25,453.75 337.5,456.25 350,457 362.5,455.5 371.25,457.5 381.25,502.5 392.5,542.5 400,541.25 406.25,547.5 413.75,550 416.25,541.25 422.5,542.5 432.5,550 442.5,557.5 452.5,560 458.75,565 457.5,571.25 451.25,573.75 446.25,577.5 438.75,570 430,563.75 422.5,557.5 415,552.5 406.25,550 398.75,546.25 390,547.5 380,548 372.5,545 367.5,550 363.75,553.75 361.25,547.5 358.75,542.5 353.75,543.75 348.75,550 347.5,558.75 350,562.5 345,561.25 341.25,567.5 338.75,576.25 331.25,585 323.75,592.5 316.25,598.75 308.75,603 300,607 292,611 289,609 297.5,604 305,599.5 312.5,593.75 320,587.5 323.75,578.75 326.25,570 321.25,571.25 316.25,570 310,571.25 303.75,570 305,563.75 300,557.5 293.75,553.75 290,547.5 288.75,540 292.5,533.75 291.25,528.75 300,525 306.25,521.25 307.5,515 300,512.5 291.25,513.75 286.25,507.5 285,501.25 292.5,496.25 301.25,496.25 306.25,498.75 307.5,493.75 302.5,490 297.5,485 293.75,477.5 295,472.5 303.75,470 310,462.5 317.5,456.25 323.75,451.25" fill="#FECF6C"/>
<g clip-path="url(#ak)">
<polygon points="370,470 377.5,497.5 370,503.75 361.25,502.5 355,506.25 355,512.5 345,515 340,522.5 340,533.75 327.5,538.75 313.75,540 303.75,543.75 292.5,546.25 285,540 292.5,533.75 300,526.25 312.5,522.5 313.75,500 328.75,496.25 330,482.5 342.5,480 358.75,477.5 362.5,471.25" fill="#FFF3B3"/>
<polygon points="315,550 327.5,548.75 330,562.5 322.5,565 311.25,562.5" fill="#FFF3B3"/>
<polygon points="354.5,505 363.75,503 370,502.5 371.25,506.25 366.25,511.25 356.25,513" fill="#F98E1E"/>
<polygon points="355,541.25 360,540 360,544.5 355.5,545" fill="#F98E1E"/>
<polygon points="287.5,612.5 291.25,605 300,600 308.75,596.25 312.5,600 302.5,607.5 292.5,613" fill="#F98E1E"/>
</g>
<polygon points="326.25,450 331.25,453.75 337.5,456.25 350,457 362.5,455.5 371.25,457.5 381.25,502.5 392.5,542.5 400,541.25 406.25,547.5 413.75,550 416.25,541.25 422.5,542.5 432.5,550 442.5,557.5 452.5,560 458.75,565 457.5,571.25 451.25,573.75 446.25,577.5 438.75,570 430,563.75 422.5,557.5 415,552.5 406.25,550 398.75,546.25 390,547.5 380,548 372.5,545 367.5,550 363.75,553.75 361.25,547.5 358.75,542.5 353.75,543.75 348.75,550 347.5,558.75 350,562.5 345,561.25 341.25,567.5 338.75,576.25 331.25,585 323.75,592.5 316.25,598.75 308.75,603 300,607 292,611 289,609 297.5,604 305,599.5 312.5,593.75 320,587.5 323.75,578.75 326.25,570 321.25,571.25 316.25,570 310,571.25 303.75,570 305,563.75 300,557.5 293.75,553.75 290,547.5 288.75,540 292.5,533.75 291.25,528.75 300,525 306.25,521.25 307.5,515 300,512.5 291.25,513.75 286.25,507.5 285,501.25 292.5,496.25 301.25,496.25 306.25,498.75 307.5,493.75 302.5,490 297.5,485 293.75,477.5 295,472.5 303.75,470 310,462.5 317.5,456.25 323.75,451.25" fill="none" stroke="#111" stroke-width="1" stroke-linejoin="round"/>
<g fill="none" stroke="#111" stroke-width="1.9" stroke-linecap="round" stroke-linejoin="round">
<polyline points="290,607.67 280,613.67 270,618.67"/>
<polyline points="268.33,620.33 260,623.67"/>
<polyline points="250,626 240,625.33 230,626 220,624.67"/>
<polyline points="215,625.33 211.67,623.67"/>
<polyline points="205,621.33 198.33,614.67"/>
<polyline points="181.67,600.33 180,597"/>
<polyline points="420,547.5 430,556.25 440,565 447.5,572.5"/>
<polyline points="425,546.25 435,553.75 446.25,563.75 453.75,568.75"/>
<polyline points="432.5,557.5 438.75,565 445,575"/>
<polyline points="435,550 445,560"/>
<polyline points="950,522.5 947.5,531.25 939.5,540 931.25,544.5"/>
<polyline points="933.75,543 927.5,546 923,548"/>
</g>
<circle cx="282" cy="500" r="0.8" fill="#111"/>
<circle cx="283" cy="507.5" r="0.8" fill="#111"/>
<circle cx="265" cy="581.75" r="0.8" fill="#111"/>
<circle cx="267.5" cy="588" r="0.8" fill="#111"/>
<circle cx="260" cy="548.75" r="0.8" fill="#111"/>
<circle cx="335" cy="597.5" r="0.8" fill="#111"/>
<circle cx="433" cy="525.75" r="0.8" fill="#111"/>
<circle cx="916.25" cy="548.75" r="0.8" fill="#111"/>
<polygon points="361.25,543.75 371.25,545 370,551.25 365,554.5 362.5,550" fill="#111" stroke="#111" stroke-width="0.6"/>
<polygon points="438.75,520 442,520.5 441.5,523.75 438.5,523" fill="#111" stroke="#111" stroke-width="0.6"/>
<polygon points="511.25,556.25 515,556.75 514.5,558.5 511,558" fill="#111" stroke="#111" stroke-width="0.6"/>
<polygon points="220,343.25 226.25,344.5 227.5,347 221.25,346" fill="#111" stroke="#111" stroke-width="0.6"/>
<polygon points="228,345.5 233.75,346.5 233.5,348.5 228.5,348" fill="#111" stroke="#111" stroke-width="0.6"/>
<polygon points="234.5,347 239,347.75 238.5,349.25 234.75,349" fill="#111" stroke="#111" stroke-width="0.6"/>
<polygon points="249.5,362.5 253,364.5 254,367.5 251,366.5" fill="#111" stroke="#111" stroke-width="0.6"/>
<polygon points="247,372 249.5,373.75 251.5,378 249,377" fill="#111" stroke="#111" stroke-width="0.6"/>
<polygon points="230.75,362.75 233,363.5 232.5,365 230.5,364.25" fill="#111" stroke="#111" stroke-width="0.6"/>
<polygon points="257.5,33 260.5,32.5 262,35.5 265.5,34.5 266.25,42 264,47.5 265.5,51.5 263,57.5 261.5,64 259,64.5 260,58 258.5,53 261.5,47.5 260.5,41.5 258,39" fill="#111" stroke="#111" stroke-width="0.6"/>
<polygon points="205,251.25 209,250.5 210,254 208,257.5 209.5,262.5 207,265 204.5,260 206,256.25" fill="#111" stroke="#111" stroke-width="0.6"/>
<polygon points="892,480.5 896.25,482 900,485 898,488.75 895,486.25 893,484" fill="#111" stroke="#111" stroke-width="0.6"/>
<polygon points="907.5,500 910.5,502.5 912,508 910,510 908,505" fill="#111" stroke="#111" stroke-width="0.6"/>
<polygon points="840,452 846.25,453 851.25,450 852,451.5 847,455 840.5,453.5" fill="#111" stroke="#111" stroke-width="0.6"/>
<polygon points="1030,81.5 1032,80 1033.25,82.5 1032,85.5 1030.5,84.5" fill="#111" stroke="#111" stroke-width="0.6"/>
<polygon points="1024,90.5 1026,89 1027,91.5 1025.5,94.5 1024,93.5" fill="#111" stroke="#111" stroke-width="0.6"/>
<polygon points="1037,75 1038.75,74 1039.5,76 1037.75,77" fill="#111" stroke="#111" stroke-width="0.6"/>
<polygon points="1034,78.5 1035.5,77.5 1036.25,79.5 1034.75,80.25" fill="#111" stroke="#111" stroke-width="0.6"/>
<polygon points="1011.5,147.5 1014.5,147 1015.5,150 1013,151.5 1011.25,150" fill="#111" stroke="#111" stroke-width="0.6"/>
<polygon points="1021.5,150.5 1025,150 1025.5,152 1022,152.5" fill="#111" stroke="#111" stroke-width="0.6"/>
<polygon points="1031,148 1034.5,148 1034.5,150 1031.25,150" fill="#111" stroke="#111" stroke-width="0.6"/>
<polygon points="705.75,108.75 708,108.25 709,112 706.75,112.5" fill="#111" stroke="#111" stroke-width="0.6"/>
<polygon points="783.75,134.5 787,134 788,140.5 785.5,141.5 784.5,137.5" fill="#111" stroke="#111" stroke-width="0.6"/>
<polygon points="777,138 780,137.5 780.5,140 777.5,140.5" fill="#111" stroke="#111" stroke-width="0.6"/>
<polygon points="782.5,122.5 785,122 785.5,125.5 783,126" fill="#111" stroke="#111" stroke-width="0.6"/>
<circle cx="286.75" cy="70" r="5" fill="#fff" stroke="#5e534a" stroke-width="1.25"/>
<circle cx="266.75" cy="140.25" r="3.6" fill="#fff" stroke="#5e534a" stroke-width="1.25"/>
<circle cx="355.75" cy="151" r="2.7" fill="#fff" stroke="#5e534a" stroke-width="1.25"/>
<circle cx="435.75" cy="105.6" r="2" fill="#fff" stroke="#5e534a" stroke-width="1.25"/>
<circle cx="305.5" cy="248.75" r="3.1" fill="#fff" stroke="#5e534a" stroke-width="1.25"/>
<circle cx="384.5" cy="263" r="3.4" fill="#fff" stroke="#5e534a" stroke-width="1.25"/>
<circle cx="251" cy="282.75" r="11.5" fill="#fff" stroke="#5e534a" stroke-width="1.25"/>
<circle cx="370.75" cy="367.5" r="4.8" fill="#fff" stroke="#5e534a" stroke-width="1.25"/>
<circle cx="457.5" cy="193.75" r="1.9" fill="#fff" stroke="#5e534a" stroke-width="1.25"/>
<circle cx="482.5" cy="279.5" r="4.6" fill="#fff" stroke="#5e534a" stroke-width="1.25"/>
<circle cx="566.5" cy="105.75" r="2.1" fill="#fff" stroke="#5e534a" stroke-width="1.25"/>
<circle cx="570" cy="168.75" r="2.1" fill="#fff" stroke="#5e534a" stroke-width="1.25"/>
<circle cx="576.25" cy="229.5" r="2.8" fill="#fff" stroke="#5e534a" stroke-width="1.25"/>
<circle cx="599.75" cy="293" r="3.2" fill="#fff" stroke="#5e534a" stroke-width="1.25"/>
<circle cx="655.6" cy="127.25" r="4.6" fill="#fff" stroke="#5e534a" stroke-width="1.25"/>
<circle cx="674.25" cy="214.25" r="3.4" fill="#fff" stroke="#5e534a" stroke-width="1.25"/>
<circle cx="697" cy="290.75" r="5" fill="#fff" stroke="#5e534a" stroke-width="1.25"/>
<circle cx="721.75" cy="155.5" r="4.8" fill="#fff" stroke="#5e534a" stroke-width="1.25"/>
<circle cx="791.25" cy="151.75" r="6" fill="#fff" stroke="#5e534a" stroke-width="1.25"/>
<circle cx="746.25" cy="249.75" r="7" fill="#fff" stroke="#5e534a" stroke-width="1.25"/>
<circle cx="793" cy="245.75" r="5" fill="#fff" stroke="#5e534a" stroke-width="1.25"/>
<circle cx="846.25" cy="226.75" r="6.6" fill="#fff" stroke="#5e534a" stroke-width="1.25"/>
<circle cx="816.5" cy="292" r="4" fill="#fff" stroke="#5e534a" stroke-width="1.25"/>
<circle cx="804.5" cy="329.9" r="4.9" fill="#fff" stroke="#5e534a" stroke-width="1.25"/>
<circle cx="585.25" cy="439.5" r="9.8" fill="#fff" stroke="#5e534a" stroke-width="1.25"/>
<circle cx="718.25" cy="442.25" r="3.6" fill="#fff" stroke="#5e534a" stroke-width="1.25"/>
<circle cx="755.5" cy="402.75" r="3.1" fill="#fff" stroke="#5e534a" stroke-width="1.25"/>
<circle cx="805.5" cy="394.75" r="3.9" fill="#fff" stroke="#5e534a" stroke-width="1.25"/>
<circle cx="865.1" cy="387.4" r="5.9" fill="#fff" stroke="#5e534a" stroke-width="1.25"/>
<circle cx="896.75" cy="466.25" r="8.5" fill="#fff" stroke="#5e534a" stroke-width="1.25"/>
<circle cx="903.75" cy="352" r="3.8" fill="#fff" stroke="#5e534a" stroke-width="1.25"/>
<circle cx="922.5" cy="311.75" r="6.1" fill="#fff" stroke="#5e534a" stroke-width="1.25"/>
<circle cx="921.5" cy="269.25" r="5.6" fill="#fff" stroke="#5e534a" stroke-width="1.25"/>
<circle cx="887.4" cy="253.4" r="2.6" fill="#fff" stroke="#5e534a" stroke-width="1.25"/>
<circle cx="920.5" cy="196.25" r="6.9" fill="#fff" stroke="#5e534a" stroke-width="1.25"/>
<circle cx="942" cy="144.25" r="8.6" fill="#fff" stroke="#5e534a" stroke-width="1.25"/>
<circle cx="1012.75" cy="63.75" r="2.4" fill="#fff" stroke="#5e534a" stroke-width="1.25"/>
<circle cx="975.25" cy="107.75" r="1.9" fill="#fff" stroke="#5e534a" stroke-width="1.25"/>
<circle cx="993.25" cy="109.5" r="2.2" fill="#fff" stroke="#5e534a" stroke-width="1.25"/>
<circle cx="1000.25" cy="139.5" r="4.6" fill="#fff" stroke="#5e534a" stroke-width="1.25"/>
<circle cx="991.25" cy="157" r="3.5" fill="#fff" stroke="#5e534a" stroke-width="1.25"/>
<circle cx="1007.5" cy="149.5" r="2" fill="#fff" stroke="#5e534a" stroke-width="1.25"/>
<circle cx="341.75" cy="519.25" r="1.5" fill="#fff" stroke="#5e534a" stroke-width="1.25"/>
<circle cx="519" cy="564.3" r="1.8" fill="#fff" stroke="#5e534a" stroke-width="1.25"/>
<circle cx="467.25" cy="374.75" r="2.8" fill="#fff" stroke="#5e534a" stroke-width="1.25"/>
<circle cx="616.25" cy="353.5" r="3.6" fill="#fff" stroke="#5e534a" stroke-width="1.25"/>
<circle cx="703.75" cy="362.75" r="3.2" fill="#fff" stroke="#5e534a" stroke-width="1.25"/>
<circle cx="971.5" cy="196.25" r="5.6" fill="#fff" stroke="#5e534a" stroke-width="1.25"/>
<circle cx="946.25" cy="229.5" r="4.5" fill="#fff" stroke="#5e534a" stroke-width="1.25"/>
<circle cx="966.25" cy="224.5" r="1.8" fill="#fff" stroke="#5e534a" stroke-width="1.25"/>

<g font-family="Liberation Sans, Arial, sans-serif" fill="#111" stroke="#111" stroke-width="0.25">
<text x="70.9" y="63.8" font-size="14" text-anchor="middle">N</text>
<polygon points="71.2,67.5 63,105.8 71.2,98.7" fill="#fff" stroke="#111" stroke-width="0.9" stroke-linejoin="miter"/>
<polygon points="71.2,67.5 79.5,106 71.2,98.7" fill="#111" stroke="#111" stroke-width="0.9" stroke-linejoin="miter"/>
<text x="45.3" y="343.8" font-size="17.6" textLength="41.6" lengthAdjust="spacingAndGlyphs">black</text>
<rect x="46.4" y="354.5" width="16.5" height="16.8" fill="#FFF3B3" stroke="none"/>
<rect x="46.4" y="371.2" width="16.5" height="16.8" fill="#FECF6C" stroke="none"/>
<rect x="46.4" y="387.9" width="16.5" height="16.8" fill="#F98E1E" stroke="none"/>
<rect x="46.4" y="404.6" width="16.5" height="16.5" fill="#CE5208" stroke="none"/>
<text x="67.5" y="368.3" font-size="13.3" textLength="56.5" lengthAdjust="spacingAndGlyphs">0.0 to 0.7</text>
<text x="67.5" y="384.9" font-size="13.3" textLength="56.5" lengthAdjust="spacingAndGlyphs">0.7 to 2.3</text>
<text x="67.5" y="401.5" font-size="13.3" textLength="64" lengthAdjust="spacingAndGlyphs">2.3 to 10.7</text>
<text x="67.5" y="418.1" font-size="13.3" textLength="72.5" lengthAdjust="spacingAndGlyphs">10.7 to 85.3</text>
<text x="45.8" y="452" font-size="17.6" textLength="28.6" lengthAdjust="spacingAndGlyphs">pop</text>
<g fill="#fff" stroke="#5a5a5a" stroke-width="1.1">
<circle cx="68.1" cy="476.4" r="5.9"/><circle cx="112.1" cy="476.4" r="8.5"/><circle cx="155.8" cy="476.4" r="10.5"/><circle cx="199.7" cy="476.4" r="12.1"/>
</g>
<g font-size="12.8" text-anchor="middle">
<text x="68.4" y="502.4" textLength="38.5" lengthAdjust="spacingAndGlyphs">10 mln</text>
<text x="112.1" y="502.4" textLength="39" lengthAdjust="spacingAndGlyphs">20 mln</text>
<text x="155.8" y="502.4" textLength="39" lengthAdjust="spacingAndGlyphs">30 mln</text>
<text x="199.7" y="502.4" textLength="39" lengthAdjust="spacingAndGlyphs">40 mln</text>
</g>
<rect x="595.3" y="598.4" width="283.5" height="6.2" fill="#fff" stroke="#111" stroke-width="0.9"/>
<rect x="689.9" y="598.4" width="95.2" height="6.2" fill="#111" stroke="none"/>
<g font-size="9.7" fill="#222" stroke="none">
<text x="595.3" y="614.8" text-anchor="middle">0</text>
<text x="690.5" y="614.8" text-anchor="middle">500</text>
<text x="785.1" y="614.8" text-anchor="middle">1000</text>
<text x="868.5" y="614.8" textLength="37.3" lengthAdjust="spacingAndGlyphs">1500 km</text>
</g>
</g>

</svg>
</body></html>
